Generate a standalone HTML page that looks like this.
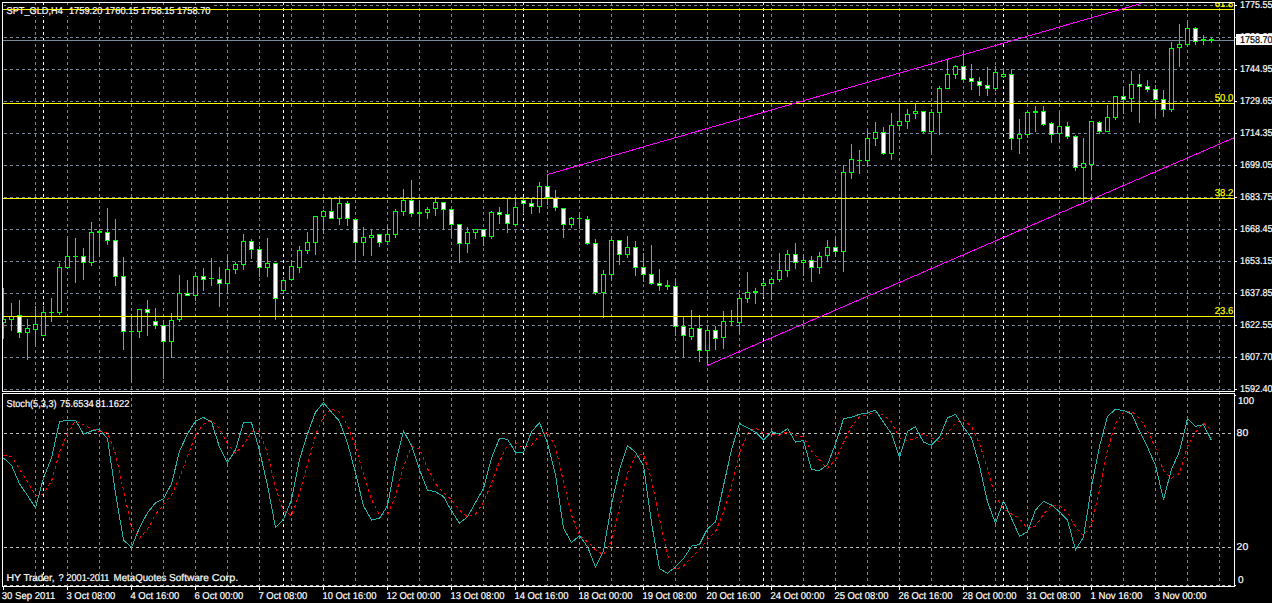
<!DOCTYPE html>
<html><head><meta charset="utf-8"><title>SPT_GLD,H4</title>
<style>html,body{margin:0;padding:0;background:#000;overflow:hidden;font-family:"Liberation Sans",sans-serif}svg text{font-family:"Liberation Sans",sans-serif;white-space:pre}</style>
</head><body>
<svg width="1272" height="603" viewBox="0 0 1272 603" shape-rendering="crispEdges" text-rendering="geometricPrecision" font-family="'Liberation Sans',sans-serif" style="display:block">
<defs><clipPath id="mc"><rect x="3" y="3" width="1231" height="388"/></clipPath><clipPath id="ic"><rect x="3" y="394" width="1231" height="192"/></clipPath></defs>
<rect width="1272" height="603" fill="#000"/>
<g>
<path d="M35 3v2h1v-2zM35 8v3h1v-3zM35 14v3h1v-3zM35 20v3h1v-3zM35 26v3h1v-3zM35 32v3h1v-3zM35 38v3h1v-3zM35 44v3h1v-3zM35 50v3h1v-3zM35 56v3h1v-3zM35 62v3h1v-3zM35 68v3h1v-3zM35 74v3h1v-3zM35 80v3h1v-3zM35 86v3h1v-3zM35 92v3h1v-3zM35 98v3h1v-3zM35 104v3h1v-3zM35 110v3h1v-3zM35 116v3h1v-3zM35 122v3h1v-3zM35 128v3h1v-3zM35 134v3h1v-3zM35 140v3h1v-3zM35 146v3h1v-3zM35 152v3h1v-3zM35 158v3h1v-3zM35 164v3h1v-3zM35 170v3h1v-3zM35 176v3h1v-3zM35 182v3h1v-3zM35 188v3h1v-3zM35 194v3h1v-3zM35 200v3h1v-3zM35 206v3h1v-3zM35 212v3h1v-3zM35 218v3h1v-3zM35 224v3h1v-3zM35 230v3h1v-3zM35 236v3h1v-3zM35 242v3h1v-3zM35 248v3h1v-3zM35 254v3h1v-3zM35 260v3h1v-3zM35 266v3h1v-3zM35 272v3h1v-3zM35 278v3h1v-3zM35 284v3h1v-3zM35 290v3h1v-3zM35 296v3h1v-3zM35 302v3h1v-3zM35 308v3h1v-3zM35 314v3h1v-3zM35 320v3h1v-3zM35 326v3h1v-3zM35 332v3h1v-3zM35 338v3h1v-3zM35 344v3h1v-3zM35 350v3h1v-3zM35 356v3h1v-3zM35 362v3h1v-3zM35 368v3h1v-3zM35 374v3h1v-3zM35 380v3h1v-3zM35 386v3h1v-3zM35 392v3h1v-3zM35 398v3h1v-3zM35 404v3h1v-3zM35 410v3h1v-3zM35 416v3h1v-3zM35 422v3h1v-3zM35 428v3h1v-3zM35 434v3h1v-3zM35 440v3h1v-3zM35 446v3h1v-3zM35 452v3h1v-3zM35 458v3h1v-3zM35 464v3h1v-3zM35 470v3h1v-3zM35 476v3h1v-3zM35 482v3h1v-3zM35 488v3h1v-3zM35 494v3h1v-3zM35 500v3h1v-3zM35 506v3h1v-3zM35 512v3h1v-3zM35 518v3h1v-3zM35 524v3h1v-3zM35 530v3h1v-3zM35 536v3h1v-3zM35 542v3h1v-3zM35 548v3h1v-3zM35 554v3h1v-3zM35 560v3h1v-3zM35 566v3h1v-3zM35 572v3h1v-3zM35 578v3h1v-3zM35 584v2h1v-2z" fill="#778899"/>
<path d="M67 3v2h1v-2zM67 8v3h1v-3zM67 14v3h1v-3zM67 20v3h1v-3zM67 26v3h1v-3zM67 32v3h1v-3zM67 38v3h1v-3zM67 44v3h1v-3zM67 50v3h1v-3zM67 56v3h1v-3zM67 62v3h1v-3zM67 68v3h1v-3zM67 74v3h1v-3zM67 80v3h1v-3zM67 86v3h1v-3zM67 92v3h1v-3zM67 98v3h1v-3zM67 104v3h1v-3zM67 110v3h1v-3zM67 116v3h1v-3zM67 122v3h1v-3zM67 128v3h1v-3zM67 134v3h1v-3zM67 140v3h1v-3zM67 146v3h1v-3zM67 152v3h1v-3zM67 158v3h1v-3zM67 164v3h1v-3zM67 170v3h1v-3zM67 176v3h1v-3zM67 182v3h1v-3zM67 188v3h1v-3zM67 194v3h1v-3zM67 200v3h1v-3zM67 206v3h1v-3zM67 212v3h1v-3zM67 218v3h1v-3zM67 224v3h1v-3zM67 230v3h1v-3zM67 236v3h1v-3zM67 242v3h1v-3zM67 248v3h1v-3zM67 254v3h1v-3zM67 260v3h1v-3zM67 266v3h1v-3zM67 272v3h1v-3zM67 278v3h1v-3zM67 284v3h1v-3zM67 290v3h1v-3zM67 296v3h1v-3zM67 302v3h1v-3zM67 308v3h1v-3zM67 314v3h1v-3zM67 320v3h1v-3zM67 326v3h1v-3zM67 332v3h1v-3zM67 338v3h1v-3zM67 344v3h1v-3zM67 350v3h1v-3zM67 356v3h1v-3zM67 362v3h1v-3zM67 368v3h1v-3zM67 374v3h1v-3zM67 380v3h1v-3zM67 386v3h1v-3zM67 392v3h1v-3zM67 398v3h1v-3zM67 404v3h1v-3zM67 410v3h1v-3zM67 416v3h1v-3zM67 422v3h1v-3zM67 428v3h1v-3zM67 434v3h1v-3zM67 440v3h1v-3zM67 446v3h1v-3zM67 452v3h1v-3zM67 458v3h1v-3zM67 464v3h1v-3zM67 470v3h1v-3zM67 476v3h1v-3zM67 482v3h1v-3zM67 488v3h1v-3zM67 494v3h1v-3zM67 500v3h1v-3zM67 506v3h1v-3zM67 512v3h1v-3zM67 518v3h1v-3zM67 524v3h1v-3zM67 530v3h1v-3zM67 536v3h1v-3zM67 542v3h1v-3zM67 548v3h1v-3zM67 554v3h1v-3zM67 560v3h1v-3zM67 566v3h1v-3zM67 572v3h1v-3zM67 578v3h1v-3zM67 584v2h1v-2z" fill="#778899"/>
<path d="M99 3v2h1v-2zM99 8v3h1v-3zM99 14v3h1v-3zM99 20v3h1v-3zM99 26v3h1v-3zM99 32v3h1v-3zM99 38v3h1v-3zM99 44v3h1v-3zM99 50v3h1v-3zM99 56v3h1v-3zM99 62v3h1v-3zM99 68v3h1v-3zM99 74v3h1v-3zM99 80v3h1v-3zM99 86v3h1v-3zM99 92v3h1v-3zM99 98v3h1v-3zM99 104v3h1v-3zM99 110v3h1v-3zM99 116v3h1v-3zM99 122v3h1v-3zM99 128v3h1v-3zM99 134v3h1v-3zM99 140v3h1v-3zM99 146v3h1v-3zM99 152v3h1v-3zM99 158v3h1v-3zM99 164v3h1v-3zM99 170v3h1v-3zM99 176v3h1v-3zM99 182v3h1v-3zM99 188v3h1v-3zM99 194v3h1v-3zM99 200v3h1v-3zM99 206v3h1v-3zM99 212v3h1v-3zM99 218v3h1v-3zM99 224v3h1v-3zM99 230v3h1v-3zM99 236v3h1v-3zM99 242v3h1v-3zM99 248v3h1v-3zM99 254v3h1v-3zM99 260v3h1v-3zM99 266v3h1v-3zM99 272v3h1v-3zM99 278v3h1v-3zM99 284v3h1v-3zM99 290v3h1v-3zM99 296v3h1v-3zM99 302v3h1v-3zM99 308v3h1v-3zM99 314v3h1v-3zM99 320v3h1v-3zM99 326v3h1v-3zM99 332v3h1v-3zM99 338v3h1v-3zM99 344v3h1v-3zM99 350v3h1v-3zM99 356v3h1v-3zM99 362v3h1v-3zM99 368v3h1v-3zM99 374v3h1v-3zM99 380v3h1v-3zM99 386v3h1v-3zM99 392v3h1v-3zM99 398v3h1v-3zM99 404v3h1v-3zM99 410v3h1v-3zM99 416v3h1v-3zM99 422v3h1v-3zM99 428v3h1v-3zM99 434v3h1v-3zM99 440v3h1v-3zM99 446v3h1v-3zM99 452v3h1v-3zM99 458v3h1v-3zM99 464v3h1v-3zM99 470v3h1v-3zM99 476v3h1v-3zM99 482v3h1v-3zM99 488v3h1v-3zM99 494v3h1v-3zM99 500v3h1v-3zM99 506v3h1v-3zM99 512v3h1v-3zM99 518v3h1v-3zM99 524v3h1v-3zM99 530v3h1v-3zM99 536v3h1v-3zM99 542v3h1v-3zM99 548v3h1v-3zM99 554v3h1v-3zM99 560v3h1v-3zM99 566v3h1v-3zM99 572v3h1v-3zM99 578v3h1v-3zM99 584v2h1v-2z" fill="#778899"/>
<path d="M131 3v2h1v-2zM131 8v3h1v-3zM131 14v3h1v-3zM131 20v3h1v-3zM131 26v3h1v-3zM131 32v3h1v-3zM131 38v3h1v-3zM131 44v3h1v-3zM131 50v3h1v-3zM131 56v3h1v-3zM131 62v3h1v-3zM131 68v3h1v-3zM131 74v3h1v-3zM131 80v3h1v-3zM131 86v3h1v-3zM131 92v3h1v-3zM131 98v3h1v-3zM131 104v3h1v-3zM131 110v3h1v-3zM131 116v3h1v-3zM131 122v3h1v-3zM131 128v3h1v-3zM131 134v3h1v-3zM131 140v3h1v-3zM131 146v3h1v-3zM131 152v3h1v-3zM131 158v3h1v-3zM131 164v3h1v-3zM131 170v3h1v-3zM131 176v3h1v-3zM131 182v3h1v-3zM131 188v3h1v-3zM131 194v3h1v-3zM131 200v3h1v-3zM131 206v3h1v-3zM131 212v3h1v-3zM131 218v3h1v-3zM131 224v3h1v-3zM131 230v3h1v-3zM131 236v3h1v-3zM131 242v3h1v-3zM131 248v3h1v-3zM131 254v3h1v-3zM131 260v3h1v-3zM131 266v3h1v-3zM131 272v3h1v-3zM131 278v3h1v-3zM131 284v3h1v-3zM131 290v3h1v-3zM131 296v3h1v-3zM131 302v3h1v-3zM131 308v3h1v-3zM131 314v3h1v-3zM131 320v3h1v-3zM131 326v3h1v-3zM131 332v3h1v-3zM131 338v3h1v-3zM131 344v3h1v-3zM131 350v3h1v-3zM131 356v3h1v-3zM131 362v3h1v-3zM131 368v3h1v-3zM131 374v3h1v-3zM131 380v3h1v-3zM131 386v3h1v-3zM131 392v3h1v-3zM131 398v3h1v-3zM131 404v3h1v-3zM131 410v3h1v-3zM131 416v3h1v-3zM131 422v3h1v-3zM131 428v3h1v-3zM131 434v3h1v-3zM131 440v3h1v-3zM131 446v3h1v-3zM131 452v3h1v-3zM131 458v3h1v-3zM131 464v3h1v-3zM131 470v3h1v-3zM131 476v3h1v-3zM131 482v3h1v-3zM131 488v3h1v-3zM131 494v3h1v-3zM131 500v3h1v-3zM131 506v3h1v-3zM131 512v3h1v-3zM131 518v3h1v-3zM131 524v3h1v-3zM131 530v3h1v-3zM131 536v3h1v-3zM131 542v3h1v-3zM131 548v3h1v-3zM131 554v3h1v-3zM131 560v3h1v-3zM131 566v3h1v-3zM131 572v3h1v-3zM131 578v3h1v-3zM131 584v2h1v-2z" fill="#778899"/>
<path d="M163 3v2h1v-2zM163 8v3h1v-3zM163 14v3h1v-3zM163 20v3h1v-3zM163 26v3h1v-3zM163 32v3h1v-3zM163 38v3h1v-3zM163 44v3h1v-3zM163 50v3h1v-3zM163 56v3h1v-3zM163 62v3h1v-3zM163 68v3h1v-3zM163 74v3h1v-3zM163 80v3h1v-3zM163 86v3h1v-3zM163 92v3h1v-3zM163 98v3h1v-3zM163 104v3h1v-3zM163 110v3h1v-3zM163 116v3h1v-3zM163 122v3h1v-3zM163 128v3h1v-3zM163 134v3h1v-3zM163 140v3h1v-3zM163 146v3h1v-3zM163 152v3h1v-3zM163 158v3h1v-3zM163 164v3h1v-3zM163 170v3h1v-3zM163 176v3h1v-3zM163 182v3h1v-3zM163 188v3h1v-3zM163 194v3h1v-3zM163 200v3h1v-3zM163 206v3h1v-3zM163 212v3h1v-3zM163 218v3h1v-3zM163 224v3h1v-3zM163 230v3h1v-3zM163 236v3h1v-3zM163 242v3h1v-3zM163 248v3h1v-3zM163 254v3h1v-3zM163 260v3h1v-3zM163 266v3h1v-3zM163 272v3h1v-3zM163 278v3h1v-3zM163 284v3h1v-3zM163 290v3h1v-3zM163 296v3h1v-3zM163 302v3h1v-3zM163 308v3h1v-3zM163 314v3h1v-3zM163 320v3h1v-3zM163 326v3h1v-3zM163 332v3h1v-3zM163 338v3h1v-3zM163 344v3h1v-3zM163 350v3h1v-3zM163 356v3h1v-3zM163 362v3h1v-3zM163 368v3h1v-3zM163 374v3h1v-3zM163 380v3h1v-3zM163 386v3h1v-3zM163 392v3h1v-3zM163 398v3h1v-3zM163 404v3h1v-3zM163 410v3h1v-3zM163 416v3h1v-3zM163 422v3h1v-3zM163 428v3h1v-3zM163 434v3h1v-3zM163 440v3h1v-3zM163 446v3h1v-3zM163 452v3h1v-3zM163 458v3h1v-3zM163 464v3h1v-3zM163 470v3h1v-3zM163 476v3h1v-3zM163 482v3h1v-3zM163 488v3h1v-3zM163 494v3h1v-3zM163 500v3h1v-3zM163 506v3h1v-3zM163 512v3h1v-3zM163 518v3h1v-3zM163 524v3h1v-3zM163 530v3h1v-3zM163 536v3h1v-3zM163 542v3h1v-3zM163 548v3h1v-3zM163 554v3h1v-3zM163 560v3h1v-3zM163 566v3h1v-3zM163 572v3h1v-3zM163 578v3h1v-3zM163 584v2h1v-2z" fill="#778899"/>
<path d="M195 3v2h1v-2zM195 8v3h1v-3zM195 14v3h1v-3zM195 20v3h1v-3zM195 26v3h1v-3zM195 32v3h1v-3zM195 38v3h1v-3zM195 44v3h1v-3zM195 50v3h1v-3zM195 56v3h1v-3zM195 62v3h1v-3zM195 68v3h1v-3zM195 74v3h1v-3zM195 80v3h1v-3zM195 86v3h1v-3zM195 92v3h1v-3zM195 98v3h1v-3zM195 104v3h1v-3zM195 110v3h1v-3zM195 116v3h1v-3zM195 122v3h1v-3zM195 128v3h1v-3zM195 134v3h1v-3zM195 140v3h1v-3zM195 146v3h1v-3zM195 152v3h1v-3zM195 158v3h1v-3zM195 164v3h1v-3zM195 170v3h1v-3zM195 176v3h1v-3zM195 182v3h1v-3zM195 188v3h1v-3zM195 194v3h1v-3zM195 200v3h1v-3zM195 206v3h1v-3zM195 212v3h1v-3zM195 218v3h1v-3zM195 224v3h1v-3zM195 230v3h1v-3zM195 236v3h1v-3zM195 242v3h1v-3zM195 248v3h1v-3zM195 254v3h1v-3zM195 260v3h1v-3zM195 266v3h1v-3zM195 272v3h1v-3zM195 278v3h1v-3zM195 284v3h1v-3zM195 290v3h1v-3zM195 296v3h1v-3zM195 302v3h1v-3zM195 308v3h1v-3zM195 314v3h1v-3zM195 320v3h1v-3zM195 326v3h1v-3zM195 332v3h1v-3zM195 338v3h1v-3zM195 344v3h1v-3zM195 350v3h1v-3zM195 356v3h1v-3zM195 362v3h1v-3zM195 368v3h1v-3zM195 374v3h1v-3zM195 380v3h1v-3zM195 386v3h1v-3zM195 392v3h1v-3zM195 398v3h1v-3zM195 404v3h1v-3zM195 410v3h1v-3zM195 416v3h1v-3zM195 422v3h1v-3zM195 428v3h1v-3zM195 434v3h1v-3zM195 440v3h1v-3zM195 446v3h1v-3zM195 452v3h1v-3zM195 458v3h1v-3zM195 464v3h1v-3zM195 470v3h1v-3zM195 476v3h1v-3zM195 482v3h1v-3zM195 488v3h1v-3zM195 494v3h1v-3zM195 500v3h1v-3zM195 506v3h1v-3zM195 512v3h1v-3zM195 518v3h1v-3zM195 524v3h1v-3zM195 530v3h1v-3zM195 536v3h1v-3zM195 542v3h1v-3zM195 548v3h1v-3zM195 554v3h1v-3zM195 560v3h1v-3zM195 566v3h1v-3zM195 572v3h1v-3zM195 578v3h1v-3zM195 584v2h1v-2z" fill="#778899"/>
<path d="M227 3v2h1v-2zM227 8v3h1v-3zM227 14v3h1v-3zM227 20v3h1v-3zM227 26v3h1v-3zM227 32v3h1v-3zM227 38v3h1v-3zM227 44v3h1v-3zM227 50v3h1v-3zM227 56v3h1v-3zM227 62v3h1v-3zM227 68v3h1v-3zM227 74v3h1v-3zM227 80v3h1v-3zM227 86v3h1v-3zM227 92v3h1v-3zM227 98v3h1v-3zM227 104v3h1v-3zM227 110v3h1v-3zM227 116v3h1v-3zM227 122v3h1v-3zM227 128v3h1v-3zM227 134v3h1v-3zM227 140v3h1v-3zM227 146v3h1v-3zM227 152v3h1v-3zM227 158v3h1v-3zM227 164v3h1v-3zM227 170v3h1v-3zM227 176v3h1v-3zM227 182v3h1v-3zM227 188v3h1v-3zM227 194v3h1v-3zM227 200v3h1v-3zM227 206v3h1v-3zM227 212v3h1v-3zM227 218v3h1v-3zM227 224v3h1v-3zM227 230v3h1v-3zM227 236v3h1v-3zM227 242v3h1v-3zM227 248v3h1v-3zM227 254v3h1v-3zM227 260v3h1v-3zM227 266v3h1v-3zM227 272v3h1v-3zM227 278v3h1v-3zM227 284v3h1v-3zM227 290v3h1v-3zM227 296v3h1v-3zM227 302v3h1v-3zM227 308v3h1v-3zM227 314v3h1v-3zM227 320v3h1v-3zM227 326v3h1v-3zM227 332v3h1v-3zM227 338v3h1v-3zM227 344v3h1v-3zM227 350v3h1v-3zM227 356v3h1v-3zM227 362v3h1v-3zM227 368v3h1v-3zM227 374v3h1v-3zM227 380v3h1v-3zM227 386v3h1v-3zM227 392v3h1v-3zM227 398v3h1v-3zM227 404v3h1v-3zM227 410v3h1v-3zM227 416v3h1v-3zM227 422v3h1v-3zM227 428v3h1v-3zM227 434v3h1v-3zM227 440v3h1v-3zM227 446v3h1v-3zM227 452v3h1v-3zM227 458v3h1v-3zM227 464v3h1v-3zM227 470v3h1v-3zM227 476v3h1v-3zM227 482v3h1v-3zM227 488v3h1v-3zM227 494v3h1v-3zM227 500v3h1v-3zM227 506v3h1v-3zM227 512v3h1v-3zM227 518v3h1v-3zM227 524v3h1v-3zM227 530v3h1v-3zM227 536v3h1v-3zM227 542v3h1v-3zM227 548v3h1v-3zM227 554v3h1v-3zM227 560v3h1v-3zM227 566v3h1v-3zM227 572v3h1v-3zM227 578v3h1v-3zM227 584v2h1v-2z" fill="#778899"/>
<path d="M259 3v2h1v-2zM259 8v3h1v-3zM259 14v3h1v-3zM259 20v3h1v-3zM259 26v3h1v-3zM259 32v3h1v-3zM259 38v3h1v-3zM259 44v3h1v-3zM259 50v3h1v-3zM259 56v3h1v-3zM259 62v3h1v-3zM259 68v3h1v-3zM259 74v3h1v-3zM259 80v3h1v-3zM259 86v3h1v-3zM259 92v3h1v-3zM259 98v3h1v-3zM259 104v3h1v-3zM259 110v3h1v-3zM259 116v3h1v-3zM259 122v3h1v-3zM259 128v3h1v-3zM259 134v3h1v-3zM259 140v3h1v-3zM259 146v3h1v-3zM259 152v3h1v-3zM259 158v3h1v-3zM259 164v3h1v-3zM259 170v3h1v-3zM259 176v3h1v-3zM259 182v3h1v-3zM259 188v3h1v-3zM259 194v3h1v-3zM259 200v3h1v-3zM259 206v3h1v-3zM259 212v3h1v-3zM259 218v3h1v-3zM259 224v3h1v-3zM259 230v3h1v-3zM259 236v3h1v-3zM259 242v3h1v-3zM259 248v3h1v-3zM259 254v3h1v-3zM259 260v3h1v-3zM259 266v3h1v-3zM259 272v3h1v-3zM259 278v3h1v-3zM259 284v3h1v-3zM259 290v3h1v-3zM259 296v3h1v-3zM259 302v3h1v-3zM259 308v3h1v-3zM259 314v3h1v-3zM259 320v3h1v-3zM259 326v3h1v-3zM259 332v3h1v-3zM259 338v3h1v-3zM259 344v3h1v-3zM259 350v3h1v-3zM259 356v3h1v-3zM259 362v3h1v-3zM259 368v3h1v-3zM259 374v3h1v-3zM259 380v3h1v-3zM259 386v3h1v-3zM259 392v3h1v-3zM259 398v3h1v-3zM259 404v3h1v-3zM259 410v3h1v-3zM259 416v3h1v-3zM259 422v3h1v-3zM259 428v3h1v-3zM259 434v3h1v-3zM259 440v3h1v-3zM259 446v3h1v-3zM259 452v3h1v-3zM259 458v3h1v-3zM259 464v3h1v-3zM259 470v3h1v-3zM259 476v3h1v-3zM259 482v3h1v-3zM259 488v3h1v-3zM259 494v3h1v-3zM259 500v3h1v-3zM259 506v3h1v-3zM259 512v3h1v-3zM259 518v3h1v-3zM259 524v3h1v-3zM259 530v3h1v-3zM259 536v3h1v-3zM259 542v3h1v-3zM259 548v3h1v-3zM259 554v3h1v-3zM259 560v3h1v-3zM259 566v3h1v-3zM259 572v3h1v-3zM259 578v3h1v-3zM259 584v2h1v-2z" fill="#778899"/>
<path d="M291 3v2h1v-2zM291 8v3h1v-3zM291 14v3h1v-3zM291 20v3h1v-3zM291 26v3h1v-3zM291 32v3h1v-3zM291 38v3h1v-3zM291 44v3h1v-3zM291 50v3h1v-3zM291 56v3h1v-3zM291 62v3h1v-3zM291 68v3h1v-3zM291 74v3h1v-3zM291 80v3h1v-3zM291 86v3h1v-3zM291 92v3h1v-3zM291 98v3h1v-3zM291 104v3h1v-3zM291 110v3h1v-3zM291 116v3h1v-3zM291 122v3h1v-3zM291 128v3h1v-3zM291 134v3h1v-3zM291 140v3h1v-3zM291 146v3h1v-3zM291 152v3h1v-3zM291 158v3h1v-3zM291 164v3h1v-3zM291 170v3h1v-3zM291 176v3h1v-3zM291 182v3h1v-3zM291 188v3h1v-3zM291 194v3h1v-3zM291 200v3h1v-3zM291 206v3h1v-3zM291 212v3h1v-3zM291 218v3h1v-3zM291 224v3h1v-3zM291 230v3h1v-3zM291 236v3h1v-3zM291 242v3h1v-3zM291 248v3h1v-3zM291 254v3h1v-3zM291 260v3h1v-3zM291 266v3h1v-3zM291 272v3h1v-3zM291 278v3h1v-3zM291 284v3h1v-3zM291 290v3h1v-3zM291 296v3h1v-3zM291 302v3h1v-3zM291 308v3h1v-3zM291 314v3h1v-3zM291 320v3h1v-3zM291 326v3h1v-3zM291 332v3h1v-3zM291 338v3h1v-3zM291 344v3h1v-3zM291 350v3h1v-3zM291 356v3h1v-3zM291 362v3h1v-3zM291 368v3h1v-3zM291 374v3h1v-3zM291 380v3h1v-3zM291 386v3h1v-3zM291 392v3h1v-3zM291 398v3h1v-3zM291 404v3h1v-3zM291 410v3h1v-3zM291 416v3h1v-3zM291 422v3h1v-3zM291 428v3h1v-3zM291 434v3h1v-3zM291 440v3h1v-3zM291 446v3h1v-3zM291 452v3h1v-3zM291 458v3h1v-3zM291 464v3h1v-3zM291 470v3h1v-3zM291 476v3h1v-3zM291 482v3h1v-3zM291 488v3h1v-3zM291 494v3h1v-3zM291 500v3h1v-3zM291 506v3h1v-3zM291 512v3h1v-3zM291 518v3h1v-3zM291 524v3h1v-3zM291 530v3h1v-3zM291 536v3h1v-3zM291 542v3h1v-3zM291 548v3h1v-3zM291 554v3h1v-3zM291 560v3h1v-3zM291 566v3h1v-3zM291 572v3h1v-3zM291 578v3h1v-3zM291 584v2h1v-2z" fill="#778899"/>
<path d="M323 3v2h1v-2zM323 8v3h1v-3zM323 14v3h1v-3zM323 20v3h1v-3zM323 26v3h1v-3zM323 32v3h1v-3zM323 38v3h1v-3zM323 44v3h1v-3zM323 50v3h1v-3zM323 56v3h1v-3zM323 62v3h1v-3zM323 68v3h1v-3zM323 74v3h1v-3zM323 80v3h1v-3zM323 86v3h1v-3zM323 92v3h1v-3zM323 98v3h1v-3zM323 104v3h1v-3zM323 110v3h1v-3zM323 116v3h1v-3zM323 122v3h1v-3zM323 128v3h1v-3zM323 134v3h1v-3zM323 140v3h1v-3zM323 146v3h1v-3zM323 152v3h1v-3zM323 158v3h1v-3zM323 164v3h1v-3zM323 170v3h1v-3zM323 176v3h1v-3zM323 182v3h1v-3zM323 188v3h1v-3zM323 194v3h1v-3zM323 200v3h1v-3zM323 206v3h1v-3zM323 212v3h1v-3zM323 218v3h1v-3zM323 224v3h1v-3zM323 230v3h1v-3zM323 236v3h1v-3zM323 242v3h1v-3zM323 248v3h1v-3zM323 254v3h1v-3zM323 260v3h1v-3zM323 266v3h1v-3zM323 272v3h1v-3zM323 278v3h1v-3zM323 284v3h1v-3zM323 290v3h1v-3zM323 296v3h1v-3zM323 302v3h1v-3zM323 308v3h1v-3zM323 314v3h1v-3zM323 320v3h1v-3zM323 326v3h1v-3zM323 332v3h1v-3zM323 338v3h1v-3zM323 344v3h1v-3zM323 350v3h1v-3zM323 356v3h1v-3zM323 362v3h1v-3zM323 368v3h1v-3zM323 374v3h1v-3zM323 380v3h1v-3zM323 386v3h1v-3zM323 392v3h1v-3zM323 398v3h1v-3zM323 404v3h1v-3zM323 410v3h1v-3zM323 416v3h1v-3zM323 422v3h1v-3zM323 428v3h1v-3zM323 434v3h1v-3zM323 440v3h1v-3zM323 446v3h1v-3zM323 452v3h1v-3zM323 458v3h1v-3zM323 464v3h1v-3zM323 470v3h1v-3zM323 476v3h1v-3zM323 482v3h1v-3zM323 488v3h1v-3zM323 494v3h1v-3zM323 500v3h1v-3zM323 506v3h1v-3zM323 512v3h1v-3zM323 518v3h1v-3zM323 524v3h1v-3zM323 530v3h1v-3zM323 536v3h1v-3zM323 542v3h1v-3zM323 548v3h1v-3zM323 554v3h1v-3zM323 560v3h1v-3zM323 566v3h1v-3zM323 572v3h1v-3zM323 578v3h1v-3zM323 584v2h1v-2z" fill="#778899"/>
<path d="M355 3v2h1v-2zM355 8v3h1v-3zM355 14v3h1v-3zM355 20v3h1v-3zM355 26v3h1v-3zM355 32v3h1v-3zM355 38v3h1v-3zM355 44v3h1v-3zM355 50v3h1v-3zM355 56v3h1v-3zM355 62v3h1v-3zM355 68v3h1v-3zM355 74v3h1v-3zM355 80v3h1v-3zM355 86v3h1v-3zM355 92v3h1v-3zM355 98v3h1v-3zM355 104v3h1v-3zM355 110v3h1v-3zM355 116v3h1v-3zM355 122v3h1v-3zM355 128v3h1v-3zM355 134v3h1v-3zM355 140v3h1v-3zM355 146v3h1v-3zM355 152v3h1v-3zM355 158v3h1v-3zM355 164v3h1v-3zM355 170v3h1v-3zM355 176v3h1v-3zM355 182v3h1v-3zM355 188v3h1v-3zM355 194v3h1v-3zM355 200v3h1v-3zM355 206v3h1v-3zM355 212v3h1v-3zM355 218v3h1v-3zM355 224v3h1v-3zM355 230v3h1v-3zM355 236v3h1v-3zM355 242v3h1v-3zM355 248v3h1v-3zM355 254v3h1v-3zM355 260v3h1v-3zM355 266v3h1v-3zM355 272v3h1v-3zM355 278v3h1v-3zM355 284v3h1v-3zM355 290v3h1v-3zM355 296v3h1v-3zM355 302v3h1v-3zM355 308v3h1v-3zM355 314v3h1v-3zM355 320v3h1v-3zM355 326v3h1v-3zM355 332v3h1v-3zM355 338v3h1v-3zM355 344v3h1v-3zM355 350v3h1v-3zM355 356v3h1v-3zM355 362v3h1v-3zM355 368v3h1v-3zM355 374v3h1v-3zM355 380v3h1v-3zM355 386v3h1v-3zM355 392v3h1v-3zM355 398v3h1v-3zM355 404v3h1v-3zM355 410v3h1v-3zM355 416v3h1v-3zM355 422v3h1v-3zM355 428v3h1v-3zM355 434v3h1v-3zM355 440v3h1v-3zM355 446v3h1v-3zM355 452v3h1v-3zM355 458v3h1v-3zM355 464v3h1v-3zM355 470v3h1v-3zM355 476v3h1v-3zM355 482v3h1v-3zM355 488v3h1v-3zM355 494v3h1v-3zM355 500v3h1v-3zM355 506v3h1v-3zM355 512v3h1v-3zM355 518v3h1v-3zM355 524v3h1v-3zM355 530v3h1v-3zM355 536v3h1v-3zM355 542v3h1v-3zM355 548v3h1v-3zM355 554v3h1v-3zM355 560v3h1v-3zM355 566v3h1v-3zM355 572v3h1v-3zM355 578v3h1v-3zM355 584v2h1v-2z" fill="#778899"/>
<path d="M387 3v2h1v-2zM387 8v3h1v-3zM387 14v3h1v-3zM387 20v3h1v-3zM387 26v3h1v-3zM387 32v3h1v-3zM387 38v3h1v-3zM387 44v3h1v-3zM387 50v3h1v-3zM387 56v3h1v-3zM387 62v3h1v-3zM387 68v3h1v-3zM387 74v3h1v-3zM387 80v3h1v-3zM387 86v3h1v-3zM387 92v3h1v-3zM387 98v3h1v-3zM387 104v3h1v-3zM387 110v3h1v-3zM387 116v3h1v-3zM387 122v3h1v-3zM387 128v3h1v-3zM387 134v3h1v-3zM387 140v3h1v-3zM387 146v3h1v-3zM387 152v3h1v-3zM387 158v3h1v-3zM387 164v3h1v-3zM387 170v3h1v-3zM387 176v3h1v-3zM387 182v3h1v-3zM387 188v3h1v-3zM387 194v3h1v-3zM387 200v3h1v-3zM387 206v3h1v-3zM387 212v3h1v-3zM387 218v3h1v-3zM387 224v3h1v-3zM387 230v3h1v-3zM387 236v3h1v-3zM387 242v3h1v-3zM387 248v3h1v-3zM387 254v3h1v-3zM387 260v3h1v-3zM387 266v3h1v-3zM387 272v3h1v-3zM387 278v3h1v-3zM387 284v3h1v-3zM387 290v3h1v-3zM387 296v3h1v-3zM387 302v3h1v-3zM387 308v3h1v-3zM387 314v3h1v-3zM387 320v3h1v-3zM387 326v3h1v-3zM387 332v3h1v-3zM387 338v3h1v-3zM387 344v3h1v-3zM387 350v3h1v-3zM387 356v3h1v-3zM387 362v3h1v-3zM387 368v3h1v-3zM387 374v3h1v-3zM387 380v3h1v-3zM387 386v3h1v-3zM387 392v3h1v-3zM387 398v3h1v-3zM387 404v3h1v-3zM387 410v3h1v-3zM387 416v3h1v-3zM387 422v3h1v-3zM387 428v3h1v-3zM387 434v3h1v-3zM387 440v3h1v-3zM387 446v3h1v-3zM387 452v3h1v-3zM387 458v3h1v-3zM387 464v3h1v-3zM387 470v3h1v-3zM387 476v3h1v-3zM387 482v3h1v-3zM387 488v3h1v-3zM387 494v3h1v-3zM387 500v3h1v-3zM387 506v3h1v-3zM387 512v3h1v-3zM387 518v3h1v-3zM387 524v3h1v-3zM387 530v3h1v-3zM387 536v3h1v-3zM387 542v3h1v-3zM387 548v3h1v-3zM387 554v3h1v-3zM387 560v3h1v-3zM387 566v3h1v-3zM387 572v3h1v-3zM387 578v3h1v-3zM387 584v2h1v-2z" fill="#778899"/>
<path d="M419 3v2h1v-2zM419 8v3h1v-3zM419 14v3h1v-3zM419 20v3h1v-3zM419 26v3h1v-3zM419 32v3h1v-3zM419 38v3h1v-3zM419 44v3h1v-3zM419 50v3h1v-3zM419 56v3h1v-3zM419 62v3h1v-3zM419 68v3h1v-3zM419 74v3h1v-3zM419 80v3h1v-3zM419 86v3h1v-3zM419 92v3h1v-3zM419 98v3h1v-3zM419 104v3h1v-3zM419 110v3h1v-3zM419 116v3h1v-3zM419 122v3h1v-3zM419 128v3h1v-3zM419 134v3h1v-3zM419 140v3h1v-3zM419 146v3h1v-3zM419 152v3h1v-3zM419 158v3h1v-3zM419 164v3h1v-3zM419 170v3h1v-3zM419 176v3h1v-3zM419 182v3h1v-3zM419 188v3h1v-3zM419 194v3h1v-3zM419 200v3h1v-3zM419 206v3h1v-3zM419 212v3h1v-3zM419 218v3h1v-3zM419 224v3h1v-3zM419 230v3h1v-3zM419 236v3h1v-3zM419 242v3h1v-3zM419 248v3h1v-3zM419 254v3h1v-3zM419 260v3h1v-3zM419 266v3h1v-3zM419 272v3h1v-3zM419 278v3h1v-3zM419 284v3h1v-3zM419 290v3h1v-3zM419 296v3h1v-3zM419 302v3h1v-3zM419 308v3h1v-3zM419 314v3h1v-3zM419 320v3h1v-3zM419 326v3h1v-3zM419 332v3h1v-3zM419 338v3h1v-3zM419 344v3h1v-3zM419 350v3h1v-3zM419 356v3h1v-3zM419 362v3h1v-3zM419 368v3h1v-3zM419 374v3h1v-3zM419 380v3h1v-3zM419 386v3h1v-3zM419 392v3h1v-3zM419 398v3h1v-3zM419 404v3h1v-3zM419 410v3h1v-3zM419 416v3h1v-3zM419 422v3h1v-3zM419 428v3h1v-3zM419 434v3h1v-3zM419 440v3h1v-3zM419 446v3h1v-3zM419 452v3h1v-3zM419 458v3h1v-3zM419 464v3h1v-3zM419 470v3h1v-3zM419 476v3h1v-3zM419 482v3h1v-3zM419 488v3h1v-3zM419 494v3h1v-3zM419 500v3h1v-3zM419 506v3h1v-3zM419 512v3h1v-3zM419 518v3h1v-3zM419 524v3h1v-3zM419 530v3h1v-3zM419 536v3h1v-3zM419 542v3h1v-3zM419 548v3h1v-3zM419 554v3h1v-3zM419 560v3h1v-3zM419 566v3h1v-3zM419 572v3h1v-3zM419 578v3h1v-3zM419 584v2h1v-2z" fill="#778899"/>
<path d="M451 3v2h1v-2zM451 8v3h1v-3zM451 14v3h1v-3zM451 20v3h1v-3zM451 26v3h1v-3zM451 32v3h1v-3zM451 38v3h1v-3zM451 44v3h1v-3zM451 50v3h1v-3zM451 56v3h1v-3zM451 62v3h1v-3zM451 68v3h1v-3zM451 74v3h1v-3zM451 80v3h1v-3zM451 86v3h1v-3zM451 92v3h1v-3zM451 98v3h1v-3zM451 104v3h1v-3zM451 110v3h1v-3zM451 116v3h1v-3zM451 122v3h1v-3zM451 128v3h1v-3zM451 134v3h1v-3zM451 140v3h1v-3zM451 146v3h1v-3zM451 152v3h1v-3zM451 158v3h1v-3zM451 164v3h1v-3zM451 170v3h1v-3zM451 176v3h1v-3zM451 182v3h1v-3zM451 188v3h1v-3zM451 194v3h1v-3zM451 200v3h1v-3zM451 206v3h1v-3zM451 212v3h1v-3zM451 218v3h1v-3zM451 224v3h1v-3zM451 230v3h1v-3zM451 236v3h1v-3zM451 242v3h1v-3zM451 248v3h1v-3zM451 254v3h1v-3zM451 260v3h1v-3zM451 266v3h1v-3zM451 272v3h1v-3zM451 278v3h1v-3zM451 284v3h1v-3zM451 290v3h1v-3zM451 296v3h1v-3zM451 302v3h1v-3zM451 308v3h1v-3zM451 314v3h1v-3zM451 320v3h1v-3zM451 326v3h1v-3zM451 332v3h1v-3zM451 338v3h1v-3zM451 344v3h1v-3zM451 350v3h1v-3zM451 356v3h1v-3zM451 362v3h1v-3zM451 368v3h1v-3zM451 374v3h1v-3zM451 380v3h1v-3zM451 386v3h1v-3zM451 392v3h1v-3zM451 398v3h1v-3zM451 404v3h1v-3zM451 410v3h1v-3zM451 416v3h1v-3zM451 422v3h1v-3zM451 428v3h1v-3zM451 434v3h1v-3zM451 440v3h1v-3zM451 446v3h1v-3zM451 452v3h1v-3zM451 458v3h1v-3zM451 464v3h1v-3zM451 470v3h1v-3zM451 476v3h1v-3zM451 482v3h1v-3zM451 488v3h1v-3zM451 494v3h1v-3zM451 500v3h1v-3zM451 506v3h1v-3zM451 512v3h1v-3zM451 518v3h1v-3zM451 524v3h1v-3zM451 530v3h1v-3zM451 536v3h1v-3zM451 542v3h1v-3zM451 548v3h1v-3zM451 554v3h1v-3zM451 560v3h1v-3zM451 566v3h1v-3zM451 572v3h1v-3zM451 578v3h1v-3zM451 584v2h1v-2z" fill="#778899"/>
<path d="M483 3v2h1v-2zM483 8v3h1v-3zM483 14v3h1v-3zM483 20v3h1v-3zM483 26v3h1v-3zM483 32v3h1v-3zM483 38v3h1v-3zM483 44v3h1v-3zM483 50v3h1v-3zM483 56v3h1v-3zM483 62v3h1v-3zM483 68v3h1v-3zM483 74v3h1v-3zM483 80v3h1v-3zM483 86v3h1v-3zM483 92v3h1v-3zM483 98v3h1v-3zM483 104v3h1v-3zM483 110v3h1v-3zM483 116v3h1v-3zM483 122v3h1v-3zM483 128v3h1v-3zM483 134v3h1v-3zM483 140v3h1v-3zM483 146v3h1v-3zM483 152v3h1v-3zM483 158v3h1v-3zM483 164v3h1v-3zM483 170v3h1v-3zM483 176v3h1v-3zM483 182v3h1v-3zM483 188v3h1v-3zM483 194v3h1v-3zM483 200v3h1v-3zM483 206v3h1v-3zM483 212v3h1v-3zM483 218v3h1v-3zM483 224v3h1v-3zM483 230v3h1v-3zM483 236v3h1v-3zM483 242v3h1v-3zM483 248v3h1v-3zM483 254v3h1v-3zM483 260v3h1v-3zM483 266v3h1v-3zM483 272v3h1v-3zM483 278v3h1v-3zM483 284v3h1v-3zM483 290v3h1v-3zM483 296v3h1v-3zM483 302v3h1v-3zM483 308v3h1v-3zM483 314v3h1v-3zM483 320v3h1v-3zM483 326v3h1v-3zM483 332v3h1v-3zM483 338v3h1v-3zM483 344v3h1v-3zM483 350v3h1v-3zM483 356v3h1v-3zM483 362v3h1v-3zM483 368v3h1v-3zM483 374v3h1v-3zM483 380v3h1v-3zM483 386v3h1v-3zM483 392v3h1v-3zM483 398v3h1v-3zM483 404v3h1v-3zM483 410v3h1v-3zM483 416v3h1v-3zM483 422v3h1v-3zM483 428v3h1v-3zM483 434v3h1v-3zM483 440v3h1v-3zM483 446v3h1v-3zM483 452v3h1v-3zM483 458v3h1v-3zM483 464v3h1v-3zM483 470v3h1v-3zM483 476v3h1v-3zM483 482v3h1v-3zM483 488v3h1v-3zM483 494v3h1v-3zM483 500v3h1v-3zM483 506v3h1v-3zM483 512v3h1v-3zM483 518v3h1v-3zM483 524v3h1v-3zM483 530v3h1v-3zM483 536v3h1v-3zM483 542v3h1v-3zM483 548v3h1v-3zM483 554v3h1v-3zM483 560v3h1v-3zM483 566v3h1v-3zM483 572v3h1v-3zM483 578v3h1v-3zM483 584v2h1v-2z" fill="#778899"/>
<path d="M515 3v2h1v-2zM515 8v3h1v-3zM515 14v3h1v-3zM515 20v3h1v-3zM515 26v3h1v-3zM515 32v3h1v-3zM515 38v3h1v-3zM515 44v3h1v-3zM515 50v3h1v-3zM515 56v3h1v-3zM515 62v3h1v-3zM515 68v3h1v-3zM515 74v3h1v-3zM515 80v3h1v-3zM515 86v3h1v-3zM515 92v3h1v-3zM515 98v3h1v-3zM515 104v3h1v-3zM515 110v3h1v-3zM515 116v3h1v-3zM515 122v3h1v-3zM515 128v3h1v-3zM515 134v3h1v-3zM515 140v3h1v-3zM515 146v3h1v-3zM515 152v3h1v-3zM515 158v3h1v-3zM515 164v3h1v-3zM515 170v3h1v-3zM515 176v3h1v-3zM515 182v3h1v-3zM515 188v3h1v-3zM515 194v3h1v-3zM515 200v3h1v-3zM515 206v3h1v-3zM515 212v3h1v-3zM515 218v3h1v-3zM515 224v3h1v-3zM515 230v3h1v-3zM515 236v3h1v-3zM515 242v3h1v-3zM515 248v3h1v-3zM515 254v3h1v-3zM515 260v3h1v-3zM515 266v3h1v-3zM515 272v3h1v-3zM515 278v3h1v-3zM515 284v3h1v-3zM515 290v3h1v-3zM515 296v3h1v-3zM515 302v3h1v-3zM515 308v3h1v-3zM515 314v3h1v-3zM515 320v3h1v-3zM515 326v3h1v-3zM515 332v3h1v-3zM515 338v3h1v-3zM515 344v3h1v-3zM515 350v3h1v-3zM515 356v3h1v-3zM515 362v3h1v-3zM515 368v3h1v-3zM515 374v3h1v-3zM515 380v3h1v-3zM515 386v3h1v-3zM515 392v3h1v-3zM515 398v3h1v-3zM515 404v3h1v-3zM515 410v3h1v-3zM515 416v3h1v-3zM515 422v3h1v-3zM515 428v3h1v-3zM515 434v3h1v-3zM515 440v3h1v-3zM515 446v3h1v-3zM515 452v3h1v-3zM515 458v3h1v-3zM515 464v3h1v-3zM515 470v3h1v-3zM515 476v3h1v-3zM515 482v3h1v-3zM515 488v3h1v-3zM515 494v3h1v-3zM515 500v3h1v-3zM515 506v3h1v-3zM515 512v3h1v-3zM515 518v3h1v-3zM515 524v3h1v-3zM515 530v3h1v-3zM515 536v3h1v-3zM515 542v3h1v-3zM515 548v3h1v-3zM515 554v3h1v-3zM515 560v3h1v-3zM515 566v3h1v-3zM515 572v3h1v-3zM515 578v3h1v-3zM515 584v2h1v-2z" fill="#778899"/>
<path d="M547 3v2h1v-2zM547 8v3h1v-3zM547 14v3h1v-3zM547 20v3h1v-3zM547 26v3h1v-3zM547 32v3h1v-3zM547 38v3h1v-3zM547 44v3h1v-3zM547 50v3h1v-3zM547 56v3h1v-3zM547 62v3h1v-3zM547 68v3h1v-3zM547 74v3h1v-3zM547 80v3h1v-3zM547 86v3h1v-3zM547 92v3h1v-3zM547 98v3h1v-3zM547 104v3h1v-3zM547 110v3h1v-3zM547 116v3h1v-3zM547 122v3h1v-3zM547 128v3h1v-3zM547 134v3h1v-3zM547 140v3h1v-3zM547 146v3h1v-3zM547 152v3h1v-3zM547 158v3h1v-3zM547 164v3h1v-3zM547 170v3h1v-3zM547 176v3h1v-3zM547 182v3h1v-3zM547 188v3h1v-3zM547 194v3h1v-3zM547 200v3h1v-3zM547 206v3h1v-3zM547 212v3h1v-3zM547 218v3h1v-3zM547 224v3h1v-3zM547 230v3h1v-3zM547 236v3h1v-3zM547 242v3h1v-3zM547 248v3h1v-3zM547 254v3h1v-3zM547 260v3h1v-3zM547 266v3h1v-3zM547 272v3h1v-3zM547 278v3h1v-3zM547 284v3h1v-3zM547 290v3h1v-3zM547 296v3h1v-3zM547 302v3h1v-3zM547 308v3h1v-3zM547 314v3h1v-3zM547 320v3h1v-3zM547 326v3h1v-3zM547 332v3h1v-3zM547 338v3h1v-3zM547 344v3h1v-3zM547 350v3h1v-3zM547 356v3h1v-3zM547 362v3h1v-3zM547 368v3h1v-3zM547 374v3h1v-3zM547 380v3h1v-3zM547 386v3h1v-3zM547 392v3h1v-3zM547 398v3h1v-3zM547 404v3h1v-3zM547 410v3h1v-3zM547 416v3h1v-3zM547 422v3h1v-3zM547 428v3h1v-3zM547 434v3h1v-3zM547 440v3h1v-3zM547 446v3h1v-3zM547 452v3h1v-3zM547 458v3h1v-3zM547 464v3h1v-3zM547 470v3h1v-3zM547 476v3h1v-3zM547 482v3h1v-3zM547 488v3h1v-3zM547 494v3h1v-3zM547 500v3h1v-3zM547 506v3h1v-3zM547 512v3h1v-3zM547 518v3h1v-3zM547 524v3h1v-3zM547 530v3h1v-3zM547 536v3h1v-3zM547 542v3h1v-3zM547 548v3h1v-3zM547 554v3h1v-3zM547 560v3h1v-3zM547 566v3h1v-3zM547 572v3h1v-3zM547 578v3h1v-3zM547 584v2h1v-2z" fill="#778899"/>
<path d="M579 3v2h1v-2zM579 8v3h1v-3zM579 14v3h1v-3zM579 20v3h1v-3zM579 26v3h1v-3zM579 32v3h1v-3zM579 38v3h1v-3zM579 44v3h1v-3zM579 50v3h1v-3zM579 56v3h1v-3zM579 62v3h1v-3zM579 68v3h1v-3zM579 74v3h1v-3zM579 80v3h1v-3zM579 86v3h1v-3zM579 92v3h1v-3zM579 98v3h1v-3zM579 104v3h1v-3zM579 110v3h1v-3zM579 116v3h1v-3zM579 122v3h1v-3zM579 128v3h1v-3zM579 134v3h1v-3zM579 140v3h1v-3zM579 146v3h1v-3zM579 152v3h1v-3zM579 158v3h1v-3zM579 164v3h1v-3zM579 170v3h1v-3zM579 176v3h1v-3zM579 182v3h1v-3zM579 188v3h1v-3zM579 194v3h1v-3zM579 200v3h1v-3zM579 206v3h1v-3zM579 212v3h1v-3zM579 218v3h1v-3zM579 224v3h1v-3zM579 230v3h1v-3zM579 236v3h1v-3zM579 242v3h1v-3zM579 248v3h1v-3zM579 254v3h1v-3zM579 260v3h1v-3zM579 266v3h1v-3zM579 272v3h1v-3zM579 278v3h1v-3zM579 284v3h1v-3zM579 290v3h1v-3zM579 296v3h1v-3zM579 302v3h1v-3zM579 308v3h1v-3zM579 314v3h1v-3zM579 320v3h1v-3zM579 326v3h1v-3zM579 332v3h1v-3zM579 338v3h1v-3zM579 344v3h1v-3zM579 350v3h1v-3zM579 356v3h1v-3zM579 362v3h1v-3zM579 368v3h1v-3zM579 374v3h1v-3zM579 380v3h1v-3zM579 386v3h1v-3zM579 392v3h1v-3zM579 398v3h1v-3zM579 404v3h1v-3zM579 410v3h1v-3zM579 416v3h1v-3zM579 422v3h1v-3zM579 428v3h1v-3zM579 434v3h1v-3zM579 440v3h1v-3zM579 446v3h1v-3zM579 452v3h1v-3zM579 458v3h1v-3zM579 464v3h1v-3zM579 470v3h1v-3zM579 476v3h1v-3zM579 482v3h1v-3zM579 488v3h1v-3zM579 494v3h1v-3zM579 500v3h1v-3zM579 506v3h1v-3zM579 512v3h1v-3zM579 518v3h1v-3zM579 524v3h1v-3zM579 530v3h1v-3zM579 536v3h1v-3zM579 542v3h1v-3zM579 548v3h1v-3zM579 554v3h1v-3zM579 560v3h1v-3zM579 566v3h1v-3zM579 572v3h1v-3zM579 578v3h1v-3zM579 584v2h1v-2z" fill="#778899"/>
<path d="M611 3v2h1v-2zM611 8v3h1v-3zM611 14v3h1v-3zM611 20v3h1v-3zM611 26v3h1v-3zM611 32v3h1v-3zM611 38v3h1v-3zM611 44v3h1v-3zM611 50v3h1v-3zM611 56v3h1v-3zM611 62v3h1v-3zM611 68v3h1v-3zM611 74v3h1v-3zM611 80v3h1v-3zM611 86v3h1v-3zM611 92v3h1v-3zM611 98v3h1v-3zM611 104v3h1v-3zM611 110v3h1v-3zM611 116v3h1v-3zM611 122v3h1v-3zM611 128v3h1v-3zM611 134v3h1v-3zM611 140v3h1v-3zM611 146v3h1v-3zM611 152v3h1v-3zM611 158v3h1v-3zM611 164v3h1v-3zM611 170v3h1v-3zM611 176v3h1v-3zM611 182v3h1v-3zM611 188v3h1v-3zM611 194v3h1v-3zM611 200v3h1v-3zM611 206v3h1v-3zM611 212v3h1v-3zM611 218v3h1v-3zM611 224v3h1v-3zM611 230v3h1v-3zM611 236v3h1v-3zM611 242v3h1v-3zM611 248v3h1v-3zM611 254v3h1v-3zM611 260v3h1v-3zM611 266v3h1v-3zM611 272v3h1v-3zM611 278v3h1v-3zM611 284v3h1v-3zM611 290v3h1v-3zM611 296v3h1v-3zM611 302v3h1v-3zM611 308v3h1v-3zM611 314v3h1v-3zM611 320v3h1v-3zM611 326v3h1v-3zM611 332v3h1v-3zM611 338v3h1v-3zM611 344v3h1v-3zM611 350v3h1v-3zM611 356v3h1v-3zM611 362v3h1v-3zM611 368v3h1v-3zM611 374v3h1v-3zM611 380v3h1v-3zM611 386v3h1v-3zM611 392v3h1v-3zM611 398v3h1v-3zM611 404v3h1v-3zM611 410v3h1v-3zM611 416v3h1v-3zM611 422v3h1v-3zM611 428v3h1v-3zM611 434v3h1v-3zM611 440v3h1v-3zM611 446v3h1v-3zM611 452v3h1v-3zM611 458v3h1v-3zM611 464v3h1v-3zM611 470v3h1v-3zM611 476v3h1v-3zM611 482v3h1v-3zM611 488v3h1v-3zM611 494v3h1v-3zM611 500v3h1v-3zM611 506v3h1v-3zM611 512v3h1v-3zM611 518v3h1v-3zM611 524v3h1v-3zM611 530v3h1v-3zM611 536v3h1v-3zM611 542v3h1v-3zM611 548v3h1v-3zM611 554v3h1v-3zM611 560v3h1v-3zM611 566v3h1v-3zM611 572v3h1v-3zM611 578v3h1v-3zM611 584v2h1v-2z" fill="#778899"/>
<path d="M643 3v2h1v-2zM643 8v3h1v-3zM643 14v3h1v-3zM643 20v3h1v-3zM643 26v3h1v-3zM643 32v3h1v-3zM643 38v3h1v-3zM643 44v3h1v-3zM643 50v3h1v-3zM643 56v3h1v-3zM643 62v3h1v-3zM643 68v3h1v-3zM643 74v3h1v-3zM643 80v3h1v-3zM643 86v3h1v-3zM643 92v3h1v-3zM643 98v3h1v-3zM643 104v3h1v-3zM643 110v3h1v-3zM643 116v3h1v-3zM643 122v3h1v-3zM643 128v3h1v-3zM643 134v3h1v-3zM643 140v3h1v-3zM643 146v3h1v-3zM643 152v3h1v-3zM643 158v3h1v-3zM643 164v3h1v-3zM643 170v3h1v-3zM643 176v3h1v-3zM643 182v3h1v-3zM643 188v3h1v-3zM643 194v3h1v-3zM643 200v3h1v-3zM643 206v3h1v-3zM643 212v3h1v-3zM643 218v3h1v-3zM643 224v3h1v-3zM643 230v3h1v-3zM643 236v3h1v-3zM643 242v3h1v-3zM643 248v3h1v-3zM643 254v3h1v-3zM643 260v3h1v-3zM643 266v3h1v-3zM643 272v3h1v-3zM643 278v3h1v-3zM643 284v3h1v-3zM643 290v3h1v-3zM643 296v3h1v-3zM643 302v3h1v-3zM643 308v3h1v-3zM643 314v3h1v-3zM643 320v3h1v-3zM643 326v3h1v-3zM643 332v3h1v-3zM643 338v3h1v-3zM643 344v3h1v-3zM643 350v3h1v-3zM643 356v3h1v-3zM643 362v3h1v-3zM643 368v3h1v-3zM643 374v3h1v-3zM643 380v3h1v-3zM643 386v3h1v-3zM643 392v3h1v-3zM643 398v3h1v-3zM643 404v3h1v-3zM643 410v3h1v-3zM643 416v3h1v-3zM643 422v3h1v-3zM643 428v3h1v-3zM643 434v3h1v-3zM643 440v3h1v-3zM643 446v3h1v-3zM643 452v3h1v-3zM643 458v3h1v-3zM643 464v3h1v-3zM643 470v3h1v-3zM643 476v3h1v-3zM643 482v3h1v-3zM643 488v3h1v-3zM643 494v3h1v-3zM643 500v3h1v-3zM643 506v3h1v-3zM643 512v3h1v-3zM643 518v3h1v-3zM643 524v3h1v-3zM643 530v3h1v-3zM643 536v3h1v-3zM643 542v3h1v-3zM643 548v3h1v-3zM643 554v3h1v-3zM643 560v3h1v-3zM643 566v3h1v-3zM643 572v3h1v-3zM643 578v3h1v-3zM643 584v2h1v-2z" fill="#778899"/>
<path d="M675 3v2h1v-2zM675 8v3h1v-3zM675 14v3h1v-3zM675 20v3h1v-3zM675 26v3h1v-3zM675 32v3h1v-3zM675 38v3h1v-3zM675 44v3h1v-3zM675 50v3h1v-3zM675 56v3h1v-3zM675 62v3h1v-3zM675 68v3h1v-3zM675 74v3h1v-3zM675 80v3h1v-3zM675 86v3h1v-3zM675 92v3h1v-3zM675 98v3h1v-3zM675 104v3h1v-3zM675 110v3h1v-3zM675 116v3h1v-3zM675 122v3h1v-3zM675 128v3h1v-3zM675 134v3h1v-3zM675 140v3h1v-3zM675 146v3h1v-3zM675 152v3h1v-3zM675 158v3h1v-3zM675 164v3h1v-3zM675 170v3h1v-3zM675 176v3h1v-3zM675 182v3h1v-3zM675 188v3h1v-3zM675 194v3h1v-3zM675 200v3h1v-3zM675 206v3h1v-3zM675 212v3h1v-3zM675 218v3h1v-3zM675 224v3h1v-3zM675 230v3h1v-3zM675 236v3h1v-3zM675 242v3h1v-3zM675 248v3h1v-3zM675 254v3h1v-3zM675 260v3h1v-3zM675 266v3h1v-3zM675 272v3h1v-3zM675 278v3h1v-3zM675 284v3h1v-3zM675 290v3h1v-3zM675 296v3h1v-3zM675 302v3h1v-3zM675 308v3h1v-3zM675 314v3h1v-3zM675 320v3h1v-3zM675 326v3h1v-3zM675 332v3h1v-3zM675 338v3h1v-3zM675 344v3h1v-3zM675 350v3h1v-3zM675 356v3h1v-3zM675 362v3h1v-3zM675 368v3h1v-3zM675 374v3h1v-3zM675 380v3h1v-3zM675 386v3h1v-3zM675 392v3h1v-3zM675 398v3h1v-3zM675 404v3h1v-3zM675 410v3h1v-3zM675 416v3h1v-3zM675 422v3h1v-3zM675 428v3h1v-3zM675 434v3h1v-3zM675 440v3h1v-3zM675 446v3h1v-3zM675 452v3h1v-3zM675 458v3h1v-3zM675 464v3h1v-3zM675 470v3h1v-3zM675 476v3h1v-3zM675 482v3h1v-3zM675 488v3h1v-3zM675 494v3h1v-3zM675 500v3h1v-3zM675 506v3h1v-3zM675 512v3h1v-3zM675 518v3h1v-3zM675 524v3h1v-3zM675 530v3h1v-3zM675 536v3h1v-3zM675 542v3h1v-3zM675 548v3h1v-3zM675 554v3h1v-3zM675 560v3h1v-3zM675 566v3h1v-3zM675 572v3h1v-3zM675 578v3h1v-3zM675 584v2h1v-2z" fill="#778899"/>
<path d="M707 3v2h1v-2zM707 8v3h1v-3zM707 14v3h1v-3zM707 20v3h1v-3zM707 26v3h1v-3zM707 32v3h1v-3zM707 38v3h1v-3zM707 44v3h1v-3zM707 50v3h1v-3zM707 56v3h1v-3zM707 62v3h1v-3zM707 68v3h1v-3zM707 74v3h1v-3zM707 80v3h1v-3zM707 86v3h1v-3zM707 92v3h1v-3zM707 98v3h1v-3zM707 104v3h1v-3zM707 110v3h1v-3zM707 116v3h1v-3zM707 122v3h1v-3zM707 128v3h1v-3zM707 134v3h1v-3zM707 140v3h1v-3zM707 146v3h1v-3zM707 152v3h1v-3zM707 158v3h1v-3zM707 164v3h1v-3zM707 170v3h1v-3zM707 176v3h1v-3zM707 182v3h1v-3zM707 188v3h1v-3zM707 194v3h1v-3zM707 200v3h1v-3zM707 206v3h1v-3zM707 212v3h1v-3zM707 218v3h1v-3zM707 224v3h1v-3zM707 230v3h1v-3zM707 236v3h1v-3zM707 242v3h1v-3zM707 248v3h1v-3zM707 254v3h1v-3zM707 260v3h1v-3zM707 266v3h1v-3zM707 272v3h1v-3zM707 278v3h1v-3zM707 284v3h1v-3zM707 290v3h1v-3zM707 296v3h1v-3zM707 302v3h1v-3zM707 308v3h1v-3zM707 314v3h1v-3zM707 320v3h1v-3zM707 326v3h1v-3zM707 332v3h1v-3zM707 338v3h1v-3zM707 344v3h1v-3zM707 350v3h1v-3zM707 356v3h1v-3zM707 362v3h1v-3zM707 368v3h1v-3zM707 374v3h1v-3zM707 380v3h1v-3zM707 386v3h1v-3zM707 392v3h1v-3zM707 398v3h1v-3zM707 404v3h1v-3zM707 410v3h1v-3zM707 416v3h1v-3zM707 422v3h1v-3zM707 428v3h1v-3zM707 434v3h1v-3zM707 440v3h1v-3zM707 446v3h1v-3zM707 452v3h1v-3zM707 458v3h1v-3zM707 464v3h1v-3zM707 470v3h1v-3zM707 476v3h1v-3zM707 482v3h1v-3zM707 488v3h1v-3zM707 494v3h1v-3zM707 500v3h1v-3zM707 506v3h1v-3zM707 512v3h1v-3zM707 518v3h1v-3zM707 524v3h1v-3zM707 530v3h1v-3zM707 536v3h1v-3zM707 542v3h1v-3zM707 548v3h1v-3zM707 554v3h1v-3zM707 560v3h1v-3zM707 566v3h1v-3zM707 572v3h1v-3zM707 578v3h1v-3zM707 584v2h1v-2z" fill="#778899"/>
<path d="M739 3v2h1v-2zM739 8v3h1v-3zM739 14v3h1v-3zM739 20v3h1v-3zM739 26v3h1v-3zM739 32v3h1v-3zM739 38v3h1v-3zM739 44v3h1v-3zM739 50v3h1v-3zM739 56v3h1v-3zM739 62v3h1v-3zM739 68v3h1v-3zM739 74v3h1v-3zM739 80v3h1v-3zM739 86v3h1v-3zM739 92v3h1v-3zM739 98v3h1v-3zM739 104v3h1v-3zM739 110v3h1v-3zM739 116v3h1v-3zM739 122v3h1v-3zM739 128v3h1v-3zM739 134v3h1v-3zM739 140v3h1v-3zM739 146v3h1v-3zM739 152v3h1v-3zM739 158v3h1v-3zM739 164v3h1v-3zM739 170v3h1v-3zM739 176v3h1v-3zM739 182v3h1v-3zM739 188v3h1v-3zM739 194v3h1v-3zM739 200v3h1v-3zM739 206v3h1v-3zM739 212v3h1v-3zM739 218v3h1v-3zM739 224v3h1v-3zM739 230v3h1v-3zM739 236v3h1v-3zM739 242v3h1v-3zM739 248v3h1v-3zM739 254v3h1v-3zM739 260v3h1v-3zM739 266v3h1v-3zM739 272v3h1v-3zM739 278v3h1v-3zM739 284v3h1v-3zM739 290v3h1v-3zM739 296v3h1v-3zM739 302v3h1v-3zM739 308v3h1v-3zM739 314v3h1v-3zM739 320v3h1v-3zM739 326v3h1v-3zM739 332v3h1v-3zM739 338v3h1v-3zM739 344v3h1v-3zM739 350v3h1v-3zM739 356v3h1v-3zM739 362v3h1v-3zM739 368v3h1v-3zM739 374v3h1v-3zM739 380v3h1v-3zM739 386v3h1v-3zM739 392v3h1v-3zM739 398v3h1v-3zM739 404v3h1v-3zM739 410v3h1v-3zM739 416v3h1v-3zM739 422v3h1v-3zM739 428v3h1v-3zM739 434v3h1v-3zM739 440v3h1v-3zM739 446v3h1v-3zM739 452v3h1v-3zM739 458v3h1v-3zM739 464v3h1v-3zM739 470v3h1v-3zM739 476v3h1v-3zM739 482v3h1v-3zM739 488v3h1v-3zM739 494v3h1v-3zM739 500v3h1v-3zM739 506v3h1v-3zM739 512v3h1v-3zM739 518v3h1v-3zM739 524v3h1v-3zM739 530v3h1v-3zM739 536v3h1v-3zM739 542v3h1v-3zM739 548v3h1v-3zM739 554v3h1v-3zM739 560v3h1v-3zM739 566v3h1v-3zM739 572v3h1v-3zM739 578v3h1v-3zM739 584v2h1v-2z" fill="#778899"/>
<path d="M771 3v2h1v-2zM771 8v3h1v-3zM771 14v3h1v-3zM771 20v3h1v-3zM771 26v3h1v-3zM771 32v3h1v-3zM771 38v3h1v-3zM771 44v3h1v-3zM771 50v3h1v-3zM771 56v3h1v-3zM771 62v3h1v-3zM771 68v3h1v-3zM771 74v3h1v-3zM771 80v3h1v-3zM771 86v3h1v-3zM771 92v3h1v-3zM771 98v3h1v-3zM771 104v3h1v-3zM771 110v3h1v-3zM771 116v3h1v-3zM771 122v3h1v-3zM771 128v3h1v-3zM771 134v3h1v-3zM771 140v3h1v-3zM771 146v3h1v-3zM771 152v3h1v-3zM771 158v3h1v-3zM771 164v3h1v-3zM771 170v3h1v-3zM771 176v3h1v-3zM771 182v3h1v-3zM771 188v3h1v-3zM771 194v3h1v-3zM771 200v3h1v-3zM771 206v3h1v-3zM771 212v3h1v-3zM771 218v3h1v-3zM771 224v3h1v-3zM771 230v3h1v-3zM771 236v3h1v-3zM771 242v3h1v-3zM771 248v3h1v-3zM771 254v3h1v-3zM771 260v3h1v-3zM771 266v3h1v-3zM771 272v3h1v-3zM771 278v3h1v-3zM771 284v3h1v-3zM771 290v3h1v-3zM771 296v3h1v-3zM771 302v3h1v-3zM771 308v3h1v-3zM771 314v3h1v-3zM771 320v3h1v-3zM771 326v3h1v-3zM771 332v3h1v-3zM771 338v3h1v-3zM771 344v3h1v-3zM771 350v3h1v-3zM771 356v3h1v-3zM771 362v3h1v-3zM771 368v3h1v-3zM771 374v3h1v-3zM771 380v3h1v-3zM771 386v3h1v-3zM771 392v3h1v-3zM771 398v3h1v-3zM771 404v3h1v-3zM771 410v3h1v-3zM771 416v3h1v-3zM771 422v3h1v-3zM771 428v3h1v-3zM771 434v3h1v-3zM771 440v3h1v-3zM771 446v3h1v-3zM771 452v3h1v-3zM771 458v3h1v-3zM771 464v3h1v-3zM771 470v3h1v-3zM771 476v3h1v-3zM771 482v3h1v-3zM771 488v3h1v-3zM771 494v3h1v-3zM771 500v3h1v-3zM771 506v3h1v-3zM771 512v3h1v-3zM771 518v3h1v-3zM771 524v3h1v-3zM771 530v3h1v-3zM771 536v3h1v-3zM771 542v3h1v-3zM771 548v3h1v-3zM771 554v3h1v-3zM771 560v3h1v-3zM771 566v3h1v-3zM771 572v3h1v-3zM771 578v3h1v-3zM771 584v2h1v-2z" fill="#778899"/>
<path d="M803 3v2h1v-2zM803 8v3h1v-3zM803 14v3h1v-3zM803 20v3h1v-3zM803 26v3h1v-3zM803 32v3h1v-3zM803 38v3h1v-3zM803 44v3h1v-3zM803 50v3h1v-3zM803 56v3h1v-3zM803 62v3h1v-3zM803 68v3h1v-3zM803 74v3h1v-3zM803 80v3h1v-3zM803 86v3h1v-3zM803 92v3h1v-3zM803 98v3h1v-3zM803 104v3h1v-3zM803 110v3h1v-3zM803 116v3h1v-3zM803 122v3h1v-3zM803 128v3h1v-3zM803 134v3h1v-3zM803 140v3h1v-3zM803 146v3h1v-3zM803 152v3h1v-3zM803 158v3h1v-3zM803 164v3h1v-3zM803 170v3h1v-3zM803 176v3h1v-3zM803 182v3h1v-3zM803 188v3h1v-3zM803 194v3h1v-3zM803 200v3h1v-3zM803 206v3h1v-3zM803 212v3h1v-3zM803 218v3h1v-3zM803 224v3h1v-3zM803 230v3h1v-3zM803 236v3h1v-3zM803 242v3h1v-3zM803 248v3h1v-3zM803 254v3h1v-3zM803 260v3h1v-3zM803 266v3h1v-3zM803 272v3h1v-3zM803 278v3h1v-3zM803 284v3h1v-3zM803 290v3h1v-3zM803 296v3h1v-3zM803 302v3h1v-3zM803 308v3h1v-3zM803 314v3h1v-3zM803 320v3h1v-3zM803 326v3h1v-3zM803 332v3h1v-3zM803 338v3h1v-3zM803 344v3h1v-3zM803 350v3h1v-3zM803 356v3h1v-3zM803 362v3h1v-3zM803 368v3h1v-3zM803 374v3h1v-3zM803 380v3h1v-3zM803 386v3h1v-3zM803 392v3h1v-3zM803 398v3h1v-3zM803 404v3h1v-3zM803 410v3h1v-3zM803 416v3h1v-3zM803 422v3h1v-3zM803 428v3h1v-3zM803 434v3h1v-3zM803 440v3h1v-3zM803 446v3h1v-3zM803 452v3h1v-3zM803 458v3h1v-3zM803 464v3h1v-3zM803 470v3h1v-3zM803 476v3h1v-3zM803 482v3h1v-3zM803 488v3h1v-3zM803 494v3h1v-3zM803 500v3h1v-3zM803 506v3h1v-3zM803 512v3h1v-3zM803 518v3h1v-3zM803 524v3h1v-3zM803 530v3h1v-3zM803 536v3h1v-3zM803 542v3h1v-3zM803 548v3h1v-3zM803 554v3h1v-3zM803 560v3h1v-3zM803 566v3h1v-3zM803 572v3h1v-3zM803 578v3h1v-3zM803 584v2h1v-2z" fill="#778899"/>
<path d="M835 3v2h1v-2zM835 8v3h1v-3zM835 14v3h1v-3zM835 20v3h1v-3zM835 26v3h1v-3zM835 32v3h1v-3zM835 38v3h1v-3zM835 44v3h1v-3zM835 50v3h1v-3zM835 56v3h1v-3zM835 62v3h1v-3zM835 68v3h1v-3zM835 74v3h1v-3zM835 80v3h1v-3zM835 86v3h1v-3zM835 92v3h1v-3zM835 98v3h1v-3zM835 104v3h1v-3zM835 110v3h1v-3zM835 116v3h1v-3zM835 122v3h1v-3zM835 128v3h1v-3zM835 134v3h1v-3zM835 140v3h1v-3zM835 146v3h1v-3zM835 152v3h1v-3zM835 158v3h1v-3zM835 164v3h1v-3zM835 170v3h1v-3zM835 176v3h1v-3zM835 182v3h1v-3zM835 188v3h1v-3zM835 194v3h1v-3zM835 200v3h1v-3zM835 206v3h1v-3zM835 212v3h1v-3zM835 218v3h1v-3zM835 224v3h1v-3zM835 230v3h1v-3zM835 236v3h1v-3zM835 242v3h1v-3zM835 248v3h1v-3zM835 254v3h1v-3zM835 260v3h1v-3zM835 266v3h1v-3zM835 272v3h1v-3zM835 278v3h1v-3zM835 284v3h1v-3zM835 290v3h1v-3zM835 296v3h1v-3zM835 302v3h1v-3zM835 308v3h1v-3zM835 314v3h1v-3zM835 320v3h1v-3zM835 326v3h1v-3zM835 332v3h1v-3zM835 338v3h1v-3zM835 344v3h1v-3zM835 350v3h1v-3zM835 356v3h1v-3zM835 362v3h1v-3zM835 368v3h1v-3zM835 374v3h1v-3zM835 380v3h1v-3zM835 386v3h1v-3zM835 392v3h1v-3zM835 398v3h1v-3zM835 404v3h1v-3zM835 410v3h1v-3zM835 416v3h1v-3zM835 422v3h1v-3zM835 428v3h1v-3zM835 434v3h1v-3zM835 440v3h1v-3zM835 446v3h1v-3zM835 452v3h1v-3zM835 458v3h1v-3zM835 464v3h1v-3zM835 470v3h1v-3zM835 476v3h1v-3zM835 482v3h1v-3zM835 488v3h1v-3zM835 494v3h1v-3zM835 500v3h1v-3zM835 506v3h1v-3zM835 512v3h1v-3zM835 518v3h1v-3zM835 524v3h1v-3zM835 530v3h1v-3zM835 536v3h1v-3zM835 542v3h1v-3zM835 548v3h1v-3zM835 554v3h1v-3zM835 560v3h1v-3zM835 566v3h1v-3zM835 572v3h1v-3zM835 578v3h1v-3zM835 584v2h1v-2z" fill="#778899"/>
<path d="M867 3v2h1v-2zM867 8v3h1v-3zM867 14v3h1v-3zM867 20v3h1v-3zM867 26v3h1v-3zM867 32v3h1v-3zM867 38v3h1v-3zM867 44v3h1v-3zM867 50v3h1v-3zM867 56v3h1v-3zM867 62v3h1v-3zM867 68v3h1v-3zM867 74v3h1v-3zM867 80v3h1v-3zM867 86v3h1v-3zM867 92v3h1v-3zM867 98v3h1v-3zM867 104v3h1v-3zM867 110v3h1v-3zM867 116v3h1v-3zM867 122v3h1v-3zM867 128v3h1v-3zM867 134v3h1v-3zM867 140v3h1v-3zM867 146v3h1v-3zM867 152v3h1v-3zM867 158v3h1v-3zM867 164v3h1v-3zM867 170v3h1v-3zM867 176v3h1v-3zM867 182v3h1v-3zM867 188v3h1v-3zM867 194v3h1v-3zM867 200v3h1v-3zM867 206v3h1v-3zM867 212v3h1v-3zM867 218v3h1v-3zM867 224v3h1v-3zM867 230v3h1v-3zM867 236v3h1v-3zM867 242v3h1v-3zM867 248v3h1v-3zM867 254v3h1v-3zM867 260v3h1v-3zM867 266v3h1v-3zM867 272v3h1v-3zM867 278v3h1v-3zM867 284v3h1v-3zM867 290v3h1v-3zM867 296v3h1v-3zM867 302v3h1v-3zM867 308v3h1v-3zM867 314v3h1v-3zM867 320v3h1v-3zM867 326v3h1v-3zM867 332v3h1v-3zM867 338v3h1v-3zM867 344v3h1v-3zM867 350v3h1v-3zM867 356v3h1v-3zM867 362v3h1v-3zM867 368v3h1v-3zM867 374v3h1v-3zM867 380v3h1v-3zM867 386v3h1v-3zM867 392v3h1v-3zM867 398v3h1v-3zM867 404v3h1v-3zM867 410v3h1v-3zM867 416v3h1v-3zM867 422v3h1v-3zM867 428v3h1v-3zM867 434v3h1v-3zM867 440v3h1v-3zM867 446v3h1v-3zM867 452v3h1v-3zM867 458v3h1v-3zM867 464v3h1v-3zM867 470v3h1v-3zM867 476v3h1v-3zM867 482v3h1v-3zM867 488v3h1v-3zM867 494v3h1v-3zM867 500v3h1v-3zM867 506v3h1v-3zM867 512v3h1v-3zM867 518v3h1v-3zM867 524v3h1v-3zM867 530v3h1v-3zM867 536v3h1v-3zM867 542v3h1v-3zM867 548v3h1v-3zM867 554v3h1v-3zM867 560v3h1v-3zM867 566v3h1v-3zM867 572v3h1v-3zM867 578v3h1v-3zM867 584v2h1v-2z" fill="#778899"/>
<path d="M899 3v2h1v-2zM899 8v3h1v-3zM899 14v3h1v-3zM899 20v3h1v-3zM899 26v3h1v-3zM899 32v3h1v-3zM899 38v3h1v-3zM899 44v3h1v-3zM899 50v3h1v-3zM899 56v3h1v-3zM899 62v3h1v-3zM899 68v3h1v-3zM899 74v3h1v-3zM899 80v3h1v-3zM899 86v3h1v-3zM899 92v3h1v-3zM899 98v3h1v-3zM899 104v3h1v-3zM899 110v3h1v-3zM899 116v3h1v-3zM899 122v3h1v-3zM899 128v3h1v-3zM899 134v3h1v-3zM899 140v3h1v-3zM899 146v3h1v-3zM899 152v3h1v-3zM899 158v3h1v-3zM899 164v3h1v-3zM899 170v3h1v-3zM899 176v3h1v-3zM899 182v3h1v-3zM899 188v3h1v-3zM899 194v3h1v-3zM899 200v3h1v-3zM899 206v3h1v-3zM899 212v3h1v-3zM899 218v3h1v-3zM899 224v3h1v-3zM899 230v3h1v-3zM899 236v3h1v-3zM899 242v3h1v-3zM899 248v3h1v-3zM899 254v3h1v-3zM899 260v3h1v-3zM899 266v3h1v-3zM899 272v3h1v-3zM899 278v3h1v-3zM899 284v3h1v-3zM899 290v3h1v-3zM899 296v3h1v-3zM899 302v3h1v-3zM899 308v3h1v-3zM899 314v3h1v-3zM899 320v3h1v-3zM899 326v3h1v-3zM899 332v3h1v-3zM899 338v3h1v-3zM899 344v3h1v-3zM899 350v3h1v-3zM899 356v3h1v-3zM899 362v3h1v-3zM899 368v3h1v-3zM899 374v3h1v-3zM899 380v3h1v-3zM899 386v3h1v-3zM899 392v3h1v-3zM899 398v3h1v-3zM899 404v3h1v-3zM899 410v3h1v-3zM899 416v3h1v-3zM899 422v3h1v-3zM899 428v3h1v-3zM899 434v3h1v-3zM899 440v3h1v-3zM899 446v3h1v-3zM899 452v3h1v-3zM899 458v3h1v-3zM899 464v3h1v-3zM899 470v3h1v-3zM899 476v3h1v-3zM899 482v3h1v-3zM899 488v3h1v-3zM899 494v3h1v-3zM899 500v3h1v-3zM899 506v3h1v-3zM899 512v3h1v-3zM899 518v3h1v-3zM899 524v3h1v-3zM899 530v3h1v-3zM899 536v3h1v-3zM899 542v3h1v-3zM899 548v3h1v-3zM899 554v3h1v-3zM899 560v3h1v-3zM899 566v3h1v-3zM899 572v3h1v-3zM899 578v3h1v-3zM899 584v2h1v-2z" fill="#778899"/>
<path d="M931 3v2h1v-2zM931 8v3h1v-3zM931 14v3h1v-3zM931 20v3h1v-3zM931 26v3h1v-3zM931 32v3h1v-3zM931 38v3h1v-3zM931 44v3h1v-3zM931 50v3h1v-3zM931 56v3h1v-3zM931 62v3h1v-3zM931 68v3h1v-3zM931 74v3h1v-3zM931 80v3h1v-3zM931 86v3h1v-3zM931 92v3h1v-3zM931 98v3h1v-3zM931 104v3h1v-3zM931 110v3h1v-3zM931 116v3h1v-3zM931 122v3h1v-3zM931 128v3h1v-3zM931 134v3h1v-3zM931 140v3h1v-3zM931 146v3h1v-3zM931 152v3h1v-3zM931 158v3h1v-3zM931 164v3h1v-3zM931 170v3h1v-3zM931 176v3h1v-3zM931 182v3h1v-3zM931 188v3h1v-3zM931 194v3h1v-3zM931 200v3h1v-3zM931 206v3h1v-3zM931 212v3h1v-3zM931 218v3h1v-3zM931 224v3h1v-3zM931 230v3h1v-3zM931 236v3h1v-3zM931 242v3h1v-3zM931 248v3h1v-3zM931 254v3h1v-3zM931 260v3h1v-3zM931 266v3h1v-3zM931 272v3h1v-3zM931 278v3h1v-3zM931 284v3h1v-3zM931 290v3h1v-3zM931 296v3h1v-3zM931 302v3h1v-3zM931 308v3h1v-3zM931 314v3h1v-3zM931 320v3h1v-3zM931 326v3h1v-3zM931 332v3h1v-3zM931 338v3h1v-3zM931 344v3h1v-3zM931 350v3h1v-3zM931 356v3h1v-3zM931 362v3h1v-3zM931 368v3h1v-3zM931 374v3h1v-3zM931 380v3h1v-3zM931 386v3h1v-3zM931 392v3h1v-3zM931 398v3h1v-3zM931 404v3h1v-3zM931 410v3h1v-3zM931 416v3h1v-3zM931 422v3h1v-3zM931 428v3h1v-3zM931 434v3h1v-3zM931 440v3h1v-3zM931 446v3h1v-3zM931 452v3h1v-3zM931 458v3h1v-3zM931 464v3h1v-3zM931 470v3h1v-3zM931 476v3h1v-3zM931 482v3h1v-3zM931 488v3h1v-3zM931 494v3h1v-3zM931 500v3h1v-3zM931 506v3h1v-3zM931 512v3h1v-3zM931 518v3h1v-3zM931 524v3h1v-3zM931 530v3h1v-3zM931 536v3h1v-3zM931 542v3h1v-3zM931 548v3h1v-3zM931 554v3h1v-3zM931 560v3h1v-3zM931 566v3h1v-3zM931 572v3h1v-3zM931 578v3h1v-3zM931 584v2h1v-2z" fill="#778899"/>
<path d="M963 3v2h1v-2zM963 8v3h1v-3zM963 14v3h1v-3zM963 20v3h1v-3zM963 26v3h1v-3zM963 32v3h1v-3zM963 38v3h1v-3zM963 44v3h1v-3zM963 50v3h1v-3zM963 56v3h1v-3zM963 62v3h1v-3zM963 68v3h1v-3zM963 74v3h1v-3zM963 80v3h1v-3zM963 86v3h1v-3zM963 92v3h1v-3zM963 98v3h1v-3zM963 104v3h1v-3zM963 110v3h1v-3zM963 116v3h1v-3zM963 122v3h1v-3zM963 128v3h1v-3zM963 134v3h1v-3zM963 140v3h1v-3zM963 146v3h1v-3zM963 152v3h1v-3zM963 158v3h1v-3zM963 164v3h1v-3zM963 170v3h1v-3zM963 176v3h1v-3zM963 182v3h1v-3zM963 188v3h1v-3zM963 194v3h1v-3zM963 200v3h1v-3zM963 206v3h1v-3zM963 212v3h1v-3zM963 218v3h1v-3zM963 224v3h1v-3zM963 230v3h1v-3zM963 236v3h1v-3zM963 242v3h1v-3zM963 248v3h1v-3zM963 254v3h1v-3zM963 260v3h1v-3zM963 266v3h1v-3zM963 272v3h1v-3zM963 278v3h1v-3zM963 284v3h1v-3zM963 290v3h1v-3zM963 296v3h1v-3zM963 302v3h1v-3zM963 308v3h1v-3zM963 314v3h1v-3zM963 320v3h1v-3zM963 326v3h1v-3zM963 332v3h1v-3zM963 338v3h1v-3zM963 344v3h1v-3zM963 350v3h1v-3zM963 356v3h1v-3zM963 362v3h1v-3zM963 368v3h1v-3zM963 374v3h1v-3zM963 380v3h1v-3zM963 386v3h1v-3zM963 392v3h1v-3zM963 398v3h1v-3zM963 404v3h1v-3zM963 410v3h1v-3zM963 416v3h1v-3zM963 422v3h1v-3zM963 428v3h1v-3zM963 434v3h1v-3zM963 440v3h1v-3zM963 446v3h1v-3zM963 452v3h1v-3zM963 458v3h1v-3zM963 464v3h1v-3zM963 470v3h1v-3zM963 476v3h1v-3zM963 482v3h1v-3zM963 488v3h1v-3zM963 494v3h1v-3zM963 500v3h1v-3zM963 506v3h1v-3zM963 512v3h1v-3zM963 518v3h1v-3zM963 524v3h1v-3zM963 530v3h1v-3zM963 536v3h1v-3zM963 542v3h1v-3zM963 548v3h1v-3zM963 554v3h1v-3zM963 560v3h1v-3zM963 566v3h1v-3zM963 572v3h1v-3zM963 578v3h1v-3zM963 584v2h1v-2z" fill="#778899"/>
<path d="M995 3v2h1v-2zM995 8v3h1v-3zM995 14v3h1v-3zM995 20v3h1v-3zM995 26v3h1v-3zM995 32v3h1v-3zM995 38v3h1v-3zM995 44v3h1v-3zM995 50v3h1v-3zM995 56v3h1v-3zM995 62v3h1v-3zM995 68v3h1v-3zM995 74v3h1v-3zM995 80v3h1v-3zM995 86v3h1v-3zM995 92v3h1v-3zM995 98v3h1v-3zM995 104v3h1v-3zM995 110v3h1v-3zM995 116v3h1v-3zM995 122v3h1v-3zM995 128v3h1v-3zM995 134v3h1v-3zM995 140v3h1v-3zM995 146v3h1v-3zM995 152v3h1v-3zM995 158v3h1v-3zM995 164v3h1v-3zM995 170v3h1v-3zM995 176v3h1v-3zM995 182v3h1v-3zM995 188v3h1v-3zM995 194v3h1v-3zM995 200v3h1v-3zM995 206v3h1v-3zM995 212v3h1v-3zM995 218v3h1v-3zM995 224v3h1v-3zM995 230v3h1v-3zM995 236v3h1v-3zM995 242v3h1v-3zM995 248v3h1v-3zM995 254v3h1v-3zM995 260v3h1v-3zM995 266v3h1v-3zM995 272v3h1v-3zM995 278v3h1v-3zM995 284v3h1v-3zM995 290v3h1v-3zM995 296v3h1v-3zM995 302v3h1v-3zM995 308v3h1v-3zM995 314v3h1v-3zM995 320v3h1v-3zM995 326v3h1v-3zM995 332v3h1v-3zM995 338v3h1v-3zM995 344v3h1v-3zM995 350v3h1v-3zM995 356v3h1v-3zM995 362v3h1v-3zM995 368v3h1v-3zM995 374v3h1v-3zM995 380v3h1v-3zM995 386v3h1v-3zM995 392v3h1v-3zM995 398v3h1v-3zM995 404v3h1v-3zM995 410v3h1v-3zM995 416v3h1v-3zM995 422v3h1v-3zM995 428v3h1v-3zM995 434v3h1v-3zM995 440v3h1v-3zM995 446v3h1v-3zM995 452v3h1v-3zM995 458v3h1v-3zM995 464v3h1v-3zM995 470v3h1v-3zM995 476v3h1v-3zM995 482v3h1v-3zM995 488v3h1v-3zM995 494v3h1v-3zM995 500v3h1v-3zM995 506v3h1v-3zM995 512v3h1v-3zM995 518v3h1v-3zM995 524v3h1v-3zM995 530v3h1v-3zM995 536v3h1v-3zM995 542v3h1v-3zM995 548v3h1v-3zM995 554v3h1v-3zM995 560v3h1v-3zM995 566v3h1v-3zM995 572v3h1v-3zM995 578v3h1v-3zM995 584v2h1v-2z" fill="#778899"/>
<path d="M1027 3v2h1v-2zM1027 8v3h1v-3zM1027 14v3h1v-3zM1027 20v3h1v-3zM1027 26v3h1v-3zM1027 32v3h1v-3zM1027 38v3h1v-3zM1027 44v3h1v-3zM1027 50v3h1v-3zM1027 56v3h1v-3zM1027 62v3h1v-3zM1027 68v3h1v-3zM1027 74v3h1v-3zM1027 80v3h1v-3zM1027 86v3h1v-3zM1027 92v3h1v-3zM1027 98v3h1v-3zM1027 104v3h1v-3zM1027 110v3h1v-3zM1027 116v3h1v-3zM1027 122v3h1v-3zM1027 128v3h1v-3zM1027 134v3h1v-3zM1027 140v3h1v-3zM1027 146v3h1v-3zM1027 152v3h1v-3zM1027 158v3h1v-3zM1027 164v3h1v-3zM1027 170v3h1v-3zM1027 176v3h1v-3zM1027 182v3h1v-3zM1027 188v3h1v-3zM1027 194v3h1v-3zM1027 200v3h1v-3zM1027 206v3h1v-3zM1027 212v3h1v-3zM1027 218v3h1v-3zM1027 224v3h1v-3zM1027 230v3h1v-3zM1027 236v3h1v-3zM1027 242v3h1v-3zM1027 248v3h1v-3zM1027 254v3h1v-3zM1027 260v3h1v-3zM1027 266v3h1v-3zM1027 272v3h1v-3zM1027 278v3h1v-3zM1027 284v3h1v-3zM1027 290v3h1v-3zM1027 296v3h1v-3zM1027 302v3h1v-3zM1027 308v3h1v-3zM1027 314v3h1v-3zM1027 320v3h1v-3zM1027 326v3h1v-3zM1027 332v3h1v-3zM1027 338v3h1v-3zM1027 344v3h1v-3zM1027 350v3h1v-3zM1027 356v3h1v-3zM1027 362v3h1v-3zM1027 368v3h1v-3zM1027 374v3h1v-3zM1027 380v3h1v-3zM1027 386v3h1v-3zM1027 392v3h1v-3zM1027 398v3h1v-3zM1027 404v3h1v-3zM1027 410v3h1v-3zM1027 416v3h1v-3zM1027 422v3h1v-3zM1027 428v3h1v-3zM1027 434v3h1v-3zM1027 440v3h1v-3zM1027 446v3h1v-3zM1027 452v3h1v-3zM1027 458v3h1v-3zM1027 464v3h1v-3zM1027 470v3h1v-3zM1027 476v3h1v-3zM1027 482v3h1v-3zM1027 488v3h1v-3zM1027 494v3h1v-3zM1027 500v3h1v-3zM1027 506v3h1v-3zM1027 512v3h1v-3zM1027 518v3h1v-3zM1027 524v3h1v-3zM1027 530v3h1v-3zM1027 536v3h1v-3zM1027 542v3h1v-3zM1027 548v3h1v-3zM1027 554v3h1v-3zM1027 560v3h1v-3zM1027 566v3h1v-3zM1027 572v3h1v-3zM1027 578v3h1v-3zM1027 584v2h1v-2z" fill="#778899"/>
<path d="M1059 3v2h1v-2zM1059 8v3h1v-3zM1059 14v3h1v-3zM1059 20v3h1v-3zM1059 26v3h1v-3zM1059 32v3h1v-3zM1059 38v3h1v-3zM1059 44v3h1v-3zM1059 50v3h1v-3zM1059 56v3h1v-3zM1059 62v3h1v-3zM1059 68v3h1v-3zM1059 74v3h1v-3zM1059 80v3h1v-3zM1059 86v3h1v-3zM1059 92v3h1v-3zM1059 98v3h1v-3zM1059 104v3h1v-3zM1059 110v3h1v-3zM1059 116v3h1v-3zM1059 122v3h1v-3zM1059 128v3h1v-3zM1059 134v3h1v-3zM1059 140v3h1v-3zM1059 146v3h1v-3zM1059 152v3h1v-3zM1059 158v3h1v-3zM1059 164v3h1v-3zM1059 170v3h1v-3zM1059 176v3h1v-3zM1059 182v3h1v-3zM1059 188v3h1v-3zM1059 194v3h1v-3zM1059 200v3h1v-3zM1059 206v3h1v-3zM1059 212v3h1v-3zM1059 218v3h1v-3zM1059 224v3h1v-3zM1059 230v3h1v-3zM1059 236v3h1v-3zM1059 242v3h1v-3zM1059 248v3h1v-3zM1059 254v3h1v-3zM1059 260v3h1v-3zM1059 266v3h1v-3zM1059 272v3h1v-3zM1059 278v3h1v-3zM1059 284v3h1v-3zM1059 290v3h1v-3zM1059 296v3h1v-3zM1059 302v3h1v-3zM1059 308v3h1v-3zM1059 314v3h1v-3zM1059 320v3h1v-3zM1059 326v3h1v-3zM1059 332v3h1v-3zM1059 338v3h1v-3zM1059 344v3h1v-3zM1059 350v3h1v-3zM1059 356v3h1v-3zM1059 362v3h1v-3zM1059 368v3h1v-3zM1059 374v3h1v-3zM1059 380v3h1v-3zM1059 386v3h1v-3zM1059 392v3h1v-3zM1059 398v3h1v-3zM1059 404v3h1v-3zM1059 410v3h1v-3zM1059 416v3h1v-3zM1059 422v3h1v-3zM1059 428v3h1v-3zM1059 434v3h1v-3zM1059 440v3h1v-3zM1059 446v3h1v-3zM1059 452v3h1v-3zM1059 458v3h1v-3zM1059 464v3h1v-3zM1059 470v3h1v-3zM1059 476v3h1v-3zM1059 482v3h1v-3zM1059 488v3h1v-3zM1059 494v3h1v-3zM1059 500v3h1v-3zM1059 506v3h1v-3zM1059 512v3h1v-3zM1059 518v3h1v-3zM1059 524v3h1v-3zM1059 530v3h1v-3zM1059 536v3h1v-3zM1059 542v3h1v-3zM1059 548v3h1v-3zM1059 554v3h1v-3zM1059 560v3h1v-3zM1059 566v3h1v-3zM1059 572v3h1v-3zM1059 578v3h1v-3zM1059 584v2h1v-2z" fill="#778899"/>
<path d="M1091 3v2h1v-2zM1091 8v3h1v-3zM1091 14v3h1v-3zM1091 20v3h1v-3zM1091 26v3h1v-3zM1091 32v3h1v-3zM1091 38v3h1v-3zM1091 44v3h1v-3zM1091 50v3h1v-3zM1091 56v3h1v-3zM1091 62v3h1v-3zM1091 68v3h1v-3zM1091 74v3h1v-3zM1091 80v3h1v-3zM1091 86v3h1v-3zM1091 92v3h1v-3zM1091 98v3h1v-3zM1091 104v3h1v-3zM1091 110v3h1v-3zM1091 116v3h1v-3zM1091 122v3h1v-3zM1091 128v3h1v-3zM1091 134v3h1v-3zM1091 140v3h1v-3zM1091 146v3h1v-3zM1091 152v3h1v-3zM1091 158v3h1v-3zM1091 164v3h1v-3zM1091 170v3h1v-3zM1091 176v3h1v-3zM1091 182v3h1v-3zM1091 188v3h1v-3zM1091 194v3h1v-3zM1091 200v3h1v-3zM1091 206v3h1v-3zM1091 212v3h1v-3zM1091 218v3h1v-3zM1091 224v3h1v-3zM1091 230v3h1v-3zM1091 236v3h1v-3zM1091 242v3h1v-3zM1091 248v3h1v-3zM1091 254v3h1v-3zM1091 260v3h1v-3zM1091 266v3h1v-3zM1091 272v3h1v-3zM1091 278v3h1v-3zM1091 284v3h1v-3zM1091 290v3h1v-3zM1091 296v3h1v-3zM1091 302v3h1v-3zM1091 308v3h1v-3zM1091 314v3h1v-3zM1091 320v3h1v-3zM1091 326v3h1v-3zM1091 332v3h1v-3zM1091 338v3h1v-3zM1091 344v3h1v-3zM1091 350v3h1v-3zM1091 356v3h1v-3zM1091 362v3h1v-3zM1091 368v3h1v-3zM1091 374v3h1v-3zM1091 380v3h1v-3zM1091 386v3h1v-3zM1091 392v3h1v-3zM1091 398v3h1v-3zM1091 404v3h1v-3zM1091 410v3h1v-3zM1091 416v3h1v-3zM1091 422v3h1v-3zM1091 428v3h1v-3zM1091 434v3h1v-3zM1091 440v3h1v-3zM1091 446v3h1v-3zM1091 452v3h1v-3zM1091 458v3h1v-3zM1091 464v3h1v-3zM1091 470v3h1v-3zM1091 476v3h1v-3zM1091 482v3h1v-3zM1091 488v3h1v-3zM1091 494v3h1v-3zM1091 500v3h1v-3zM1091 506v3h1v-3zM1091 512v3h1v-3zM1091 518v3h1v-3zM1091 524v3h1v-3zM1091 530v3h1v-3zM1091 536v3h1v-3zM1091 542v3h1v-3zM1091 548v3h1v-3zM1091 554v3h1v-3zM1091 560v3h1v-3zM1091 566v3h1v-3zM1091 572v3h1v-3zM1091 578v3h1v-3zM1091 584v2h1v-2z" fill="#778899"/>
<path d="M1123 3v2h1v-2zM1123 8v3h1v-3zM1123 14v3h1v-3zM1123 20v3h1v-3zM1123 26v3h1v-3zM1123 32v3h1v-3zM1123 38v3h1v-3zM1123 44v3h1v-3zM1123 50v3h1v-3zM1123 56v3h1v-3zM1123 62v3h1v-3zM1123 68v3h1v-3zM1123 74v3h1v-3zM1123 80v3h1v-3zM1123 86v3h1v-3zM1123 92v3h1v-3zM1123 98v3h1v-3zM1123 104v3h1v-3zM1123 110v3h1v-3zM1123 116v3h1v-3zM1123 122v3h1v-3zM1123 128v3h1v-3zM1123 134v3h1v-3zM1123 140v3h1v-3zM1123 146v3h1v-3zM1123 152v3h1v-3zM1123 158v3h1v-3zM1123 164v3h1v-3zM1123 170v3h1v-3zM1123 176v3h1v-3zM1123 182v3h1v-3zM1123 188v3h1v-3zM1123 194v3h1v-3zM1123 200v3h1v-3zM1123 206v3h1v-3zM1123 212v3h1v-3zM1123 218v3h1v-3zM1123 224v3h1v-3zM1123 230v3h1v-3zM1123 236v3h1v-3zM1123 242v3h1v-3zM1123 248v3h1v-3zM1123 254v3h1v-3zM1123 260v3h1v-3zM1123 266v3h1v-3zM1123 272v3h1v-3zM1123 278v3h1v-3zM1123 284v3h1v-3zM1123 290v3h1v-3zM1123 296v3h1v-3zM1123 302v3h1v-3zM1123 308v3h1v-3zM1123 314v3h1v-3zM1123 320v3h1v-3zM1123 326v3h1v-3zM1123 332v3h1v-3zM1123 338v3h1v-3zM1123 344v3h1v-3zM1123 350v3h1v-3zM1123 356v3h1v-3zM1123 362v3h1v-3zM1123 368v3h1v-3zM1123 374v3h1v-3zM1123 380v3h1v-3zM1123 386v3h1v-3zM1123 392v3h1v-3zM1123 398v3h1v-3zM1123 404v3h1v-3zM1123 410v3h1v-3zM1123 416v3h1v-3zM1123 422v3h1v-3zM1123 428v3h1v-3zM1123 434v3h1v-3zM1123 440v3h1v-3zM1123 446v3h1v-3zM1123 452v3h1v-3zM1123 458v3h1v-3zM1123 464v3h1v-3zM1123 470v3h1v-3zM1123 476v3h1v-3zM1123 482v3h1v-3zM1123 488v3h1v-3zM1123 494v3h1v-3zM1123 500v3h1v-3zM1123 506v3h1v-3zM1123 512v3h1v-3zM1123 518v3h1v-3zM1123 524v3h1v-3zM1123 530v3h1v-3zM1123 536v3h1v-3zM1123 542v3h1v-3zM1123 548v3h1v-3zM1123 554v3h1v-3zM1123 560v3h1v-3zM1123 566v3h1v-3zM1123 572v3h1v-3zM1123 578v3h1v-3zM1123 584v2h1v-2z" fill="#778899"/>
<path d="M1155 3v2h1v-2zM1155 8v3h1v-3zM1155 14v3h1v-3zM1155 20v3h1v-3zM1155 26v3h1v-3zM1155 32v3h1v-3zM1155 38v3h1v-3zM1155 44v3h1v-3zM1155 50v3h1v-3zM1155 56v3h1v-3zM1155 62v3h1v-3zM1155 68v3h1v-3zM1155 74v3h1v-3zM1155 80v3h1v-3zM1155 86v3h1v-3zM1155 92v3h1v-3zM1155 98v3h1v-3zM1155 104v3h1v-3zM1155 110v3h1v-3zM1155 116v3h1v-3zM1155 122v3h1v-3zM1155 128v3h1v-3zM1155 134v3h1v-3zM1155 140v3h1v-3zM1155 146v3h1v-3zM1155 152v3h1v-3zM1155 158v3h1v-3zM1155 164v3h1v-3zM1155 170v3h1v-3zM1155 176v3h1v-3zM1155 182v3h1v-3zM1155 188v3h1v-3zM1155 194v3h1v-3zM1155 200v3h1v-3zM1155 206v3h1v-3zM1155 212v3h1v-3zM1155 218v3h1v-3zM1155 224v3h1v-3zM1155 230v3h1v-3zM1155 236v3h1v-3zM1155 242v3h1v-3zM1155 248v3h1v-3zM1155 254v3h1v-3zM1155 260v3h1v-3zM1155 266v3h1v-3zM1155 272v3h1v-3zM1155 278v3h1v-3zM1155 284v3h1v-3zM1155 290v3h1v-3zM1155 296v3h1v-3zM1155 302v3h1v-3zM1155 308v3h1v-3zM1155 314v3h1v-3zM1155 320v3h1v-3zM1155 326v3h1v-3zM1155 332v3h1v-3zM1155 338v3h1v-3zM1155 344v3h1v-3zM1155 350v3h1v-3zM1155 356v3h1v-3zM1155 362v3h1v-3zM1155 368v3h1v-3zM1155 374v3h1v-3zM1155 380v3h1v-3zM1155 386v3h1v-3zM1155 392v3h1v-3zM1155 398v3h1v-3zM1155 404v3h1v-3zM1155 410v3h1v-3zM1155 416v3h1v-3zM1155 422v3h1v-3zM1155 428v3h1v-3zM1155 434v3h1v-3zM1155 440v3h1v-3zM1155 446v3h1v-3zM1155 452v3h1v-3zM1155 458v3h1v-3zM1155 464v3h1v-3zM1155 470v3h1v-3zM1155 476v3h1v-3zM1155 482v3h1v-3zM1155 488v3h1v-3zM1155 494v3h1v-3zM1155 500v3h1v-3zM1155 506v3h1v-3zM1155 512v3h1v-3zM1155 518v3h1v-3zM1155 524v3h1v-3zM1155 530v3h1v-3zM1155 536v3h1v-3zM1155 542v3h1v-3zM1155 548v3h1v-3zM1155 554v3h1v-3zM1155 560v3h1v-3zM1155 566v3h1v-3zM1155 572v3h1v-3zM1155 578v3h1v-3zM1155 584v2h1v-2z" fill="#778899"/>
<path d="M1187 3v2h1v-2zM1187 8v3h1v-3zM1187 14v3h1v-3zM1187 20v3h1v-3zM1187 26v3h1v-3zM1187 32v3h1v-3zM1187 38v3h1v-3zM1187 44v3h1v-3zM1187 50v3h1v-3zM1187 56v3h1v-3zM1187 62v3h1v-3zM1187 68v3h1v-3zM1187 74v3h1v-3zM1187 80v3h1v-3zM1187 86v3h1v-3zM1187 92v3h1v-3zM1187 98v3h1v-3zM1187 104v3h1v-3zM1187 110v3h1v-3zM1187 116v3h1v-3zM1187 122v3h1v-3zM1187 128v3h1v-3zM1187 134v3h1v-3zM1187 140v3h1v-3zM1187 146v3h1v-3zM1187 152v3h1v-3zM1187 158v3h1v-3zM1187 164v3h1v-3zM1187 170v3h1v-3zM1187 176v3h1v-3zM1187 182v3h1v-3zM1187 188v3h1v-3zM1187 194v3h1v-3zM1187 200v3h1v-3zM1187 206v3h1v-3zM1187 212v3h1v-3zM1187 218v3h1v-3zM1187 224v3h1v-3zM1187 230v3h1v-3zM1187 236v3h1v-3zM1187 242v3h1v-3zM1187 248v3h1v-3zM1187 254v3h1v-3zM1187 260v3h1v-3zM1187 266v3h1v-3zM1187 272v3h1v-3zM1187 278v3h1v-3zM1187 284v3h1v-3zM1187 290v3h1v-3zM1187 296v3h1v-3zM1187 302v3h1v-3zM1187 308v3h1v-3zM1187 314v3h1v-3zM1187 320v3h1v-3zM1187 326v3h1v-3zM1187 332v3h1v-3zM1187 338v3h1v-3zM1187 344v3h1v-3zM1187 350v3h1v-3zM1187 356v3h1v-3zM1187 362v3h1v-3zM1187 368v3h1v-3zM1187 374v3h1v-3zM1187 380v3h1v-3zM1187 386v3h1v-3zM1187 392v3h1v-3zM1187 398v3h1v-3zM1187 404v3h1v-3zM1187 410v3h1v-3zM1187 416v3h1v-3zM1187 422v3h1v-3zM1187 428v3h1v-3zM1187 434v3h1v-3zM1187 440v3h1v-3zM1187 446v3h1v-3zM1187 452v3h1v-3zM1187 458v3h1v-3zM1187 464v3h1v-3zM1187 470v3h1v-3zM1187 476v3h1v-3zM1187 482v3h1v-3zM1187 488v3h1v-3zM1187 494v3h1v-3zM1187 500v3h1v-3zM1187 506v3h1v-3zM1187 512v3h1v-3zM1187 518v3h1v-3zM1187 524v3h1v-3zM1187 530v3h1v-3zM1187 536v3h1v-3zM1187 542v3h1v-3zM1187 548v3h1v-3zM1187 554v3h1v-3zM1187 560v3h1v-3zM1187 566v3h1v-3zM1187 572v3h1v-3zM1187 578v3h1v-3zM1187 584v2h1v-2z" fill="#778899"/>
<path d="M1219 3v2h1v-2zM1219 8v3h1v-3zM1219 14v3h1v-3zM1219 20v3h1v-3zM1219 26v3h1v-3zM1219 32v3h1v-3zM1219 38v3h1v-3zM1219 44v3h1v-3zM1219 50v3h1v-3zM1219 56v3h1v-3zM1219 62v3h1v-3zM1219 68v3h1v-3zM1219 74v3h1v-3zM1219 80v3h1v-3zM1219 86v3h1v-3zM1219 92v3h1v-3zM1219 98v3h1v-3zM1219 104v3h1v-3zM1219 110v3h1v-3zM1219 116v3h1v-3zM1219 122v3h1v-3zM1219 128v3h1v-3zM1219 134v3h1v-3zM1219 140v3h1v-3zM1219 146v3h1v-3zM1219 152v3h1v-3zM1219 158v3h1v-3zM1219 164v3h1v-3zM1219 170v3h1v-3zM1219 176v3h1v-3zM1219 182v3h1v-3zM1219 188v3h1v-3zM1219 194v3h1v-3zM1219 200v3h1v-3zM1219 206v3h1v-3zM1219 212v3h1v-3zM1219 218v3h1v-3zM1219 224v3h1v-3zM1219 230v3h1v-3zM1219 236v3h1v-3zM1219 242v3h1v-3zM1219 248v3h1v-3zM1219 254v3h1v-3zM1219 260v3h1v-3zM1219 266v3h1v-3zM1219 272v3h1v-3zM1219 278v3h1v-3zM1219 284v3h1v-3zM1219 290v3h1v-3zM1219 296v3h1v-3zM1219 302v3h1v-3zM1219 308v3h1v-3zM1219 314v3h1v-3zM1219 320v3h1v-3zM1219 326v3h1v-3zM1219 332v3h1v-3zM1219 338v3h1v-3zM1219 344v3h1v-3zM1219 350v3h1v-3zM1219 356v3h1v-3zM1219 362v3h1v-3zM1219 368v3h1v-3zM1219 374v3h1v-3zM1219 380v3h1v-3zM1219 386v3h1v-3zM1219 392v3h1v-3zM1219 398v3h1v-3zM1219 404v3h1v-3zM1219 410v3h1v-3zM1219 416v3h1v-3zM1219 422v3h1v-3zM1219 428v3h1v-3zM1219 434v3h1v-3zM1219 440v3h1v-3zM1219 446v3h1v-3zM1219 452v3h1v-3zM1219 458v3h1v-3zM1219 464v3h1v-3zM1219 470v3h1v-3zM1219 476v3h1v-3zM1219 482v3h1v-3zM1219 488v3h1v-3zM1219 494v3h1v-3zM1219 500v3h1v-3zM1219 506v3h1v-3zM1219 512v3h1v-3zM1219 518v3h1v-3zM1219 524v3h1v-3zM1219 530v3h1v-3zM1219 536v3h1v-3zM1219 542v3h1v-3zM1219 548v3h1v-3zM1219 554v3h1v-3zM1219 560v3h1v-3zM1219 566v3h1v-3zM1219 572v3h1v-3zM1219 578v3h1v-3zM1219 584v2h1v-2z" fill="#778899"/>
<path d="M43 3v2h1v-2zM43 8v3h1v-3zM43 14v3h1v-3zM43 20v3h1v-3zM43 26v3h1v-3zM43 32v3h1v-3zM43 38v3h1v-3zM43 44v3h1v-3zM43 50v3h1v-3zM43 56v3h1v-3zM43 62v3h1v-3zM43 68v3h1v-3zM43 74v3h1v-3zM43 80v3h1v-3zM43 86v3h1v-3zM43 92v3h1v-3zM43 98v3h1v-3zM43 104v3h1v-3zM43 110v3h1v-3zM43 116v3h1v-3zM43 122v3h1v-3zM43 128v3h1v-3zM43 134v3h1v-3zM43 140v3h1v-3zM43 146v3h1v-3zM43 152v3h1v-3zM43 158v3h1v-3zM43 164v3h1v-3zM43 170v3h1v-3zM43 176v3h1v-3zM43 182v3h1v-3zM43 188v3h1v-3zM43 194v3h1v-3zM43 200v3h1v-3zM43 206v3h1v-3zM43 212v3h1v-3zM43 218v3h1v-3zM43 224v3h1v-3zM43 230v3h1v-3zM43 236v3h1v-3zM43 242v3h1v-3zM43 248v3h1v-3zM43 254v3h1v-3zM43 260v3h1v-3zM43 266v3h1v-3zM43 272v3h1v-3zM43 278v3h1v-3zM43 284v3h1v-3zM43 290v3h1v-3zM43 296v3h1v-3zM43 302v3h1v-3zM43 308v3h1v-3zM43 314v3h1v-3zM43 320v3h1v-3zM43 326v3h1v-3zM43 332v3h1v-3zM43 338v3h1v-3zM43 344v3h1v-3zM43 350v3h1v-3zM43 356v3h1v-3zM43 362v3h1v-3zM43 368v3h1v-3zM43 374v3h1v-3zM43 380v3h1v-3zM43 386v3h1v-3zM43 392v3h1v-3zM43 398v3h1v-3zM43 404v3h1v-3zM43 410v3h1v-3zM43 416v3h1v-3zM43 422v3h1v-3zM43 428v3h1v-3zM43 434v3h1v-3zM43 440v3h1v-3zM43 446v3h1v-3zM43 452v3h1v-3zM43 458v3h1v-3zM43 464v3h1v-3zM43 470v3h1v-3zM43 476v3h1v-3zM43 482v3h1v-3zM43 488v3h1v-3zM43 494v3h1v-3zM43 500v3h1v-3zM43 506v3h1v-3zM43 512v3h1v-3zM43 518v3h1v-3zM43 524v3h1v-3zM43 530v3h1v-3zM43 536v3h1v-3zM43 542v3h1v-3zM43 548v3h1v-3zM43 554v3h1v-3zM43 560v3h1v-3zM43 566v3h1v-3zM43 572v3h1v-3zM43 578v3h1v-3zM43 584v2h1v-2z" fill="#fff"/>
<path d="M283 3v2h1v-2zM283 8v3h1v-3zM283 14v3h1v-3zM283 20v3h1v-3zM283 26v3h1v-3zM283 32v3h1v-3zM283 38v3h1v-3zM283 44v3h1v-3zM283 50v3h1v-3zM283 56v3h1v-3zM283 62v3h1v-3zM283 68v3h1v-3zM283 74v3h1v-3zM283 80v3h1v-3zM283 86v3h1v-3zM283 92v3h1v-3zM283 98v3h1v-3zM283 104v3h1v-3zM283 110v3h1v-3zM283 116v3h1v-3zM283 122v3h1v-3zM283 128v3h1v-3zM283 134v3h1v-3zM283 140v3h1v-3zM283 146v3h1v-3zM283 152v3h1v-3zM283 158v3h1v-3zM283 164v3h1v-3zM283 170v3h1v-3zM283 176v3h1v-3zM283 182v3h1v-3zM283 188v3h1v-3zM283 194v3h1v-3zM283 200v3h1v-3zM283 206v3h1v-3zM283 212v3h1v-3zM283 218v3h1v-3zM283 224v3h1v-3zM283 230v3h1v-3zM283 236v3h1v-3zM283 242v3h1v-3zM283 248v3h1v-3zM283 254v3h1v-3zM283 260v3h1v-3zM283 266v3h1v-3zM283 272v3h1v-3zM283 278v3h1v-3zM283 284v3h1v-3zM283 290v3h1v-3zM283 296v3h1v-3zM283 302v3h1v-3zM283 308v3h1v-3zM283 314v3h1v-3zM283 320v3h1v-3zM283 326v3h1v-3zM283 332v3h1v-3zM283 338v3h1v-3zM283 344v3h1v-3zM283 350v3h1v-3zM283 356v3h1v-3zM283 362v3h1v-3zM283 368v3h1v-3zM283 374v3h1v-3zM283 380v3h1v-3zM283 386v3h1v-3zM283 392v3h1v-3zM283 398v3h1v-3zM283 404v3h1v-3zM283 410v3h1v-3zM283 416v3h1v-3zM283 422v3h1v-3zM283 428v3h1v-3zM283 434v3h1v-3zM283 440v3h1v-3zM283 446v3h1v-3zM283 452v3h1v-3zM283 458v3h1v-3zM283 464v3h1v-3zM283 470v3h1v-3zM283 476v3h1v-3zM283 482v3h1v-3zM283 488v3h1v-3zM283 494v3h1v-3zM283 500v3h1v-3zM283 506v3h1v-3zM283 512v3h1v-3zM283 518v3h1v-3zM283 524v3h1v-3zM283 530v3h1v-3zM283 536v3h1v-3zM283 542v3h1v-3zM283 548v3h1v-3zM283 554v3h1v-3zM283 560v3h1v-3zM283 566v3h1v-3zM283 572v3h1v-3zM283 578v3h1v-3zM283 584v2h1v-2z" fill="#fff"/>
<path d="M523 3v2h1v-2zM523 8v3h1v-3zM523 14v3h1v-3zM523 20v3h1v-3zM523 26v3h1v-3zM523 32v3h1v-3zM523 38v3h1v-3zM523 44v3h1v-3zM523 50v3h1v-3zM523 56v3h1v-3zM523 62v3h1v-3zM523 68v3h1v-3zM523 74v3h1v-3zM523 80v3h1v-3zM523 86v3h1v-3zM523 92v3h1v-3zM523 98v3h1v-3zM523 104v3h1v-3zM523 110v3h1v-3zM523 116v3h1v-3zM523 122v3h1v-3zM523 128v3h1v-3zM523 134v3h1v-3zM523 140v3h1v-3zM523 146v3h1v-3zM523 152v3h1v-3zM523 158v3h1v-3zM523 164v3h1v-3zM523 170v3h1v-3zM523 176v3h1v-3zM523 182v3h1v-3zM523 188v3h1v-3zM523 194v3h1v-3zM523 200v3h1v-3zM523 206v3h1v-3zM523 212v3h1v-3zM523 218v3h1v-3zM523 224v3h1v-3zM523 230v3h1v-3zM523 236v3h1v-3zM523 242v3h1v-3zM523 248v3h1v-3zM523 254v3h1v-3zM523 260v3h1v-3zM523 266v3h1v-3zM523 272v3h1v-3zM523 278v3h1v-3zM523 284v3h1v-3zM523 290v3h1v-3zM523 296v3h1v-3zM523 302v3h1v-3zM523 308v3h1v-3zM523 314v3h1v-3zM523 320v3h1v-3zM523 326v3h1v-3zM523 332v3h1v-3zM523 338v3h1v-3zM523 344v3h1v-3zM523 350v3h1v-3zM523 356v3h1v-3zM523 362v3h1v-3zM523 368v3h1v-3zM523 374v3h1v-3zM523 380v3h1v-3zM523 386v3h1v-3zM523 392v3h1v-3zM523 398v3h1v-3zM523 404v3h1v-3zM523 410v3h1v-3zM523 416v3h1v-3zM523 422v3h1v-3zM523 428v3h1v-3zM523 434v3h1v-3zM523 440v3h1v-3zM523 446v3h1v-3zM523 452v3h1v-3zM523 458v3h1v-3zM523 464v3h1v-3zM523 470v3h1v-3zM523 476v3h1v-3zM523 482v3h1v-3zM523 488v3h1v-3zM523 494v3h1v-3zM523 500v3h1v-3zM523 506v3h1v-3zM523 512v3h1v-3zM523 518v3h1v-3zM523 524v3h1v-3zM523 530v3h1v-3zM523 536v3h1v-3zM523 542v3h1v-3zM523 548v3h1v-3zM523 554v3h1v-3zM523 560v3h1v-3zM523 566v3h1v-3zM523 572v3h1v-3zM523 578v3h1v-3zM523 584v2h1v-2z" fill="#fff"/>
<path d="M763 3v2h1v-2zM763 8v3h1v-3zM763 14v3h1v-3zM763 20v3h1v-3zM763 26v3h1v-3zM763 32v3h1v-3zM763 38v3h1v-3zM763 44v3h1v-3zM763 50v3h1v-3zM763 56v3h1v-3zM763 62v3h1v-3zM763 68v3h1v-3zM763 74v3h1v-3zM763 80v3h1v-3zM763 86v3h1v-3zM763 92v3h1v-3zM763 98v3h1v-3zM763 104v3h1v-3zM763 110v3h1v-3zM763 116v3h1v-3zM763 122v3h1v-3zM763 128v3h1v-3zM763 134v3h1v-3zM763 140v3h1v-3zM763 146v3h1v-3zM763 152v3h1v-3zM763 158v3h1v-3zM763 164v3h1v-3zM763 170v3h1v-3zM763 176v3h1v-3zM763 182v3h1v-3zM763 188v3h1v-3zM763 194v3h1v-3zM763 200v3h1v-3zM763 206v3h1v-3zM763 212v3h1v-3zM763 218v3h1v-3zM763 224v3h1v-3zM763 230v3h1v-3zM763 236v3h1v-3zM763 242v3h1v-3zM763 248v3h1v-3zM763 254v3h1v-3zM763 260v3h1v-3zM763 266v3h1v-3zM763 272v3h1v-3zM763 278v3h1v-3zM763 284v3h1v-3zM763 290v3h1v-3zM763 296v3h1v-3zM763 302v3h1v-3zM763 308v3h1v-3zM763 314v3h1v-3zM763 320v3h1v-3zM763 326v3h1v-3zM763 332v3h1v-3zM763 338v3h1v-3zM763 344v3h1v-3zM763 350v3h1v-3zM763 356v3h1v-3zM763 362v3h1v-3zM763 368v3h1v-3zM763 374v3h1v-3zM763 380v3h1v-3zM763 386v3h1v-3zM763 392v3h1v-3zM763 398v3h1v-3zM763 404v3h1v-3zM763 410v3h1v-3zM763 416v3h1v-3zM763 422v3h1v-3zM763 428v3h1v-3zM763 434v3h1v-3zM763 440v3h1v-3zM763 446v3h1v-3zM763 452v3h1v-3zM763 458v3h1v-3zM763 464v3h1v-3zM763 470v3h1v-3zM763 476v3h1v-3zM763 482v3h1v-3zM763 488v3h1v-3zM763 494v3h1v-3zM763 500v3h1v-3zM763 506v3h1v-3zM763 512v3h1v-3zM763 518v3h1v-3zM763 524v3h1v-3zM763 530v3h1v-3zM763 536v3h1v-3zM763 542v3h1v-3zM763 548v3h1v-3zM763 554v3h1v-3zM763 560v3h1v-3zM763 566v3h1v-3zM763 572v3h1v-3zM763 578v3h1v-3zM763 584v2h1v-2z" fill="#fff"/>
<path d="M1003 3v2h1v-2zM1003 8v3h1v-3zM1003 14v3h1v-3zM1003 20v3h1v-3zM1003 26v3h1v-3zM1003 32v3h1v-3zM1003 38v3h1v-3zM1003 44v3h1v-3zM1003 50v3h1v-3zM1003 56v3h1v-3zM1003 62v3h1v-3zM1003 68v3h1v-3zM1003 74v3h1v-3zM1003 80v3h1v-3zM1003 86v3h1v-3zM1003 92v3h1v-3zM1003 98v3h1v-3zM1003 104v3h1v-3zM1003 110v3h1v-3zM1003 116v3h1v-3zM1003 122v3h1v-3zM1003 128v3h1v-3zM1003 134v3h1v-3zM1003 140v3h1v-3zM1003 146v3h1v-3zM1003 152v3h1v-3zM1003 158v3h1v-3zM1003 164v3h1v-3zM1003 170v3h1v-3zM1003 176v3h1v-3zM1003 182v3h1v-3zM1003 188v3h1v-3zM1003 194v3h1v-3zM1003 200v3h1v-3zM1003 206v3h1v-3zM1003 212v3h1v-3zM1003 218v3h1v-3zM1003 224v3h1v-3zM1003 230v3h1v-3zM1003 236v3h1v-3zM1003 242v3h1v-3zM1003 248v3h1v-3zM1003 254v3h1v-3zM1003 260v3h1v-3zM1003 266v3h1v-3zM1003 272v3h1v-3zM1003 278v3h1v-3zM1003 284v3h1v-3zM1003 290v3h1v-3zM1003 296v3h1v-3zM1003 302v3h1v-3zM1003 308v3h1v-3zM1003 314v3h1v-3zM1003 320v3h1v-3zM1003 326v3h1v-3zM1003 332v3h1v-3zM1003 338v3h1v-3zM1003 344v3h1v-3zM1003 350v3h1v-3zM1003 356v3h1v-3zM1003 362v3h1v-3zM1003 368v3h1v-3zM1003 374v3h1v-3zM1003 380v3h1v-3zM1003 386v3h1v-3zM1003 392v3h1v-3zM1003 398v3h1v-3zM1003 404v3h1v-3zM1003 410v3h1v-3zM1003 416v3h1v-3zM1003 422v3h1v-3zM1003 428v3h1v-3zM1003 434v3h1v-3zM1003 440v3h1v-3zM1003 446v3h1v-3zM1003 452v3h1v-3zM1003 458v3h1v-3zM1003 464v3h1v-3zM1003 470v3h1v-3zM1003 476v3h1v-3zM1003 482v3h1v-3zM1003 488v3h1v-3zM1003 494v3h1v-3zM1003 500v3h1v-3zM1003 506v3h1v-3zM1003 512v3h1v-3zM1003 518v3h1v-3zM1003 524v3h1v-3zM1003 530v3h1v-3zM1003 536v3h1v-3zM1003 542v3h1v-3zM1003 548v3h1v-3zM1003 554v3h1v-3zM1003 560v3h1v-3zM1003 566v3h1v-3zM1003 572v3h1v-3zM1003 578v3h1v-3zM1003 584v2h1v-2z" fill="#fff"/>
<path d="M4 5h3v1h-3zM10 5h3v1h-3zM16 5h3v1h-3zM22 5h3v1h-3zM28 5h3v1h-3zM34 5h3v1h-3zM40 5h3v1h-3zM46 5h3v1h-3zM52 5h3v1h-3zM58 5h3v1h-3zM64 5h3v1h-3zM70 5h3v1h-3zM76 5h3v1h-3zM82 5h3v1h-3zM88 5h3v1h-3zM94 5h3v1h-3zM100 5h3v1h-3zM106 5h3v1h-3zM112 5h3v1h-3zM118 5h3v1h-3zM124 5h3v1h-3zM130 5h3v1h-3zM136 5h3v1h-3zM142 5h3v1h-3zM148 5h3v1h-3zM154 5h3v1h-3zM160 5h3v1h-3zM166 5h3v1h-3zM172 5h3v1h-3zM178 5h3v1h-3zM184 5h3v1h-3zM190 5h3v1h-3zM196 5h3v1h-3zM202 5h3v1h-3zM208 5h3v1h-3zM214 5h3v1h-3zM220 5h3v1h-3zM226 5h3v1h-3zM232 5h3v1h-3zM238 5h3v1h-3zM244 5h3v1h-3zM250 5h3v1h-3zM256 5h3v1h-3zM262 5h3v1h-3zM268 5h3v1h-3zM274 5h3v1h-3zM280 5h3v1h-3zM286 5h3v1h-3zM292 5h3v1h-3zM298 5h3v1h-3zM304 5h3v1h-3zM310 5h3v1h-3zM316 5h3v1h-3zM322 5h3v1h-3zM328 5h3v1h-3zM334 5h3v1h-3zM340 5h3v1h-3zM346 5h3v1h-3zM352 5h3v1h-3zM358 5h3v1h-3zM364 5h3v1h-3zM370 5h3v1h-3zM376 5h3v1h-3zM382 5h3v1h-3zM388 5h3v1h-3zM394 5h3v1h-3zM400 5h3v1h-3zM406 5h3v1h-3zM412 5h3v1h-3zM418 5h3v1h-3zM424 5h3v1h-3zM430 5h3v1h-3zM436 5h3v1h-3zM442 5h3v1h-3zM448 5h3v1h-3zM454 5h3v1h-3zM460 5h3v1h-3zM466 5h3v1h-3zM472 5h3v1h-3zM478 5h3v1h-3zM484 5h3v1h-3zM490 5h3v1h-3zM496 5h3v1h-3zM502 5h3v1h-3zM508 5h3v1h-3zM514 5h3v1h-3zM520 5h3v1h-3zM526 5h3v1h-3zM532 5h3v1h-3zM538 5h3v1h-3zM544 5h3v1h-3zM550 5h3v1h-3zM556 5h3v1h-3zM562 5h3v1h-3zM568 5h3v1h-3zM574 5h3v1h-3zM580 5h3v1h-3zM586 5h3v1h-3zM592 5h3v1h-3zM598 5h3v1h-3zM604 5h3v1h-3zM610 5h3v1h-3zM616 5h3v1h-3zM622 5h3v1h-3zM628 5h3v1h-3zM634 5h3v1h-3zM640 5h3v1h-3zM646 5h3v1h-3zM652 5h3v1h-3zM658 5h3v1h-3zM664 5h3v1h-3zM670 5h3v1h-3zM676 5h3v1h-3zM682 5h3v1h-3zM688 5h3v1h-3zM694 5h3v1h-3zM700 5h3v1h-3zM706 5h3v1h-3zM712 5h3v1h-3zM718 5h3v1h-3zM724 5h3v1h-3zM730 5h3v1h-3zM736 5h3v1h-3zM742 5h3v1h-3zM748 5h3v1h-3zM754 5h3v1h-3zM760 5h3v1h-3zM766 5h3v1h-3zM772 5h3v1h-3zM778 5h3v1h-3zM784 5h3v1h-3zM790 5h3v1h-3zM796 5h3v1h-3zM802 5h3v1h-3zM808 5h3v1h-3zM814 5h3v1h-3zM820 5h3v1h-3zM826 5h3v1h-3zM832 5h3v1h-3zM838 5h3v1h-3zM844 5h3v1h-3zM850 5h3v1h-3zM856 5h3v1h-3zM862 5h3v1h-3zM868 5h3v1h-3zM874 5h3v1h-3zM880 5h3v1h-3zM886 5h3v1h-3zM892 5h3v1h-3zM898 5h3v1h-3zM904 5h3v1h-3zM910 5h3v1h-3zM916 5h3v1h-3zM922 5h3v1h-3zM928 5h3v1h-3zM934 5h3v1h-3zM940 5h3v1h-3zM946 5h3v1h-3zM952 5h3v1h-3zM958 5h3v1h-3zM964 5h3v1h-3zM970 5h3v1h-3zM976 5h3v1h-3zM982 5h3v1h-3zM988 5h3v1h-3zM994 5h3v1h-3zM1000 5h3v1h-3zM1006 5h3v1h-3zM1012 5h3v1h-3zM1018 5h3v1h-3zM1024 5h3v1h-3zM1030 5h3v1h-3zM1036 5h3v1h-3zM1042 5h3v1h-3zM1048 5h3v1h-3zM1054 5h3v1h-3zM1060 5h3v1h-3zM1066 5h3v1h-3zM1072 5h3v1h-3zM1078 5h3v1h-3zM1084 5h3v1h-3zM1090 5h3v1h-3zM1096 5h3v1h-3zM1102 5h3v1h-3zM1108 5h3v1h-3zM1114 5h3v1h-3zM1120 5h3v1h-3zM1126 5h3v1h-3zM1132 5h3v1h-3zM1138 5h3v1h-3zM1144 5h3v1h-3zM1150 5h3v1h-3zM1156 5h3v1h-3zM1162 5h3v1h-3zM1168 5h3v1h-3zM1174 5h3v1h-3zM1180 5h3v1h-3zM1186 5h3v1h-3zM1192 5h3v1h-3zM1198 5h3v1h-3zM1204 5h3v1h-3zM1210 5h3v1h-3zM1216 5h3v1h-3zM1222 5h3v1h-3zM1228 5h3v1h-3z" fill="#778899"/>
<path d="M4 37h3v1h-3zM10 37h3v1h-3zM16 37h3v1h-3zM22 37h3v1h-3zM28 37h3v1h-3zM34 37h3v1h-3zM40 37h3v1h-3zM46 37h3v1h-3zM52 37h3v1h-3zM58 37h3v1h-3zM64 37h3v1h-3zM70 37h3v1h-3zM76 37h3v1h-3zM82 37h3v1h-3zM88 37h3v1h-3zM94 37h3v1h-3zM100 37h3v1h-3zM106 37h3v1h-3zM112 37h3v1h-3zM118 37h3v1h-3zM124 37h3v1h-3zM130 37h3v1h-3zM136 37h3v1h-3zM142 37h3v1h-3zM148 37h3v1h-3zM154 37h3v1h-3zM160 37h3v1h-3zM166 37h3v1h-3zM172 37h3v1h-3zM178 37h3v1h-3zM184 37h3v1h-3zM190 37h3v1h-3zM196 37h3v1h-3zM202 37h3v1h-3zM208 37h3v1h-3zM214 37h3v1h-3zM220 37h3v1h-3zM226 37h3v1h-3zM232 37h3v1h-3zM238 37h3v1h-3zM244 37h3v1h-3zM250 37h3v1h-3zM256 37h3v1h-3zM262 37h3v1h-3zM268 37h3v1h-3zM274 37h3v1h-3zM280 37h3v1h-3zM286 37h3v1h-3zM292 37h3v1h-3zM298 37h3v1h-3zM304 37h3v1h-3zM310 37h3v1h-3zM316 37h3v1h-3zM322 37h3v1h-3zM328 37h3v1h-3zM334 37h3v1h-3zM340 37h3v1h-3zM346 37h3v1h-3zM352 37h3v1h-3zM358 37h3v1h-3zM364 37h3v1h-3zM370 37h3v1h-3zM376 37h3v1h-3zM382 37h3v1h-3zM388 37h3v1h-3zM394 37h3v1h-3zM400 37h3v1h-3zM406 37h3v1h-3zM412 37h3v1h-3zM418 37h3v1h-3zM424 37h3v1h-3zM430 37h3v1h-3zM436 37h3v1h-3zM442 37h3v1h-3zM448 37h3v1h-3zM454 37h3v1h-3zM460 37h3v1h-3zM466 37h3v1h-3zM472 37h3v1h-3zM478 37h3v1h-3zM484 37h3v1h-3zM490 37h3v1h-3zM496 37h3v1h-3zM502 37h3v1h-3zM508 37h3v1h-3zM514 37h3v1h-3zM520 37h3v1h-3zM526 37h3v1h-3zM532 37h3v1h-3zM538 37h3v1h-3zM544 37h3v1h-3zM550 37h3v1h-3zM556 37h3v1h-3zM562 37h3v1h-3zM568 37h3v1h-3zM574 37h3v1h-3zM580 37h3v1h-3zM586 37h3v1h-3zM592 37h3v1h-3zM598 37h3v1h-3zM604 37h3v1h-3zM610 37h3v1h-3zM616 37h3v1h-3zM622 37h3v1h-3zM628 37h3v1h-3zM634 37h3v1h-3zM640 37h3v1h-3zM646 37h3v1h-3zM652 37h3v1h-3zM658 37h3v1h-3zM664 37h3v1h-3zM670 37h3v1h-3zM676 37h3v1h-3zM682 37h3v1h-3zM688 37h3v1h-3zM694 37h3v1h-3zM700 37h3v1h-3zM706 37h3v1h-3zM712 37h3v1h-3zM718 37h3v1h-3zM724 37h3v1h-3zM730 37h3v1h-3zM736 37h3v1h-3zM742 37h3v1h-3zM748 37h3v1h-3zM754 37h3v1h-3zM760 37h3v1h-3zM766 37h3v1h-3zM772 37h3v1h-3zM778 37h3v1h-3zM784 37h3v1h-3zM790 37h3v1h-3zM796 37h3v1h-3zM802 37h3v1h-3zM808 37h3v1h-3zM814 37h3v1h-3zM820 37h3v1h-3zM826 37h3v1h-3zM832 37h3v1h-3zM838 37h3v1h-3zM844 37h3v1h-3zM850 37h3v1h-3zM856 37h3v1h-3zM862 37h3v1h-3zM868 37h3v1h-3zM874 37h3v1h-3zM880 37h3v1h-3zM886 37h3v1h-3zM892 37h3v1h-3zM898 37h3v1h-3zM904 37h3v1h-3zM910 37h3v1h-3zM916 37h3v1h-3zM922 37h3v1h-3zM928 37h3v1h-3zM934 37h3v1h-3zM940 37h3v1h-3zM946 37h3v1h-3zM952 37h3v1h-3zM958 37h3v1h-3zM964 37h3v1h-3zM970 37h3v1h-3zM976 37h3v1h-3zM982 37h3v1h-3zM988 37h3v1h-3zM994 37h3v1h-3zM1000 37h3v1h-3zM1006 37h3v1h-3zM1012 37h3v1h-3zM1018 37h3v1h-3zM1024 37h3v1h-3zM1030 37h3v1h-3zM1036 37h3v1h-3zM1042 37h3v1h-3zM1048 37h3v1h-3zM1054 37h3v1h-3zM1060 37h3v1h-3zM1066 37h3v1h-3zM1072 37h3v1h-3zM1078 37h3v1h-3zM1084 37h3v1h-3zM1090 37h3v1h-3zM1096 37h3v1h-3zM1102 37h3v1h-3zM1108 37h3v1h-3zM1114 37h3v1h-3zM1120 37h3v1h-3zM1126 37h3v1h-3zM1132 37h3v1h-3zM1138 37h3v1h-3zM1144 37h3v1h-3zM1150 37h3v1h-3zM1156 37h3v1h-3zM1162 37h3v1h-3zM1168 37h3v1h-3zM1174 37h3v1h-3zM1180 37h3v1h-3zM1186 37h3v1h-3zM1192 37h3v1h-3zM1198 37h3v1h-3zM1204 37h3v1h-3zM1210 37h3v1h-3zM1216 37h3v1h-3zM1222 37h3v1h-3zM1228 37h3v1h-3z" fill="#778899"/>
<path d="M4 69h3v1h-3zM10 69h3v1h-3zM16 69h3v1h-3zM22 69h3v1h-3zM28 69h3v1h-3zM34 69h3v1h-3zM40 69h3v1h-3zM46 69h3v1h-3zM52 69h3v1h-3zM58 69h3v1h-3zM64 69h3v1h-3zM70 69h3v1h-3zM76 69h3v1h-3zM82 69h3v1h-3zM88 69h3v1h-3zM94 69h3v1h-3zM100 69h3v1h-3zM106 69h3v1h-3zM112 69h3v1h-3zM118 69h3v1h-3zM124 69h3v1h-3zM130 69h3v1h-3zM136 69h3v1h-3zM142 69h3v1h-3zM148 69h3v1h-3zM154 69h3v1h-3zM160 69h3v1h-3zM166 69h3v1h-3zM172 69h3v1h-3zM178 69h3v1h-3zM184 69h3v1h-3zM190 69h3v1h-3zM196 69h3v1h-3zM202 69h3v1h-3zM208 69h3v1h-3zM214 69h3v1h-3zM220 69h3v1h-3zM226 69h3v1h-3zM232 69h3v1h-3zM238 69h3v1h-3zM244 69h3v1h-3zM250 69h3v1h-3zM256 69h3v1h-3zM262 69h3v1h-3zM268 69h3v1h-3zM274 69h3v1h-3zM280 69h3v1h-3zM286 69h3v1h-3zM292 69h3v1h-3zM298 69h3v1h-3zM304 69h3v1h-3zM310 69h3v1h-3zM316 69h3v1h-3zM322 69h3v1h-3zM328 69h3v1h-3zM334 69h3v1h-3zM340 69h3v1h-3zM346 69h3v1h-3zM352 69h3v1h-3zM358 69h3v1h-3zM364 69h3v1h-3zM370 69h3v1h-3zM376 69h3v1h-3zM382 69h3v1h-3zM388 69h3v1h-3zM394 69h3v1h-3zM400 69h3v1h-3zM406 69h3v1h-3zM412 69h3v1h-3zM418 69h3v1h-3zM424 69h3v1h-3zM430 69h3v1h-3zM436 69h3v1h-3zM442 69h3v1h-3zM448 69h3v1h-3zM454 69h3v1h-3zM460 69h3v1h-3zM466 69h3v1h-3zM472 69h3v1h-3zM478 69h3v1h-3zM484 69h3v1h-3zM490 69h3v1h-3zM496 69h3v1h-3zM502 69h3v1h-3zM508 69h3v1h-3zM514 69h3v1h-3zM520 69h3v1h-3zM526 69h3v1h-3zM532 69h3v1h-3zM538 69h3v1h-3zM544 69h3v1h-3zM550 69h3v1h-3zM556 69h3v1h-3zM562 69h3v1h-3zM568 69h3v1h-3zM574 69h3v1h-3zM580 69h3v1h-3zM586 69h3v1h-3zM592 69h3v1h-3zM598 69h3v1h-3zM604 69h3v1h-3zM610 69h3v1h-3zM616 69h3v1h-3zM622 69h3v1h-3zM628 69h3v1h-3zM634 69h3v1h-3zM640 69h3v1h-3zM646 69h3v1h-3zM652 69h3v1h-3zM658 69h3v1h-3zM664 69h3v1h-3zM670 69h3v1h-3zM676 69h3v1h-3zM682 69h3v1h-3zM688 69h3v1h-3zM694 69h3v1h-3zM700 69h3v1h-3zM706 69h3v1h-3zM712 69h3v1h-3zM718 69h3v1h-3zM724 69h3v1h-3zM730 69h3v1h-3zM736 69h3v1h-3zM742 69h3v1h-3zM748 69h3v1h-3zM754 69h3v1h-3zM760 69h3v1h-3zM766 69h3v1h-3zM772 69h3v1h-3zM778 69h3v1h-3zM784 69h3v1h-3zM790 69h3v1h-3zM796 69h3v1h-3zM802 69h3v1h-3zM808 69h3v1h-3zM814 69h3v1h-3zM820 69h3v1h-3zM826 69h3v1h-3zM832 69h3v1h-3zM838 69h3v1h-3zM844 69h3v1h-3zM850 69h3v1h-3zM856 69h3v1h-3zM862 69h3v1h-3zM868 69h3v1h-3zM874 69h3v1h-3zM880 69h3v1h-3zM886 69h3v1h-3zM892 69h3v1h-3zM898 69h3v1h-3zM904 69h3v1h-3zM910 69h3v1h-3zM916 69h3v1h-3zM922 69h3v1h-3zM928 69h3v1h-3zM934 69h3v1h-3zM940 69h3v1h-3zM946 69h3v1h-3zM952 69h3v1h-3zM958 69h3v1h-3zM964 69h3v1h-3zM970 69h3v1h-3zM976 69h3v1h-3zM982 69h3v1h-3zM988 69h3v1h-3zM994 69h3v1h-3zM1000 69h3v1h-3zM1006 69h3v1h-3zM1012 69h3v1h-3zM1018 69h3v1h-3zM1024 69h3v1h-3zM1030 69h3v1h-3zM1036 69h3v1h-3zM1042 69h3v1h-3zM1048 69h3v1h-3zM1054 69h3v1h-3zM1060 69h3v1h-3zM1066 69h3v1h-3zM1072 69h3v1h-3zM1078 69h3v1h-3zM1084 69h3v1h-3zM1090 69h3v1h-3zM1096 69h3v1h-3zM1102 69h3v1h-3zM1108 69h3v1h-3zM1114 69h3v1h-3zM1120 69h3v1h-3zM1126 69h3v1h-3zM1132 69h3v1h-3zM1138 69h3v1h-3zM1144 69h3v1h-3zM1150 69h3v1h-3zM1156 69h3v1h-3zM1162 69h3v1h-3zM1168 69h3v1h-3zM1174 69h3v1h-3zM1180 69h3v1h-3zM1186 69h3v1h-3zM1192 69h3v1h-3zM1198 69h3v1h-3zM1204 69h3v1h-3zM1210 69h3v1h-3zM1216 69h3v1h-3zM1222 69h3v1h-3zM1228 69h3v1h-3z" fill="#778899"/>
<path d="M4 101h3v1h-3zM10 101h3v1h-3zM16 101h3v1h-3zM22 101h3v1h-3zM28 101h3v1h-3zM34 101h3v1h-3zM40 101h3v1h-3zM46 101h3v1h-3zM52 101h3v1h-3zM58 101h3v1h-3zM64 101h3v1h-3zM70 101h3v1h-3zM76 101h3v1h-3zM82 101h3v1h-3zM88 101h3v1h-3zM94 101h3v1h-3zM100 101h3v1h-3zM106 101h3v1h-3zM112 101h3v1h-3zM118 101h3v1h-3zM124 101h3v1h-3zM130 101h3v1h-3zM136 101h3v1h-3zM142 101h3v1h-3zM148 101h3v1h-3zM154 101h3v1h-3zM160 101h3v1h-3zM166 101h3v1h-3zM172 101h3v1h-3zM178 101h3v1h-3zM184 101h3v1h-3zM190 101h3v1h-3zM196 101h3v1h-3zM202 101h3v1h-3zM208 101h3v1h-3zM214 101h3v1h-3zM220 101h3v1h-3zM226 101h3v1h-3zM232 101h3v1h-3zM238 101h3v1h-3zM244 101h3v1h-3zM250 101h3v1h-3zM256 101h3v1h-3zM262 101h3v1h-3zM268 101h3v1h-3zM274 101h3v1h-3zM280 101h3v1h-3zM286 101h3v1h-3zM292 101h3v1h-3zM298 101h3v1h-3zM304 101h3v1h-3zM310 101h3v1h-3zM316 101h3v1h-3zM322 101h3v1h-3zM328 101h3v1h-3zM334 101h3v1h-3zM340 101h3v1h-3zM346 101h3v1h-3zM352 101h3v1h-3zM358 101h3v1h-3zM364 101h3v1h-3zM370 101h3v1h-3zM376 101h3v1h-3zM382 101h3v1h-3zM388 101h3v1h-3zM394 101h3v1h-3zM400 101h3v1h-3zM406 101h3v1h-3zM412 101h3v1h-3zM418 101h3v1h-3zM424 101h3v1h-3zM430 101h3v1h-3zM436 101h3v1h-3zM442 101h3v1h-3zM448 101h3v1h-3zM454 101h3v1h-3zM460 101h3v1h-3zM466 101h3v1h-3zM472 101h3v1h-3zM478 101h3v1h-3zM484 101h3v1h-3zM490 101h3v1h-3zM496 101h3v1h-3zM502 101h3v1h-3zM508 101h3v1h-3zM514 101h3v1h-3zM520 101h3v1h-3zM526 101h3v1h-3zM532 101h3v1h-3zM538 101h3v1h-3zM544 101h3v1h-3zM550 101h3v1h-3zM556 101h3v1h-3zM562 101h3v1h-3zM568 101h3v1h-3zM574 101h3v1h-3zM580 101h3v1h-3zM586 101h3v1h-3zM592 101h3v1h-3zM598 101h3v1h-3zM604 101h3v1h-3zM610 101h3v1h-3zM616 101h3v1h-3zM622 101h3v1h-3zM628 101h3v1h-3zM634 101h3v1h-3zM640 101h3v1h-3zM646 101h3v1h-3zM652 101h3v1h-3zM658 101h3v1h-3zM664 101h3v1h-3zM670 101h3v1h-3zM676 101h3v1h-3zM682 101h3v1h-3zM688 101h3v1h-3zM694 101h3v1h-3zM700 101h3v1h-3zM706 101h3v1h-3zM712 101h3v1h-3zM718 101h3v1h-3zM724 101h3v1h-3zM730 101h3v1h-3zM736 101h3v1h-3zM742 101h3v1h-3zM748 101h3v1h-3zM754 101h3v1h-3zM760 101h3v1h-3zM766 101h3v1h-3zM772 101h3v1h-3zM778 101h3v1h-3zM784 101h3v1h-3zM790 101h3v1h-3zM796 101h3v1h-3zM802 101h3v1h-3zM808 101h3v1h-3zM814 101h3v1h-3zM820 101h3v1h-3zM826 101h3v1h-3zM832 101h3v1h-3zM838 101h3v1h-3zM844 101h3v1h-3zM850 101h3v1h-3zM856 101h3v1h-3zM862 101h3v1h-3zM868 101h3v1h-3zM874 101h3v1h-3zM880 101h3v1h-3zM886 101h3v1h-3zM892 101h3v1h-3zM898 101h3v1h-3zM904 101h3v1h-3zM910 101h3v1h-3zM916 101h3v1h-3zM922 101h3v1h-3zM928 101h3v1h-3zM934 101h3v1h-3zM940 101h3v1h-3zM946 101h3v1h-3zM952 101h3v1h-3zM958 101h3v1h-3zM964 101h3v1h-3zM970 101h3v1h-3zM976 101h3v1h-3zM982 101h3v1h-3zM988 101h3v1h-3zM994 101h3v1h-3zM1000 101h3v1h-3zM1006 101h3v1h-3zM1012 101h3v1h-3zM1018 101h3v1h-3zM1024 101h3v1h-3zM1030 101h3v1h-3zM1036 101h3v1h-3zM1042 101h3v1h-3zM1048 101h3v1h-3zM1054 101h3v1h-3zM1060 101h3v1h-3zM1066 101h3v1h-3zM1072 101h3v1h-3zM1078 101h3v1h-3zM1084 101h3v1h-3zM1090 101h3v1h-3zM1096 101h3v1h-3zM1102 101h3v1h-3zM1108 101h3v1h-3zM1114 101h3v1h-3zM1120 101h3v1h-3zM1126 101h3v1h-3zM1132 101h3v1h-3zM1138 101h3v1h-3zM1144 101h3v1h-3zM1150 101h3v1h-3zM1156 101h3v1h-3zM1162 101h3v1h-3zM1168 101h3v1h-3zM1174 101h3v1h-3zM1180 101h3v1h-3zM1186 101h3v1h-3zM1192 101h3v1h-3zM1198 101h3v1h-3zM1204 101h3v1h-3zM1210 101h3v1h-3zM1216 101h3v1h-3zM1222 101h3v1h-3zM1228 101h3v1h-3z" fill="#778899"/>
<path d="M4 133h3v1h-3zM10 133h3v1h-3zM16 133h3v1h-3zM22 133h3v1h-3zM28 133h3v1h-3zM34 133h3v1h-3zM40 133h3v1h-3zM46 133h3v1h-3zM52 133h3v1h-3zM58 133h3v1h-3zM64 133h3v1h-3zM70 133h3v1h-3zM76 133h3v1h-3zM82 133h3v1h-3zM88 133h3v1h-3zM94 133h3v1h-3zM100 133h3v1h-3zM106 133h3v1h-3zM112 133h3v1h-3zM118 133h3v1h-3zM124 133h3v1h-3zM130 133h3v1h-3zM136 133h3v1h-3zM142 133h3v1h-3zM148 133h3v1h-3zM154 133h3v1h-3zM160 133h3v1h-3zM166 133h3v1h-3zM172 133h3v1h-3zM178 133h3v1h-3zM184 133h3v1h-3zM190 133h3v1h-3zM196 133h3v1h-3zM202 133h3v1h-3zM208 133h3v1h-3zM214 133h3v1h-3zM220 133h3v1h-3zM226 133h3v1h-3zM232 133h3v1h-3zM238 133h3v1h-3zM244 133h3v1h-3zM250 133h3v1h-3zM256 133h3v1h-3zM262 133h3v1h-3zM268 133h3v1h-3zM274 133h3v1h-3zM280 133h3v1h-3zM286 133h3v1h-3zM292 133h3v1h-3zM298 133h3v1h-3zM304 133h3v1h-3zM310 133h3v1h-3zM316 133h3v1h-3zM322 133h3v1h-3zM328 133h3v1h-3zM334 133h3v1h-3zM340 133h3v1h-3zM346 133h3v1h-3zM352 133h3v1h-3zM358 133h3v1h-3zM364 133h3v1h-3zM370 133h3v1h-3zM376 133h3v1h-3zM382 133h3v1h-3zM388 133h3v1h-3zM394 133h3v1h-3zM400 133h3v1h-3zM406 133h3v1h-3zM412 133h3v1h-3zM418 133h3v1h-3zM424 133h3v1h-3zM430 133h3v1h-3zM436 133h3v1h-3zM442 133h3v1h-3zM448 133h3v1h-3zM454 133h3v1h-3zM460 133h3v1h-3zM466 133h3v1h-3zM472 133h3v1h-3zM478 133h3v1h-3zM484 133h3v1h-3zM490 133h3v1h-3zM496 133h3v1h-3zM502 133h3v1h-3zM508 133h3v1h-3zM514 133h3v1h-3zM520 133h3v1h-3zM526 133h3v1h-3zM532 133h3v1h-3zM538 133h3v1h-3zM544 133h3v1h-3zM550 133h3v1h-3zM556 133h3v1h-3zM562 133h3v1h-3zM568 133h3v1h-3zM574 133h3v1h-3zM580 133h3v1h-3zM586 133h3v1h-3zM592 133h3v1h-3zM598 133h3v1h-3zM604 133h3v1h-3zM610 133h3v1h-3zM616 133h3v1h-3zM622 133h3v1h-3zM628 133h3v1h-3zM634 133h3v1h-3zM640 133h3v1h-3zM646 133h3v1h-3zM652 133h3v1h-3zM658 133h3v1h-3zM664 133h3v1h-3zM670 133h3v1h-3zM676 133h3v1h-3zM682 133h3v1h-3zM688 133h3v1h-3zM694 133h3v1h-3zM700 133h3v1h-3zM706 133h3v1h-3zM712 133h3v1h-3zM718 133h3v1h-3zM724 133h3v1h-3zM730 133h3v1h-3zM736 133h3v1h-3zM742 133h3v1h-3zM748 133h3v1h-3zM754 133h3v1h-3zM760 133h3v1h-3zM766 133h3v1h-3zM772 133h3v1h-3zM778 133h3v1h-3zM784 133h3v1h-3zM790 133h3v1h-3zM796 133h3v1h-3zM802 133h3v1h-3zM808 133h3v1h-3zM814 133h3v1h-3zM820 133h3v1h-3zM826 133h3v1h-3zM832 133h3v1h-3zM838 133h3v1h-3zM844 133h3v1h-3zM850 133h3v1h-3zM856 133h3v1h-3zM862 133h3v1h-3zM868 133h3v1h-3zM874 133h3v1h-3zM880 133h3v1h-3zM886 133h3v1h-3zM892 133h3v1h-3zM898 133h3v1h-3zM904 133h3v1h-3zM910 133h3v1h-3zM916 133h3v1h-3zM922 133h3v1h-3zM928 133h3v1h-3zM934 133h3v1h-3zM940 133h3v1h-3zM946 133h3v1h-3zM952 133h3v1h-3zM958 133h3v1h-3zM964 133h3v1h-3zM970 133h3v1h-3zM976 133h3v1h-3zM982 133h3v1h-3zM988 133h3v1h-3zM994 133h3v1h-3zM1000 133h3v1h-3zM1006 133h3v1h-3zM1012 133h3v1h-3zM1018 133h3v1h-3zM1024 133h3v1h-3zM1030 133h3v1h-3zM1036 133h3v1h-3zM1042 133h3v1h-3zM1048 133h3v1h-3zM1054 133h3v1h-3zM1060 133h3v1h-3zM1066 133h3v1h-3zM1072 133h3v1h-3zM1078 133h3v1h-3zM1084 133h3v1h-3zM1090 133h3v1h-3zM1096 133h3v1h-3zM1102 133h3v1h-3zM1108 133h3v1h-3zM1114 133h3v1h-3zM1120 133h3v1h-3zM1126 133h3v1h-3zM1132 133h3v1h-3zM1138 133h3v1h-3zM1144 133h3v1h-3zM1150 133h3v1h-3zM1156 133h3v1h-3zM1162 133h3v1h-3zM1168 133h3v1h-3zM1174 133h3v1h-3zM1180 133h3v1h-3zM1186 133h3v1h-3zM1192 133h3v1h-3zM1198 133h3v1h-3zM1204 133h3v1h-3zM1210 133h3v1h-3zM1216 133h3v1h-3zM1222 133h3v1h-3zM1228 133h3v1h-3z" fill="#778899"/>
<path d="M4 165h3v1h-3zM10 165h3v1h-3zM16 165h3v1h-3zM22 165h3v1h-3zM28 165h3v1h-3zM34 165h3v1h-3zM40 165h3v1h-3zM46 165h3v1h-3zM52 165h3v1h-3zM58 165h3v1h-3zM64 165h3v1h-3zM70 165h3v1h-3zM76 165h3v1h-3zM82 165h3v1h-3zM88 165h3v1h-3zM94 165h3v1h-3zM100 165h3v1h-3zM106 165h3v1h-3zM112 165h3v1h-3zM118 165h3v1h-3zM124 165h3v1h-3zM130 165h3v1h-3zM136 165h3v1h-3zM142 165h3v1h-3zM148 165h3v1h-3zM154 165h3v1h-3zM160 165h3v1h-3zM166 165h3v1h-3zM172 165h3v1h-3zM178 165h3v1h-3zM184 165h3v1h-3zM190 165h3v1h-3zM196 165h3v1h-3zM202 165h3v1h-3zM208 165h3v1h-3zM214 165h3v1h-3zM220 165h3v1h-3zM226 165h3v1h-3zM232 165h3v1h-3zM238 165h3v1h-3zM244 165h3v1h-3zM250 165h3v1h-3zM256 165h3v1h-3zM262 165h3v1h-3zM268 165h3v1h-3zM274 165h3v1h-3zM280 165h3v1h-3zM286 165h3v1h-3zM292 165h3v1h-3zM298 165h3v1h-3zM304 165h3v1h-3zM310 165h3v1h-3zM316 165h3v1h-3zM322 165h3v1h-3zM328 165h3v1h-3zM334 165h3v1h-3zM340 165h3v1h-3zM346 165h3v1h-3zM352 165h3v1h-3zM358 165h3v1h-3zM364 165h3v1h-3zM370 165h3v1h-3zM376 165h3v1h-3zM382 165h3v1h-3zM388 165h3v1h-3zM394 165h3v1h-3zM400 165h3v1h-3zM406 165h3v1h-3zM412 165h3v1h-3zM418 165h3v1h-3zM424 165h3v1h-3zM430 165h3v1h-3zM436 165h3v1h-3zM442 165h3v1h-3zM448 165h3v1h-3zM454 165h3v1h-3zM460 165h3v1h-3zM466 165h3v1h-3zM472 165h3v1h-3zM478 165h3v1h-3zM484 165h3v1h-3zM490 165h3v1h-3zM496 165h3v1h-3zM502 165h3v1h-3zM508 165h3v1h-3zM514 165h3v1h-3zM520 165h3v1h-3zM526 165h3v1h-3zM532 165h3v1h-3zM538 165h3v1h-3zM544 165h3v1h-3zM550 165h3v1h-3zM556 165h3v1h-3zM562 165h3v1h-3zM568 165h3v1h-3zM574 165h3v1h-3zM580 165h3v1h-3zM586 165h3v1h-3zM592 165h3v1h-3zM598 165h3v1h-3zM604 165h3v1h-3zM610 165h3v1h-3zM616 165h3v1h-3zM622 165h3v1h-3zM628 165h3v1h-3zM634 165h3v1h-3zM640 165h3v1h-3zM646 165h3v1h-3zM652 165h3v1h-3zM658 165h3v1h-3zM664 165h3v1h-3zM670 165h3v1h-3zM676 165h3v1h-3zM682 165h3v1h-3zM688 165h3v1h-3zM694 165h3v1h-3zM700 165h3v1h-3zM706 165h3v1h-3zM712 165h3v1h-3zM718 165h3v1h-3zM724 165h3v1h-3zM730 165h3v1h-3zM736 165h3v1h-3zM742 165h3v1h-3zM748 165h3v1h-3zM754 165h3v1h-3zM760 165h3v1h-3zM766 165h3v1h-3zM772 165h3v1h-3zM778 165h3v1h-3zM784 165h3v1h-3zM790 165h3v1h-3zM796 165h3v1h-3zM802 165h3v1h-3zM808 165h3v1h-3zM814 165h3v1h-3zM820 165h3v1h-3zM826 165h3v1h-3zM832 165h3v1h-3zM838 165h3v1h-3zM844 165h3v1h-3zM850 165h3v1h-3zM856 165h3v1h-3zM862 165h3v1h-3zM868 165h3v1h-3zM874 165h3v1h-3zM880 165h3v1h-3zM886 165h3v1h-3zM892 165h3v1h-3zM898 165h3v1h-3zM904 165h3v1h-3zM910 165h3v1h-3zM916 165h3v1h-3zM922 165h3v1h-3zM928 165h3v1h-3zM934 165h3v1h-3zM940 165h3v1h-3zM946 165h3v1h-3zM952 165h3v1h-3zM958 165h3v1h-3zM964 165h3v1h-3zM970 165h3v1h-3zM976 165h3v1h-3zM982 165h3v1h-3zM988 165h3v1h-3zM994 165h3v1h-3zM1000 165h3v1h-3zM1006 165h3v1h-3zM1012 165h3v1h-3zM1018 165h3v1h-3zM1024 165h3v1h-3zM1030 165h3v1h-3zM1036 165h3v1h-3zM1042 165h3v1h-3zM1048 165h3v1h-3zM1054 165h3v1h-3zM1060 165h3v1h-3zM1066 165h3v1h-3zM1072 165h3v1h-3zM1078 165h3v1h-3zM1084 165h3v1h-3zM1090 165h3v1h-3zM1096 165h3v1h-3zM1102 165h3v1h-3zM1108 165h3v1h-3zM1114 165h3v1h-3zM1120 165h3v1h-3zM1126 165h3v1h-3zM1132 165h3v1h-3zM1138 165h3v1h-3zM1144 165h3v1h-3zM1150 165h3v1h-3zM1156 165h3v1h-3zM1162 165h3v1h-3zM1168 165h3v1h-3zM1174 165h3v1h-3zM1180 165h3v1h-3zM1186 165h3v1h-3zM1192 165h3v1h-3zM1198 165h3v1h-3zM1204 165h3v1h-3zM1210 165h3v1h-3zM1216 165h3v1h-3zM1222 165h3v1h-3zM1228 165h3v1h-3z" fill="#778899"/>
<path d="M4 197h3v1h-3zM10 197h3v1h-3zM16 197h3v1h-3zM22 197h3v1h-3zM28 197h3v1h-3zM34 197h3v1h-3zM40 197h3v1h-3zM46 197h3v1h-3zM52 197h3v1h-3zM58 197h3v1h-3zM64 197h3v1h-3zM70 197h3v1h-3zM76 197h3v1h-3zM82 197h3v1h-3zM88 197h3v1h-3zM94 197h3v1h-3zM100 197h3v1h-3zM106 197h3v1h-3zM112 197h3v1h-3zM118 197h3v1h-3zM124 197h3v1h-3zM130 197h3v1h-3zM136 197h3v1h-3zM142 197h3v1h-3zM148 197h3v1h-3zM154 197h3v1h-3zM160 197h3v1h-3zM166 197h3v1h-3zM172 197h3v1h-3zM178 197h3v1h-3zM184 197h3v1h-3zM190 197h3v1h-3zM196 197h3v1h-3zM202 197h3v1h-3zM208 197h3v1h-3zM214 197h3v1h-3zM220 197h3v1h-3zM226 197h3v1h-3zM232 197h3v1h-3zM238 197h3v1h-3zM244 197h3v1h-3zM250 197h3v1h-3zM256 197h3v1h-3zM262 197h3v1h-3zM268 197h3v1h-3zM274 197h3v1h-3zM280 197h3v1h-3zM286 197h3v1h-3zM292 197h3v1h-3zM298 197h3v1h-3zM304 197h3v1h-3zM310 197h3v1h-3zM316 197h3v1h-3zM322 197h3v1h-3zM328 197h3v1h-3zM334 197h3v1h-3zM340 197h3v1h-3zM346 197h3v1h-3zM352 197h3v1h-3zM358 197h3v1h-3zM364 197h3v1h-3zM370 197h3v1h-3zM376 197h3v1h-3zM382 197h3v1h-3zM388 197h3v1h-3zM394 197h3v1h-3zM400 197h3v1h-3zM406 197h3v1h-3zM412 197h3v1h-3zM418 197h3v1h-3zM424 197h3v1h-3zM430 197h3v1h-3zM436 197h3v1h-3zM442 197h3v1h-3zM448 197h3v1h-3zM454 197h3v1h-3zM460 197h3v1h-3zM466 197h3v1h-3zM472 197h3v1h-3zM478 197h3v1h-3zM484 197h3v1h-3zM490 197h3v1h-3zM496 197h3v1h-3zM502 197h3v1h-3zM508 197h3v1h-3zM514 197h3v1h-3zM520 197h3v1h-3zM526 197h3v1h-3zM532 197h3v1h-3zM538 197h3v1h-3zM544 197h3v1h-3zM550 197h3v1h-3zM556 197h3v1h-3zM562 197h3v1h-3zM568 197h3v1h-3zM574 197h3v1h-3zM580 197h3v1h-3zM586 197h3v1h-3zM592 197h3v1h-3zM598 197h3v1h-3zM604 197h3v1h-3zM610 197h3v1h-3zM616 197h3v1h-3zM622 197h3v1h-3zM628 197h3v1h-3zM634 197h3v1h-3zM640 197h3v1h-3zM646 197h3v1h-3zM652 197h3v1h-3zM658 197h3v1h-3zM664 197h3v1h-3zM670 197h3v1h-3zM676 197h3v1h-3zM682 197h3v1h-3zM688 197h3v1h-3zM694 197h3v1h-3zM700 197h3v1h-3zM706 197h3v1h-3zM712 197h3v1h-3zM718 197h3v1h-3zM724 197h3v1h-3zM730 197h3v1h-3zM736 197h3v1h-3zM742 197h3v1h-3zM748 197h3v1h-3zM754 197h3v1h-3zM760 197h3v1h-3zM766 197h3v1h-3zM772 197h3v1h-3zM778 197h3v1h-3zM784 197h3v1h-3zM790 197h3v1h-3zM796 197h3v1h-3zM802 197h3v1h-3zM808 197h3v1h-3zM814 197h3v1h-3zM820 197h3v1h-3zM826 197h3v1h-3zM832 197h3v1h-3zM838 197h3v1h-3zM844 197h3v1h-3zM850 197h3v1h-3zM856 197h3v1h-3zM862 197h3v1h-3zM868 197h3v1h-3zM874 197h3v1h-3zM880 197h3v1h-3zM886 197h3v1h-3zM892 197h3v1h-3zM898 197h3v1h-3zM904 197h3v1h-3zM910 197h3v1h-3zM916 197h3v1h-3zM922 197h3v1h-3zM928 197h3v1h-3zM934 197h3v1h-3zM940 197h3v1h-3zM946 197h3v1h-3zM952 197h3v1h-3zM958 197h3v1h-3zM964 197h3v1h-3zM970 197h3v1h-3zM976 197h3v1h-3zM982 197h3v1h-3zM988 197h3v1h-3zM994 197h3v1h-3zM1000 197h3v1h-3zM1006 197h3v1h-3zM1012 197h3v1h-3zM1018 197h3v1h-3zM1024 197h3v1h-3zM1030 197h3v1h-3zM1036 197h3v1h-3zM1042 197h3v1h-3zM1048 197h3v1h-3zM1054 197h3v1h-3zM1060 197h3v1h-3zM1066 197h3v1h-3zM1072 197h3v1h-3zM1078 197h3v1h-3zM1084 197h3v1h-3zM1090 197h3v1h-3zM1096 197h3v1h-3zM1102 197h3v1h-3zM1108 197h3v1h-3zM1114 197h3v1h-3zM1120 197h3v1h-3zM1126 197h3v1h-3zM1132 197h3v1h-3zM1138 197h3v1h-3zM1144 197h3v1h-3zM1150 197h3v1h-3zM1156 197h3v1h-3zM1162 197h3v1h-3zM1168 197h3v1h-3zM1174 197h3v1h-3zM1180 197h3v1h-3zM1186 197h3v1h-3zM1192 197h3v1h-3zM1198 197h3v1h-3zM1204 197h3v1h-3zM1210 197h3v1h-3zM1216 197h3v1h-3zM1222 197h3v1h-3zM1228 197h3v1h-3z" fill="#778899"/>
<path d="M4 229h3v1h-3zM10 229h3v1h-3zM16 229h3v1h-3zM22 229h3v1h-3zM28 229h3v1h-3zM34 229h3v1h-3zM40 229h3v1h-3zM46 229h3v1h-3zM52 229h3v1h-3zM58 229h3v1h-3zM64 229h3v1h-3zM70 229h3v1h-3zM76 229h3v1h-3zM82 229h3v1h-3zM88 229h3v1h-3zM94 229h3v1h-3zM100 229h3v1h-3zM106 229h3v1h-3zM112 229h3v1h-3zM118 229h3v1h-3zM124 229h3v1h-3zM130 229h3v1h-3zM136 229h3v1h-3zM142 229h3v1h-3zM148 229h3v1h-3zM154 229h3v1h-3zM160 229h3v1h-3zM166 229h3v1h-3zM172 229h3v1h-3zM178 229h3v1h-3zM184 229h3v1h-3zM190 229h3v1h-3zM196 229h3v1h-3zM202 229h3v1h-3zM208 229h3v1h-3zM214 229h3v1h-3zM220 229h3v1h-3zM226 229h3v1h-3zM232 229h3v1h-3zM238 229h3v1h-3zM244 229h3v1h-3zM250 229h3v1h-3zM256 229h3v1h-3zM262 229h3v1h-3zM268 229h3v1h-3zM274 229h3v1h-3zM280 229h3v1h-3zM286 229h3v1h-3zM292 229h3v1h-3zM298 229h3v1h-3zM304 229h3v1h-3zM310 229h3v1h-3zM316 229h3v1h-3zM322 229h3v1h-3zM328 229h3v1h-3zM334 229h3v1h-3zM340 229h3v1h-3zM346 229h3v1h-3zM352 229h3v1h-3zM358 229h3v1h-3zM364 229h3v1h-3zM370 229h3v1h-3zM376 229h3v1h-3zM382 229h3v1h-3zM388 229h3v1h-3zM394 229h3v1h-3zM400 229h3v1h-3zM406 229h3v1h-3zM412 229h3v1h-3zM418 229h3v1h-3zM424 229h3v1h-3zM430 229h3v1h-3zM436 229h3v1h-3zM442 229h3v1h-3zM448 229h3v1h-3zM454 229h3v1h-3zM460 229h3v1h-3zM466 229h3v1h-3zM472 229h3v1h-3zM478 229h3v1h-3zM484 229h3v1h-3zM490 229h3v1h-3zM496 229h3v1h-3zM502 229h3v1h-3zM508 229h3v1h-3zM514 229h3v1h-3zM520 229h3v1h-3zM526 229h3v1h-3zM532 229h3v1h-3zM538 229h3v1h-3zM544 229h3v1h-3zM550 229h3v1h-3zM556 229h3v1h-3zM562 229h3v1h-3zM568 229h3v1h-3zM574 229h3v1h-3zM580 229h3v1h-3zM586 229h3v1h-3zM592 229h3v1h-3zM598 229h3v1h-3zM604 229h3v1h-3zM610 229h3v1h-3zM616 229h3v1h-3zM622 229h3v1h-3zM628 229h3v1h-3zM634 229h3v1h-3zM640 229h3v1h-3zM646 229h3v1h-3zM652 229h3v1h-3zM658 229h3v1h-3zM664 229h3v1h-3zM670 229h3v1h-3zM676 229h3v1h-3zM682 229h3v1h-3zM688 229h3v1h-3zM694 229h3v1h-3zM700 229h3v1h-3zM706 229h3v1h-3zM712 229h3v1h-3zM718 229h3v1h-3zM724 229h3v1h-3zM730 229h3v1h-3zM736 229h3v1h-3zM742 229h3v1h-3zM748 229h3v1h-3zM754 229h3v1h-3zM760 229h3v1h-3zM766 229h3v1h-3zM772 229h3v1h-3zM778 229h3v1h-3zM784 229h3v1h-3zM790 229h3v1h-3zM796 229h3v1h-3zM802 229h3v1h-3zM808 229h3v1h-3zM814 229h3v1h-3zM820 229h3v1h-3zM826 229h3v1h-3zM832 229h3v1h-3zM838 229h3v1h-3zM844 229h3v1h-3zM850 229h3v1h-3zM856 229h3v1h-3zM862 229h3v1h-3zM868 229h3v1h-3zM874 229h3v1h-3zM880 229h3v1h-3zM886 229h3v1h-3zM892 229h3v1h-3zM898 229h3v1h-3zM904 229h3v1h-3zM910 229h3v1h-3zM916 229h3v1h-3zM922 229h3v1h-3zM928 229h3v1h-3zM934 229h3v1h-3zM940 229h3v1h-3zM946 229h3v1h-3zM952 229h3v1h-3zM958 229h3v1h-3zM964 229h3v1h-3zM970 229h3v1h-3zM976 229h3v1h-3zM982 229h3v1h-3zM988 229h3v1h-3zM994 229h3v1h-3zM1000 229h3v1h-3zM1006 229h3v1h-3zM1012 229h3v1h-3zM1018 229h3v1h-3zM1024 229h3v1h-3zM1030 229h3v1h-3zM1036 229h3v1h-3zM1042 229h3v1h-3zM1048 229h3v1h-3zM1054 229h3v1h-3zM1060 229h3v1h-3zM1066 229h3v1h-3zM1072 229h3v1h-3zM1078 229h3v1h-3zM1084 229h3v1h-3zM1090 229h3v1h-3zM1096 229h3v1h-3zM1102 229h3v1h-3zM1108 229h3v1h-3zM1114 229h3v1h-3zM1120 229h3v1h-3zM1126 229h3v1h-3zM1132 229h3v1h-3zM1138 229h3v1h-3zM1144 229h3v1h-3zM1150 229h3v1h-3zM1156 229h3v1h-3zM1162 229h3v1h-3zM1168 229h3v1h-3zM1174 229h3v1h-3zM1180 229h3v1h-3zM1186 229h3v1h-3zM1192 229h3v1h-3zM1198 229h3v1h-3zM1204 229h3v1h-3zM1210 229h3v1h-3zM1216 229h3v1h-3zM1222 229h3v1h-3zM1228 229h3v1h-3z" fill="#778899"/>
<path d="M4 261h3v1h-3zM10 261h3v1h-3zM16 261h3v1h-3zM22 261h3v1h-3zM28 261h3v1h-3zM34 261h3v1h-3zM40 261h3v1h-3zM46 261h3v1h-3zM52 261h3v1h-3zM58 261h3v1h-3zM64 261h3v1h-3zM70 261h3v1h-3zM76 261h3v1h-3zM82 261h3v1h-3zM88 261h3v1h-3zM94 261h3v1h-3zM100 261h3v1h-3zM106 261h3v1h-3zM112 261h3v1h-3zM118 261h3v1h-3zM124 261h3v1h-3zM130 261h3v1h-3zM136 261h3v1h-3zM142 261h3v1h-3zM148 261h3v1h-3zM154 261h3v1h-3zM160 261h3v1h-3zM166 261h3v1h-3zM172 261h3v1h-3zM178 261h3v1h-3zM184 261h3v1h-3zM190 261h3v1h-3zM196 261h3v1h-3zM202 261h3v1h-3zM208 261h3v1h-3zM214 261h3v1h-3zM220 261h3v1h-3zM226 261h3v1h-3zM232 261h3v1h-3zM238 261h3v1h-3zM244 261h3v1h-3zM250 261h3v1h-3zM256 261h3v1h-3zM262 261h3v1h-3zM268 261h3v1h-3zM274 261h3v1h-3zM280 261h3v1h-3zM286 261h3v1h-3zM292 261h3v1h-3zM298 261h3v1h-3zM304 261h3v1h-3zM310 261h3v1h-3zM316 261h3v1h-3zM322 261h3v1h-3zM328 261h3v1h-3zM334 261h3v1h-3zM340 261h3v1h-3zM346 261h3v1h-3zM352 261h3v1h-3zM358 261h3v1h-3zM364 261h3v1h-3zM370 261h3v1h-3zM376 261h3v1h-3zM382 261h3v1h-3zM388 261h3v1h-3zM394 261h3v1h-3zM400 261h3v1h-3zM406 261h3v1h-3zM412 261h3v1h-3zM418 261h3v1h-3zM424 261h3v1h-3zM430 261h3v1h-3zM436 261h3v1h-3zM442 261h3v1h-3zM448 261h3v1h-3zM454 261h3v1h-3zM460 261h3v1h-3zM466 261h3v1h-3zM472 261h3v1h-3zM478 261h3v1h-3zM484 261h3v1h-3zM490 261h3v1h-3zM496 261h3v1h-3zM502 261h3v1h-3zM508 261h3v1h-3zM514 261h3v1h-3zM520 261h3v1h-3zM526 261h3v1h-3zM532 261h3v1h-3zM538 261h3v1h-3zM544 261h3v1h-3zM550 261h3v1h-3zM556 261h3v1h-3zM562 261h3v1h-3zM568 261h3v1h-3zM574 261h3v1h-3zM580 261h3v1h-3zM586 261h3v1h-3zM592 261h3v1h-3zM598 261h3v1h-3zM604 261h3v1h-3zM610 261h3v1h-3zM616 261h3v1h-3zM622 261h3v1h-3zM628 261h3v1h-3zM634 261h3v1h-3zM640 261h3v1h-3zM646 261h3v1h-3zM652 261h3v1h-3zM658 261h3v1h-3zM664 261h3v1h-3zM670 261h3v1h-3zM676 261h3v1h-3zM682 261h3v1h-3zM688 261h3v1h-3zM694 261h3v1h-3zM700 261h3v1h-3zM706 261h3v1h-3zM712 261h3v1h-3zM718 261h3v1h-3zM724 261h3v1h-3zM730 261h3v1h-3zM736 261h3v1h-3zM742 261h3v1h-3zM748 261h3v1h-3zM754 261h3v1h-3zM760 261h3v1h-3zM766 261h3v1h-3zM772 261h3v1h-3zM778 261h3v1h-3zM784 261h3v1h-3zM790 261h3v1h-3zM796 261h3v1h-3zM802 261h3v1h-3zM808 261h3v1h-3zM814 261h3v1h-3zM820 261h3v1h-3zM826 261h3v1h-3zM832 261h3v1h-3zM838 261h3v1h-3zM844 261h3v1h-3zM850 261h3v1h-3zM856 261h3v1h-3zM862 261h3v1h-3zM868 261h3v1h-3zM874 261h3v1h-3zM880 261h3v1h-3zM886 261h3v1h-3zM892 261h3v1h-3zM898 261h3v1h-3zM904 261h3v1h-3zM910 261h3v1h-3zM916 261h3v1h-3zM922 261h3v1h-3zM928 261h3v1h-3zM934 261h3v1h-3zM940 261h3v1h-3zM946 261h3v1h-3zM952 261h3v1h-3zM958 261h3v1h-3zM964 261h3v1h-3zM970 261h3v1h-3zM976 261h3v1h-3zM982 261h3v1h-3zM988 261h3v1h-3zM994 261h3v1h-3zM1000 261h3v1h-3zM1006 261h3v1h-3zM1012 261h3v1h-3zM1018 261h3v1h-3zM1024 261h3v1h-3zM1030 261h3v1h-3zM1036 261h3v1h-3zM1042 261h3v1h-3zM1048 261h3v1h-3zM1054 261h3v1h-3zM1060 261h3v1h-3zM1066 261h3v1h-3zM1072 261h3v1h-3zM1078 261h3v1h-3zM1084 261h3v1h-3zM1090 261h3v1h-3zM1096 261h3v1h-3zM1102 261h3v1h-3zM1108 261h3v1h-3zM1114 261h3v1h-3zM1120 261h3v1h-3zM1126 261h3v1h-3zM1132 261h3v1h-3zM1138 261h3v1h-3zM1144 261h3v1h-3zM1150 261h3v1h-3zM1156 261h3v1h-3zM1162 261h3v1h-3zM1168 261h3v1h-3zM1174 261h3v1h-3zM1180 261h3v1h-3zM1186 261h3v1h-3zM1192 261h3v1h-3zM1198 261h3v1h-3zM1204 261h3v1h-3zM1210 261h3v1h-3zM1216 261h3v1h-3zM1222 261h3v1h-3zM1228 261h3v1h-3z" fill="#778899"/>
<path d="M4 293h3v1h-3zM10 293h3v1h-3zM16 293h3v1h-3zM22 293h3v1h-3zM28 293h3v1h-3zM34 293h3v1h-3zM40 293h3v1h-3zM46 293h3v1h-3zM52 293h3v1h-3zM58 293h3v1h-3zM64 293h3v1h-3zM70 293h3v1h-3zM76 293h3v1h-3zM82 293h3v1h-3zM88 293h3v1h-3zM94 293h3v1h-3zM100 293h3v1h-3zM106 293h3v1h-3zM112 293h3v1h-3zM118 293h3v1h-3zM124 293h3v1h-3zM130 293h3v1h-3zM136 293h3v1h-3zM142 293h3v1h-3zM148 293h3v1h-3zM154 293h3v1h-3zM160 293h3v1h-3zM166 293h3v1h-3zM172 293h3v1h-3zM178 293h3v1h-3zM184 293h3v1h-3zM190 293h3v1h-3zM196 293h3v1h-3zM202 293h3v1h-3zM208 293h3v1h-3zM214 293h3v1h-3zM220 293h3v1h-3zM226 293h3v1h-3zM232 293h3v1h-3zM238 293h3v1h-3zM244 293h3v1h-3zM250 293h3v1h-3zM256 293h3v1h-3zM262 293h3v1h-3zM268 293h3v1h-3zM274 293h3v1h-3zM280 293h3v1h-3zM286 293h3v1h-3zM292 293h3v1h-3zM298 293h3v1h-3zM304 293h3v1h-3zM310 293h3v1h-3zM316 293h3v1h-3zM322 293h3v1h-3zM328 293h3v1h-3zM334 293h3v1h-3zM340 293h3v1h-3zM346 293h3v1h-3zM352 293h3v1h-3zM358 293h3v1h-3zM364 293h3v1h-3zM370 293h3v1h-3zM376 293h3v1h-3zM382 293h3v1h-3zM388 293h3v1h-3zM394 293h3v1h-3zM400 293h3v1h-3zM406 293h3v1h-3zM412 293h3v1h-3zM418 293h3v1h-3zM424 293h3v1h-3zM430 293h3v1h-3zM436 293h3v1h-3zM442 293h3v1h-3zM448 293h3v1h-3zM454 293h3v1h-3zM460 293h3v1h-3zM466 293h3v1h-3zM472 293h3v1h-3zM478 293h3v1h-3zM484 293h3v1h-3zM490 293h3v1h-3zM496 293h3v1h-3zM502 293h3v1h-3zM508 293h3v1h-3zM514 293h3v1h-3zM520 293h3v1h-3zM526 293h3v1h-3zM532 293h3v1h-3zM538 293h3v1h-3zM544 293h3v1h-3zM550 293h3v1h-3zM556 293h3v1h-3zM562 293h3v1h-3zM568 293h3v1h-3zM574 293h3v1h-3zM580 293h3v1h-3zM586 293h3v1h-3zM592 293h3v1h-3zM598 293h3v1h-3zM604 293h3v1h-3zM610 293h3v1h-3zM616 293h3v1h-3zM622 293h3v1h-3zM628 293h3v1h-3zM634 293h3v1h-3zM640 293h3v1h-3zM646 293h3v1h-3zM652 293h3v1h-3zM658 293h3v1h-3zM664 293h3v1h-3zM670 293h3v1h-3zM676 293h3v1h-3zM682 293h3v1h-3zM688 293h3v1h-3zM694 293h3v1h-3zM700 293h3v1h-3zM706 293h3v1h-3zM712 293h3v1h-3zM718 293h3v1h-3zM724 293h3v1h-3zM730 293h3v1h-3zM736 293h3v1h-3zM742 293h3v1h-3zM748 293h3v1h-3zM754 293h3v1h-3zM760 293h3v1h-3zM766 293h3v1h-3zM772 293h3v1h-3zM778 293h3v1h-3zM784 293h3v1h-3zM790 293h3v1h-3zM796 293h3v1h-3zM802 293h3v1h-3zM808 293h3v1h-3zM814 293h3v1h-3zM820 293h3v1h-3zM826 293h3v1h-3zM832 293h3v1h-3zM838 293h3v1h-3zM844 293h3v1h-3zM850 293h3v1h-3zM856 293h3v1h-3zM862 293h3v1h-3zM868 293h3v1h-3zM874 293h3v1h-3zM880 293h3v1h-3zM886 293h3v1h-3zM892 293h3v1h-3zM898 293h3v1h-3zM904 293h3v1h-3zM910 293h3v1h-3zM916 293h3v1h-3zM922 293h3v1h-3zM928 293h3v1h-3zM934 293h3v1h-3zM940 293h3v1h-3zM946 293h3v1h-3zM952 293h3v1h-3zM958 293h3v1h-3zM964 293h3v1h-3zM970 293h3v1h-3zM976 293h3v1h-3zM982 293h3v1h-3zM988 293h3v1h-3zM994 293h3v1h-3zM1000 293h3v1h-3zM1006 293h3v1h-3zM1012 293h3v1h-3zM1018 293h3v1h-3zM1024 293h3v1h-3zM1030 293h3v1h-3zM1036 293h3v1h-3zM1042 293h3v1h-3zM1048 293h3v1h-3zM1054 293h3v1h-3zM1060 293h3v1h-3zM1066 293h3v1h-3zM1072 293h3v1h-3zM1078 293h3v1h-3zM1084 293h3v1h-3zM1090 293h3v1h-3zM1096 293h3v1h-3zM1102 293h3v1h-3zM1108 293h3v1h-3zM1114 293h3v1h-3zM1120 293h3v1h-3zM1126 293h3v1h-3zM1132 293h3v1h-3zM1138 293h3v1h-3zM1144 293h3v1h-3zM1150 293h3v1h-3zM1156 293h3v1h-3zM1162 293h3v1h-3zM1168 293h3v1h-3zM1174 293h3v1h-3zM1180 293h3v1h-3zM1186 293h3v1h-3zM1192 293h3v1h-3zM1198 293h3v1h-3zM1204 293h3v1h-3zM1210 293h3v1h-3zM1216 293h3v1h-3zM1222 293h3v1h-3zM1228 293h3v1h-3z" fill="#778899"/>
<path d="M4 325h3v1h-3zM10 325h3v1h-3zM16 325h3v1h-3zM22 325h3v1h-3zM28 325h3v1h-3zM34 325h3v1h-3zM40 325h3v1h-3zM46 325h3v1h-3zM52 325h3v1h-3zM58 325h3v1h-3zM64 325h3v1h-3zM70 325h3v1h-3zM76 325h3v1h-3zM82 325h3v1h-3zM88 325h3v1h-3zM94 325h3v1h-3zM100 325h3v1h-3zM106 325h3v1h-3zM112 325h3v1h-3zM118 325h3v1h-3zM124 325h3v1h-3zM130 325h3v1h-3zM136 325h3v1h-3zM142 325h3v1h-3zM148 325h3v1h-3zM154 325h3v1h-3zM160 325h3v1h-3zM166 325h3v1h-3zM172 325h3v1h-3zM178 325h3v1h-3zM184 325h3v1h-3zM190 325h3v1h-3zM196 325h3v1h-3zM202 325h3v1h-3zM208 325h3v1h-3zM214 325h3v1h-3zM220 325h3v1h-3zM226 325h3v1h-3zM232 325h3v1h-3zM238 325h3v1h-3zM244 325h3v1h-3zM250 325h3v1h-3zM256 325h3v1h-3zM262 325h3v1h-3zM268 325h3v1h-3zM274 325h3v1h-3zM280 325h3v1h-3zM286 325h3v1h-3zM292 325h3v1h-3zM298 325h3v1h-3zM304 325h3v1h-3zM310 325h3v1h-3zM316 325h3v1h-3zM322 325h3v1h-3zM328 325h3v1h-3zM334 325h3v1h-3zM340 325h3v1h-3zM346 325h3v1h-3zM352 325h3v1h-3zM358 325h3v1h-3zM364 325h3v1h-3zM370 325h3v1h-3zM376 325h3v1h-3zM382 325h3v1h-3zM388 325h3v1h-3zM394 325h3v1h-3zM400 325h3v1h-3zM406 325h3v1h-3zM412 325h3v1h-3zM418 325h3v1h-3zM424 325h3v1h-3zM430 325h3v1h-3zM436 325h3v1h-3zM442 325h3v1h-3zM448 325h3v1h-3zM454 325h3v1h-3zM460 325h3v1h-3zM466 325h3v1h-3zM472 325h3v1h-3zM478 325h3v1h-3zM484 325h3v1h-3zM490 325h3v1h-3zM496 325h3v1h-3zM502 325h3v1h-3zM508 325h3v1h-3zM514 325h3v1h-3zM520 325h3v1h-3zM526 325h3v1h-3zM532 325h3v1h-3zM538 325h3v1h-3zM544 325h3v1h-3zM550 325h3v1h-3zM556 325h3v1h-3zM562 325h3v1h-3zM568 325h3v1h-3zM574 325h3v1h-3zM580 325h3v1h-3zM586 325h3v1h-3zM592 325h3v1h-3zM598 325h3v1h-3zM604 325h3v1h-3zM610 325h3v1h-3zM616 325h3v1h-3zM622 325h3v1h-3zM628 325h3v1h-3zM634 325h3v1h-3zM640 325h3v1h-3zM646 325h3v1h-3zM652 325h3v1h-3zM658 325h3v1h-3zM664 325h3v1h-3zM670 325h3v1h-3zM676 325h3v1h-3zM682 325h3v1h-3zM688 325h3v1h-3zM694 325h3v1h-3zM700 325h3v1h-3zM706 325h3v1h-3zM712 325h3v1h-3zM718 325h3v1h-3zM724 325h3v1h-3zM730 325h3v1h-3zM736 325h3v1h-3zM742 325h3v1h-3zM748 325h3v1h-3zM754 325h3v1h-3zM760 325h3v1h-3zM766 325h3v1h-3zM772 325h3v1h-3zM778 325h3v1h-3zM784 325h3v1h-3zM790 325h3v1h-3zM796 325h3v1h-3zM802 325h3v1h-3zM808 325h3v1h-3zM814 325h3v1h-3zM820 325h3v1h-3zM826 325h3v1h-3zM832 325h3v1h-3zM838 325h3v1h-3zM844 325h3v1h-3zM850 325h3v1h-3zM856 325h3v1h-3zM862 325h3v1h-3zM868 325h3v1h-3zM874 325h3v1h-3zM880 325h3v1h-3zM886 325h3v1h-3zM892 325h3v1h-3zM898 325h3v1h-3zM904 325h3v1h-3zM910 325h3v1h-3zM916 325h3v1h-3zM922 325h3v1h-3zM928 325h3v1h-3zM934 325h3v1h-3zM940 325h3v1h-3zM946 325h3v1h-3zM952 325h3v1h-3zM958 325h3v1h-3zM964 325h3v1h-3zM970 325h3v1h-3zM976 325h3v1h-3zM982 325h3v1h-3zM988 325h3v1h-3zM994 325h3v1h-3zM1000 325h3v1h-3zM1006 325h3v1h-3zM1012 325h3v1h-3zM1018 325h3v1h-3zM1024 325h3v1h-3zM1030 325h3v1h-3zM1036 325h3v1h-3zM1042 325h3v1h-3zM1048 325h3v1h-3zM1054 325h3v1h-3zM1060 325h3v1h-3zM1066 325h3v1h-3zM1072 325h3v1h-3zM1078 325h3v1h-3zM1084 325h3v1h-3zM1090 325h3v1h-3zM1096 325h3v1h-3zM1102 325h3v1h-3zM1108 325h3v1h-3zM1114 325h3v1h-3zM1120 325h3v1h-3zM1126 325h3v1h-3zM1132 325h3v1h-3zM1138 325h3v1h-3zM1144 325h3v1h-3zM1150 325h3v1h-3zM1156 325h3v1h-3zM1162 325h3v1h-3zM1168 325h3v1h-3zM1174 325h3v1h-3zM1180 325h3v1h-3zM1186 325h3v1h-3zM1192 325h3v1h-3zM1198 325h3v1h-3zM1204 325h3v1h-3zM1210 325h3v1h-3zM1216 325h3v1h-3zM1222 325h3v1h-3zM1228 325h3v1h-3z" fill="#778899"/>
<path d="M4 357h3v1h-3zM10 357h3v1h-3zM16 357h3v1h-3zM22 357h3v1h-3zM28 357h3v1h-3zM34 357h3v1h-3zM40 357h3v1h-3zM46 357h3v1h-3zM52 357h3v1h-3zM58 357h3v1h-3zM64 357h3v1h-3zM70 357h3v1h-3zM76 357h3v1h-3zM82 357h3v1h-3zM88 357h3v1h-3zM94 357h3v1h-3zM100 357h3v1h-3zM106 357h3v1h-3zM112 357h3v1h-3zM118 357h3v1h-3zM124 357h3v1h-3zM130 357h3v1h-3zM136 357h3v1h-3zM142 357h3v1h-3zM148 357h3v1h-3zM154 357h3v1h-3zM160 357h3v1h-3zM166 357h3v1h-3zM172 357h3v1h-3zM178 357h3v1h-3zM184 357h3v1h-3zM190 357h3v1h-3zM196 357h3v1h-3zM202 357h3v1h-3zM208 357h3v1h-3zM214 357h3v1h-3zM220 357h3v1h-3zM226 357h3v1h-3zM232 357h3v1h-3zM238 357h3v1h-3zM244 357h3v1h-3zM250 357h3v1h-3zM256 357h3v1h-3zM262 357h3v1h-3zM268 357h3v1h-3zM274 357h3v1h-3zM280 357h3v1h-3zM286 357h3v1h-3zM292 357h3v1h-3zM298 357h3v1h-3zM304 357h3v1h-3zM310 357h3v1h-3zM316 357h3v1h-3zM322 357h3v1h-3zM328 357h3v1h-3zM334 357h3v1h-3zM340 357h3v1h-3zM346 357h3v1h-3zM352 357h3v1h-3zM358 357h3v1h-3zM364 357h3v1h-3zM370 357h3v1h-3zM376 357h3v1h-3zM382 357h3v1h-3zM388 357h3v1h-3zM394 357h3v1h-3zM400 357h3v1h-3zM406 357h3v1h-3zM412 357h3v1h-3zM418 357h3v1h-3zM424 357h3v1h-3zM430 357h3v1h-3zM436 357h3v1h-3zM442 357h3v1h-3zM448 357h3v1h-3zM454 357h3v1h-3zM460 357h3v1h-3zM466 357h3v1h-3zM472 357h3v1h-3zM478 357h3v1h-3zM484 357h3v1h-3zM490 357h3v1h-3zM496 357h3v1h-3zM502 357h3v1h-3zM508 357h3v1h-3zM514 357h3v1h-3zM520 357h3v1h-3zM526 357h3v1h-3zM532 357h3v1h-3zM538 357h3v1h-3zM544 357h3v1h-3zM550 357h3v1h-3zM556 357h3v1h-3zM562 357h3v1h-3zM568 357h3v1h-3zM574 357h3v1h-3zM580 357h3v1h-3zM586 357h3v1h-3zM592 357h3v1h-3zM598 357h3v1h-3zM604 357h3v1h-3zM610 357h3v1h-3zM616 357h3v1h-3zM622 357h3v1h-3zM628 357h3v1h-3zM634 357h3v1h-3zM640 357h3v1h-3zM646 357h3v1h-3zM652 357h3v1h-3zM658 357h3v1h-3zM664 357h3v1h-3zM670 357h3v1h-3zM676 357h3v1h-3zM682 357h3v1h-3zM688 357h3v1h-3zM694 357h3v1h-3zM700 357h3v1h-3zM706 357h3v1h-3zM712 357h3v1h-3zM718 357h3v1h-3zM724 357h3v1h-3zM730 357h3v1h-3zM736 357h3v1h-3zM742 357h3v1h-3zM748 357h3v1h-3zM754 357h3v1h-3zM760 357h3v1h-3zM766 357h3v1h-3zM772 357h3v1h-3zM778 357h3v1h-3zM784 357h3v1h-3zM790 357h3v1h-3zM796 357h3v1h-3zM802 357h3v1h-3zM808 357h3v1h-3zM814 357h3v1h-3zM820 357h3v1h-3zM826 357h3v1h-3zM832 357h3v1h-3zM838 357h3v1h-3zM844 357h3v1h-3zM850 357h3v1h-3zM856 357h3v1h-3zM862 357h3v1h-3zM868 357h3v1h-3zM874 357h3v1h-3zM880 357h3v1h-3zM886 357h3v1h-3zM892 357h3v1h-3zM898 357h3v1h-3zM904 357h3v1h-3zM910 357h3v1h-3zM916 357h3v1h-3zM922 357h3v1h-3zM928 357h3v1h-3zM934 357h3v1h-3zM940 357h3v1h-3zM946 357h3v1h-3zM952 357h3v1h-3zM958 357h3v1h-3zM964 357h3v1h-3zM970 357h3v1h-3zM976 357h3v1h-3zM982 357h3v1h-3zM988 357h3v1h-3zM994 357h3v1h-3zM1000 357h3v1h-3zM1006 357h3v1h-3zM1012 357h3v1h-3zM1018 357h3v1h-3zM1024 357h3v1h-3zM1030 357h3v1h-3zM1036 357h3v1h-3zM1042 357h3v1h-3zM1048 357h3v1h-3zM1054 357h3v1h-3zM1060 357h3v1h-3zM1066 357h3v1h-3zM1072 357h3v1h-3zM1078 357h3v1h-3zM1084 357h3v1h-3zM1090 357h3v1h-3zM1096 357h3v1h-3zM1102 357h3v1h-3zM1108 357h3v1h-3zM1114 357h3v1h-3zM1120 357h3v1h-3zM1126 357h3v1h-3zM1132 357h3v1h-3zM1138 357h3v1h-3zM1144 357h3v1h-3zM1150 357h3v1h-3zM1156 357h3v1h-3zM1162 357h3v1h-3zM1168 357h3v1h-3zM1174 357h3v1h-3zM1180 357h3v1h-3zM1186 357h3v1h-3zM1192 357h3v1h-3zM1198 357h3v1h-3zM1204 357h3v1h-3zM1210 357h3v1h-3zM1216 357h3v1h-3zM1222 357h3v1h-3zM1228 357h3v1h-3z" fill="#778899"/>
<path d="M4 389h3v1h-3zM10 389h3v1h-3zM16 389h3v1h-3zM22 389h3v1h-3zM28 389h3v1h-3zM34 389h3v1h-3zM40 389h3v1h-3zM46 389h3v1h-3zM52 389h3v1h-3zM58 389h3v1h-3zM64 389h3v1h-3zM70 389h3v1h-3zM76 389h3v1h-3zM82 389h3v1h-3zM88 389h3v1h-3zM94 389h3v1h-3zM100 389h3v1h-3zM106 389h3v1h-3zM112 389h3v1h-3zM118 389h3v1h-3zM124 389h3v1h-3zM130 389h3v1h-3zM136 389h3v1h-3zM142 389h3v1h-3zM148 389h3v1h-3zM154 389h3v1h-3zM160 389h3v1h-3zM166 389h3v1h-3zM172 389h3v1h-3zM178 389h3v1h-3zM184 389h3v1h-3zM190 389h3v1h-3zM196 389h3v1h-3zM202 389h3v1h-3zM208 389h3v1h-3zM214 389h3v1h-3zM220 389h3v1h-3zM226 389h3v1h-3zM232 389h3v1h-3zM238 389h3v1h-3zM244 389h3v1h-3zM250 389h3v1h-3zM256 389h3v1h-3zM262 389h3v1h-3zM268 389h3v1h-3zM274 389h3v1h-3zM280 389h3v1h-3zM286 389h3v1h-3zM292 389h3v1h-3zM298 389h3v1h-3zM304 389h3v1h-3zM310 389h3v1h-3zM316 389h3v1h-3zM322 389h3v1h-3zM328 389h3v1h-3zM334 389h3v1h-3zM340 389h3v1h-3zM346 389h3v1h-3zM352 389h3v1h-3zM358 389h3v1h-3zM364 389h3v1h-3zM370 389h3v1h-3zM376 389h3v1h-3zM382 389h3v1h-3zM388 389h3v1h-3zM394 389h3v1h-3zM400 389h3v1h-3zM406 389h3v1h-3zM412 389h3v1h-3zM418 389h3v1h-3zM424 389h3v1h-3zM430 389h3v1h-3zM436 389h3v1h-3zM442 389h3v1h-3zM448 389h3v1h-3zM454 389h3v1h-3zM460 389h3v1h-3zM466 389h3v1h-3zM472 389h3v1h-3zM478 389h3v1h-3zM484 389h3v1h-3zM490 389h3v1h-3zM496 389h3v1h-3zM502 389h3v1h-3zM508 389h3v1h-3zM514 389h3v1h-3zM520 389h3v1h-3zM526 389h3v1h-3zM532 389h3v1h-3zM538 389h3v1h-3zM544 389h3v1h-3zM550 389h3v1h-3zM556 389h3v1h-3zM562 389h3v1h-3zM568 389h3v1h-3zM574 389h3v1h-3zM580 389h3v1h-3zM586 389h3v1h-3zM592 389h3v1h-3zM598 389h3v1h-3zM604 389h3v1h-3zM610 389h3v1h-3zM616 389h3v1h-3zM622 389h3v1h-3zM628 389h3v1h-3zM634 389h3v1h-3zM640 389h3v1h-3zM646 389h3v1h-3zM652 389h3v1h-3zM658 389h3v1h-3zM664 389h3v1h-3zM670 389h3v1h-3zM676 389h3v1h-3zM682 389h3v1h-3zM688 389h3v1h-3zM694 389h3v1h-3zM700 389h3v1h-3zM706 389h3v1h-3zM712 389h3v1h-3zM718 389h3v1h-3zM724 389h3v1h-3zM730 389h3v1h-3zM736 389h3v1h-3zM742 389h3v1h-3zM748 389h3v1h-3zM754 389h3v1h-3zM760 389h3v1h-3zM766 389h3v1h-3zM772 389h3v1h-3zM778 389h3v1h-3zM784 389h3v1h-3zM790 389h3v1h-3zM796 389h3v1h-3zM802 389h3v1h-3zM808 389h3v1h-3zM814 389h3v1h-3zM820 389h3v1h-3zM826 389h3v1h-3zM832 389h3v1h-3zM838 389h3v1h-3zM844 389h3v1h-3zM850 389h3v1h-3zM856 389h3v1h-3zM862 389h3v1h-3zM868 389h3v1h-3zM874 389h3v1h-3zM880 389h3v1h-3zM886 389h3v1h-3zM892 389h3v1h-3zM898 389h3v1h-3zM904 389h3v1h-3zM910 389h3v1h-3zM916 389h3v1h-3zM922 389h3v1h-3zM928 389h3v1h-3zM934 389h3v1h-3zM940 389h3v1h-3zM946 389h3v1h-3zM952 389h3v1h-3zM958 389h3v1h-3zM964 389h3v1h-3zM970 389h3v1h-3zM976 389h3v1h-3zM982 389h3v1h-3zM988 389h3v1h-3zM994 389h3v1h-3zM1000 389h3v1h-3zM1006 389h3v1h-3zM1012 389h3v1h-3zM1018 389h3v1h-3zM1024 389h3v1h-3zM1030 389h3v1h-3zM1036 389h3v1h-3zM1042 389h3v1h-3zM1048 389h3v1h-3zM1054 389h3v1h-3zM1060 389h3v1h-3zM1066 389h3v1h-3zM1072 389h3v1h-3zM1078 389h3v1h-3zM1084 389h3v1h-3zM1090 389h3v1h-3zM1096 389h3v1h-3zM1102 389h3v1h-3zM1108 389h3v1h-3zM1114 389h3v1h-3zM1120 389h3v1h-3zM1126 389h3v1h-3zM1132 389h3v1h-3zM1138 389h3v1h-3zM1144 389h3v1h-3zM1150 389h3v1h-3zM1156 389h3v1h-3zM1162 389h3v1h-3zM1168 389h3v1h-3zM1174 389h3v1h-3zM1180 389h3v1h-3zM1186 389h3v1h-3zM1192 389h3v1h-3zM1198 389h3v1h-3zM1204 389h3v1h-3zM1210 389h3v1h-3zM1216 389h3v1h-3zM1222 389h3v1h-3zM1228 389h3v1h-3z" fill="#778899"/>
<rect x="3" y="40" width="1231" height="1" fill="#778899"/>
</g>
<path d="M4 433h3v1h-3zM10 433h3v1h-3zM16 433h3v1h-3zM22 433h3v1h-3zM28 433h3v1h-3zM34 433h3v1h-3zM40 433h3v1h-3zM46 433h3v1h-3zM52 433h3v1h-3zM58 433h3v1h-3zM64 433h3v1h-3zM70 433h3v1h-3zM76 433h3v1h-3zM82 433h3v1h-3zM88 433h3v1h-3zM94 433h3v1h-3zM100 433h3v1h-3zM106 433h3v1h-3zM112 433h3v1h-3zM118 433h3v1h-3zM124 433h3v1h-3zM130 433h3v1h-3zM136 433h3v1h-3zM142 433h3v1h-3zM148 433h3v1h-3zM154 433h3v1h-3zM160 433h3v1h-3zM166 433h3v1h-3zM172 433h3v1h-3zM178 433h3v1h-3zM184 433h3v1h-3zM190 433h3v1h-3zM196 433h3v1h-3zM202 433h3v1h-3zM208 433h3v1h-3zM214 433h3v1h-3zM220 433h3v1h-3zM226 433h3v1h-3zM232 433h3v1h-3zM238 433h3v1h-3zM244 433h3v1h-3zM250 433h3v1h-3zM256 433h3v1h-3zM262 433h3v1h-3zM268 433h3v1h-3zM274 433h3v1h-3zM280 433h3v1h-3zM286 433h3v1h-3zM292 433h3v1h-3zM298 433h3v1h-3zM304 433h3v1h-3zM310 433h3v1h-3zM316 433h3v1h-3zM322 433h3v1h-3zM328 433h3v1h-3zM334 433h3v1h-3zM340 433h3v1h-3zM346 433h3v1h-3zM352 433h3v1h-3zM358 433h3v1h-3zM364 433h3v1h-3zM370 433h3v1h-3zM376 433h3v1h-3zM382 433h3v1h-3zM388 433h3v1h-3zM394 433h3v1h-3zM400 433h3v1h-3zM406 433h3v1h-3zM412 433h3v1h-3zM418 433h3v1h-3zM424 433h3v1h-3zM430 433h3v1h-3zM436 433h3v1h-3zM442 433h3v1h-3zM448 433h3v1h-3zM454 433h3v1h-3zM460 433h3v1h-3zM466 433h3v1h-3zM472 433h3v1h-3zM478 433h3v1h-3zM484 433h3v1h-3zM490 433h3v1h-3zM496 433h3v1h-3zM502 433h3v1h-3zM508 433h3v1h-3zM514 433h3v1h-3zM520 433h3v1h-3zM526 433h3v1h-3zM532 433h3v1h-3zM538 433h3v1h-3zM544 433h3v1h-3zM550 433h3v1h-3zM556 433h3v1h-3zM562 433h3v1h-3zM568 433h3v1h-3zM574 433h3v1h-3zM580 433h3v1h-3zM586 433h3v1h-3zM592 433h3v1h-3zM598 433h3v1h-3zM604 433h3v1h-3zM610 433h3v1h-3zM616 433h3v1h-3zM622 433h3v1h-3zM628 433h3v1h-3zM634 433h3v1h-3zM640 433h3v1h-3zM646 433h3v1h-3zM652 433h3v1h-3zM658 433h3v1h-3zM664 433h3v1h-3zM670 433h3v1h-3zM676 433h3v1h-3zM682 433h3v1h-3zM688 433h3v1h-3zM694 433h3v1h-3zM700 433h3v1h-3zM706 433h3v1h-3zM712 433h3v1h-3zM718 433h3v1h-3zM724 433h3v1h-3zM730 433h3v1h-3zM736 433h3v1h-3zM742 433h3v1h-3zM748 433h3v1h-3zM754 433h3v1h-3zM760 433h3v1h-3zM766 433h3v1h-3zM772 433h3v1h-3zM778 433h3v1h-3zM784 433h3v1h-3zM790 433h3v1h-3zM796 433h3v1h-3zM802 433h3v1h-3zM808 433h3v1h-3zM814 433h3v1h-3zM820 433h3v1h-3zM826 433h3v1h-3zM832 433h3v1h-3zM838 433h3v1h-3zM844 433h3v1h-3zM850 433h3v1h-3zM856 433h3v1h-3zM862 433h3v1h-3zM868 433h3v1h-3zM874 433h3v1h-3zM880 433h3v1h-3zM886 433h3v1h-3zM892 433h3v1h-3zM898 433h3v1h-3zM904 433h3v1h-3zM910 433h3v1h-3zM916 433h3v1h-3zM922 433h3v1h-3zM928 433h3v1h-3zM934 433h3v1h-3zM940 433h3v1h-3zM946 433h3v1h-3zM952 433h3v1h-3zM958 433h3v1h-3zM964 433h3v1h-3zM970 433h3v1h-3zM976 433h3v1h-3zM982 433h3v1h-3zM988 433h3v1h-3zM994 433h3v1h-3zM1000 433h3v1h-3zM1006 433h3v1h-3zM1012 433h3v1h-3zM1018 433h3v1h-3zM1024 433h3v1h-3zM1030 433h3v1h-3zM1036 433h3v1h-3zM1042 433h3v1h-3zM1048 433h3v1h-3zM1054 433h3v1h-3zM1060 433h3v1h-3zM1066 433h3v1h-3zM1072 433h3v1h-3zM1078 433h3v1h-3zM1084 433h3v1h-3zM1090 433h3v1h-3zM1096 433h3v1h-3zM1102 433h3v1h-3zM1108 433h3v1h-3zM1114 433h3v1h-3zM1120 433h3v1h-3zM1126 433h3v1h-3zM1132 433h3v1h-3zM1138 433h3v1h-3zM1144 433h3v1h-3zM1150 433h3v1h-3zM1156 433h3v1h-3zM1162 433h3v1h-3zM1168 433h3v1h-3zM1174 433h3v1h-3zM1180 433h3v1h-3zM1186 433h3v1h-3zM1192 433h3v1h-3zM1198 433h3v1h-3zM1204 433h3v1h-3zM1210 433h3v1h-3zM1216 433h3v1h-3zM1222 433h3v1h-3zM1228 433h3v1h-3z" fill="#c0c0c0"/>
<path d="M4 547h3v1h-3zM10 547h3v1h-3zM16 547h3v1h-3zM22 547h3v1h-3zM28 547h3v1h-3zM34 547h3v1h-3zM40 547h3v1h-3zM46 547h3v1h-3zM52 547h3v1h-3zM58 547h3v1h-3zM64 547h3v1h-3zM70 547h3v1h-3zM76 547h3v1h-3zM82 547h3v1h-3zM88 547h3v1h-3zM94 547h3v1h-3zM100 547h3v1h-3zM106 547h3v1h-3zM112 547h3v1h-3zM118 547h3v1h-3zM124 547h3v1h-3zM130 547h3v1h-3zM136 547h3v1h-3zM142 547h3v1h-3zM148 547h3v1h-3zM154 547h3v1h-3zM160 547h3v1h-3zM166 547h3v1h-3zM172 547h3v1h-3zM178 547h3v1h-3zM184 547h3v1h-3zM190 547h3v1h-3zM196 547h3v1h-3zM202 547h3v1h-3zM208 547h3v1h-3zM214 547h3v1h-3zM220 547h3v1h-3zM226 547h3v1h-3zM232 547h3v1h-3zM238 547h3v1h-3zM244 547h3v1h-3zM250 547h3v1h-3zM256 547h3v1h-3zM262 547h3v1h-3zM268 547h3v1h-3zM274 547h3v1h-3zM280 547h3v1h-3zM286 547h3v1h-3zM292 547h3v1h-3zM298 547h3v1h-3zM304 547h3v1h-3zM310 547h3v1h-3zM316 547h3v1h-3zM322 547h3v1h-3zM328 547h3v1h-3zM334 547h3v1h-3zM340 547h3v1h-3zM346 547h3v1h-3zM352 547h3v1h-3zM358 547h3v1h-3zM364 547h3v1h-3zM370 547h3v1h-3zM376 547h3v1h-3zM382 547h3v1h-3zM388 547h3v1h-3zM394 547h3v1h-3zM400 547h3v1h-3zM406 547h3v1h-3zM412 547h3v1h-3zM418 547h3v1h-3zM424 547h3v1h-3zM430 547h3v1h-3zM436 547h3v1h-3zM442 547h3v1h-3zM448 547h3v1h-3zM454 547h3v1h-3zM460 547h3v1h-3zM466 547h3v1h-3zM472 547h3v1h-3zM478 547h3v1h-3zM484 547h3v1h-3zM490 547h3v1h-3zM496 547h3v1h-3zM502 547h3v1h-3zM508 547h3v1h-3zM514 547h3v1h-3zM520 547h3v1h-3zM526 547h3v1h-3zM532 547h3v1h-3zM538 547h3v1h-3zM544 547h3v1h-3zM550 547h3v1h-3zM556 547h3v1h-3zM562 547h3v1h-3zM568 547h3v1h-3zM574 547h3v1h-3zM580 547h3v1h-3zM586 547h3v1h-3zM592 547h3v1h-3zM598 547h3v1h-3zM604 547h3v1h-3zM610 547h3v1h-3zM616 547h3v1h-3zM622 547h3v1h-3zM628 547h3v1h-3zM634 547h3v1h-3zM640 547h3v1h-3zM646 547h3v1h-3zM652 547h3v1h-3zM658 547h3v1h-3zM664 547h3v1h-3zM670 547h3v1h-3zM676 547h3v1h-3zM682 547h3v1h-3zM688 547h3v1h-3zM694 547h3v1h-3zM700 547h3v1h-3zM706 547h3v1h-3zM712 547h3v1h-3zM718 547h3v1h-3zM724 547h3v1h-3zM730 547h3v1h-3zM736 547h3v1h-3zM742 547h3v1h-3zM748 547h3v1h-3zM754 547h3v1h-3zM760 547h3v1h-3zM766 547h3v1h-3zM772 547h3v1h-3zM778 547h3v1h-3zM784 547h3v1h-3zM790 547h3v1h-3zM796 547h3v1h-3zM802 547h3v1h-3zM808 547h3v1h-3zM814 547h3v1h-3zM820 547h3v1h-3zM826 547h3v1h-3zM832 547h3v1h-3zM838 547h3v1h-3zM844 547h3v1h-3zM850 547h3v1h-3zM856 547h3v1h-3zM862 547h3v1h-3zM868 547h3v1h-3zM874 547h3v1h-3zM880 547h3v1h-3zM886 547h3v1h-3zM892 547h3v1h-3zM898 547h3v1h-3zM904 547h3v1h-3zM910 547h3v1h-3zM916 547h3v1h-3zM922 547h3v1h-3zM928 547h3v1h-3zM934 547h3v1h-3zM940 547h3v1h-3zM946 547h3v1h-3zM952 547h3v1h-3zM958 547h3v1h-3zM964 547h3v1h-3zM970 547h3v1h-3zM976 547h3v1h-3zM982 547h3v1h-3zM988 547h3v1h-3zM994 547h3v1h-3zM1000 547h3v1h-3zM1006 547h3v1h-3zM1012 547h3v1h-3zM1018 547h3v1h-3zM1024 547h3v1h-3zM1030 547h3v1h-3zM1036 547h3v1h-3zM1042 547h3v1h-3zM1048 547h3v1h-3zM1054 547h3v1h-3zM1060 547h3v1h-3zM1066 547h3v1h-3zM1072 547h3v1h-3zM1078 547h3v1h-3zM1084 547h3v1h-3zM1090 547h3v1h-3zM1096 547h3v1h-3zM1102 547h3v1h-3zM1108 547h3v1h-3zM1114 547h3v1h-3zM1120 547h3v1h-3zM1126 547h3v1h-3zM1132 547h3v1h-3zM1138 547h3v1h-3zM1144 547h3v1h-3zM1150 547h3v1h-3zM1156 547h3v1h-3zM1162 547h3v1h-3zM1168 547h3v1h-3zM1174 547h3v1h-3zM1180 547h3v1h-3zM1186 547h3v1h-3zM1192 547h3v1h-3zM1198 547h3v1h-3zM1204 547h3v1h-3zM1210 547h3v1h-3zM1216 547h3v1h-3zM1222 547h3v1h-3zM1228 547h3v1h-3z" fill="#c0c0c0"/>
<path d="M4 585h3v1h-3zM10 585h3v1h-3zM16 585h3v1h-3zM22 585h3v1h-3zM28 585h3v1h-3zM34 585h3v1h-3zM40 585h3v1h-3zM46 585h3v1h-3zM52 585h3v1h-3zM58 585h3v1h-3zM64 585h3v1h-3zM70 585h3v1h-3zM76 585h3v1h-3zM82 585h3v1h-3zM88 585h3v1h-3zM94 585h3v1h-3zM100 585h3v1h-3zM106 585h3v1h-3zM112 585h3v1h-3zM118 585h3v1h-3zM124 585h3v1h-3zM130 585h3v1h-3zM136 585h3v1h-3zM142 585h3v1h-3zM148 585h3v1h-3zM154 585h3v1h-3zM160 585h3v1h-3zM166 585h3v1h-3zM172 585h3v1h-3zM178 585h3v1h-3zM184 585h3v1h-3zM190 585h3v1h-3zM196 585h3v1h-3zM202 585h3v1h-3zM208 585h3v1h-3zM214 585h3v1h-3zM220 585h3v1h-3zM226 585h3v1h-3zM232 585h3v1h-3zM238 585h3v1h-3zM244 585h3v1h-3zM250 585h3v1h-3zM256 585h3v1h-3zM262 585h3v1h-3zM268 585h3v1h-3zM274 585h3v1h-3zM280 585h3v1h-3zM286 585h3v1h-3zM292 585h3v1h-3zM298 585h3v1h-3zM304 585h3v1h-3zM310 585h3v1h-3zM316 585h3v1h-3zM322 585h3v1h-3zM328 585h3v1h-3zM334 585h3v1h-3zM340 585h3v1h-3zM346 585h3v1h-3zM352 585h3v1h-3zM358 585h3v1h-3zM364 585h3v1h-3zM370 585h3v1h-3zM376 585h3v1h-3zM382 585h3v1h-3zM388 585h3v1h-3zM394 585h3v1h-3zM400 585h3v1h-3zM406 585h3v1h-3zM412 585h3v1h-3zM418 585h3v1h-3zM424 585h3v1h-3zM430 585h3v1h-3zM436 585h3v1h-3zM442 585h3v1h-3zM448 585h3v1h-3zM454 585h3v1h-3zM460 585h3v1h-3zM466 585h3v1h-3zM472 585h3v1h-3zM478 585h3v1h-3zM484 585h3v1h-3zM490 585h3v1h-3zM496 585h3v1h-3zM502 585h3v1h-3zM508 585h3v1h-3zM514 585h3v1h-3zM520 585h3v1h-3zM526 585h3v1h-3zM532 585h3v1h-3zM538 585h3v1h-3zM544 585h3v1h-3zM550 585h3v1h-3zM556 585h3v1h-3zM562 585h3v1h-3zM568 585h3v1h-3zM574 585h3v1h-3zM580 585h3v1h-3zM586 585h3v1h-3zM592 585h3v1h-3zM598 585h3v1h-3zM604 585h3v1h-3zM610 585h3v1h-3zM616 585h3v1h-3zM622 585h3v1h-3zM628 585h3v1h-3zM634 585h3v1h-3zM640 585h3v1h-3zM646 585h3v1h-3zM652 585h3v1h-3zM658 585h3v1h-3zM664 585h3v1h-3zM670 585h3v1h-3zM676 585h3v1h-3zM682 585h3v1h-3zM688 585h3v1h-3zM694 585h3v1h-3zM700 585h3v1h-3zM706 585h3v1h-3zM712 585h3v1h-3zM718 585h3v1h-3zM724 585h3v1h-3zM730 585h3v1h-3zM736 585h3v1h-3zM742 585h3v1h-3zM748 585h3v1h-3zM754 585h3v1h-3zM760 585h3v1h-3zM766 585h3v1h-3zM772 585h3v1h-3zM778 585h3v1h-3zM784 585h3v1h-3zM790 585h3v1h-3zM796 585h3v1h-3zM802 585h3v1h-3zM808 585h3v1h-3zM814 585h3v1h-3zM820 585h3v1h-3zM826 585h3v1h-3zM832 585h3v1h-3zM838 585h3v1h-3zM844 585h3v1h-3zM850 585h3v1h-3zM856 585h3v1h-3zM862 585h3v1h-3zM868 585h3v1h-3zM874 585h3v1h-3zM880 585h3v1h-3zM886 585h3v1h-3zM892 585h3v1h-3zM898 585h3v1h-3zM904 585h3v1h-3zM910 585h3v1h-3zM916 585h3v1h-3zM922 585h3v1h-3zM928 585h3v1h-3zM934 585h3v1h-3zM940 585h3v1h-3zM946 585h3v1h-3zM952 585h3v1h-3zM958 585h3v1h-3zM964 585h3v1h-3zM970 585h3v1h-3zM976 585h3v1h-3zM982 585h3v1h-3zM988 585h3v1h-3zM994 585h3v1h-3zM1000 585h3v1h-3zM1006 585h3v1h-3zM1012 585h3v1h-3zM1018 585h3v1h-3zM1024 585h3v1h-3zM1030 585h3v1h-3zM1036 585h3v1h-3zM1042 585h3v1h-3zM1048 585h3v1h-3zM1054 585h3v1h-3zM1060 585h3v1h-3zM1066 585h3v1h-3zM1072 585h3v1h-3zM1078 585h3v1h-3zM1084 585h3v1h-3zM1090 585h3v1h-3zM1096 585h3v1h-3zM1102 585h3v1h-3zM1108 585h3v1h-3zM1114 585h3v1h-3zM1120 585h3v1h-3zM1126 585h3v1h-3zM1132 585h3v1h-3zM1138 585h3v1h-3zM1144 585h3v1h-3zM1150 585h3v1h-3zM1156 585h3v1h-3zM1162 585h3v1h-3zM1168 585h3v1h-3zM1174 585h3v1h-3zM1180 585h3v1h-3zM1186 585h3v1h-3zM1192 585h3v1h-3zM1198 585h3v1h-3zM1204 585h3v1h-3zM1210 585h3v1h-3zM1216 585h3v1h-3zM1222 585h3v1h-3zM1228 585h3v1h-3z" fill="#c0c0c0"/>
<g clip-path="url(#mc)">
<rect x="3" y="288" width="1" height="51" fill="#00ff00"/>
<rect x="1" y="319" width="5" height="4" fill="#00ff00"/>
<rect x="2" y="320" width="3" height="2" fill="#000"/>
<rect x="11" y="303" width="1" height="28" fill="#00ff00"/>
<rect x="9" y="316" width="5" height="4" fill="#00ff00"/>
<rect x="10" y="317" width="3" height="2" fill="#000"/>
<rect x="19" y="300" width="1" height="38" fill="#00ff00"/>
<rect x="17" y="315" width="5" height="18" fill="#00ff00"/>
<rect x="18" y="316" width="3" height="16" fill="#fff"/>
<rect x="27" y="319" width="1" height="41" fill="#00ff00"/>
<rect x="25" y="328" width="5" height="5" fill="#00ff00"/>
<rect x="26" y="329" width="3" height="3" fill="#000"/>
<rect x="35" y="306" width="1" height="40" fill="#00ff00"/>
<rect x="33" y="324" width="5" height="6" fill="#00ff00"/>
<rect x="34" y="325" width="3" height="4" fill="#000"/>
<rect x="43" y="306" width="1" height="30" fill="#00ff00"/>
<rect x="41" y="312" width="5" height="24" fill="#00ff00"/>
<rect x="42" y="313" width="3" height="22" fill="#000"/>
<rect x="51" y="298" width="1" height="24" fill="#00ff00"/>
<rect x="49" y="312" width="5" height="1" fill="#00ff00"/>
<rect x="59" y="263" width="1" height="52" fill="#00ff00"/>
<rect x="57" y="267" width="5" height="46" fill="#00ff00"/>
<rect x="58" y="268" width="3" height="44" fill="#000"/>
<rect x="67" y="238" width="1" height="31" fill="#00ff00"/>
<rect x="65" y="256" width="5" height="12" fill="#00ff00"/>
<rect x="66" y="257" width="3" height="10" fill="#000"/>
<rect x="75" y="238" width="1" height="45" fill="#00ff00"/>
<rect x="73" y="256" width="5" height="1" fill="#00ff00"/>
<rect x="83" y="248" width="1" height="32" fill="#00ff00"/>
<rect x="81" y="256" width="5" height="7" fill="#00ff00"/>
<rect x="82" y="257" width="3" height="5" fill="#fff"/>
<rect x="91" y="222" width="1" height="44" fill="#00ff00"/>
<rect x="89" y="232" width="5" height="31" fill="#00ff00"/>
<rect x="90" y="233" width="3" height="29" fill="#000"/>
<rect x="99" y="229" width="1" height="28" fill="#00ff00"/>
<rect x="97" y="231" width="5" height="2" fill="#00ff00"/>
<rect x="107" y="208" width="1" height="37" fill="#00ff00"/>
<rect x="105" y="232" width="5" height="9" fill="#00ff00"/>
<rect x="106" y="233" width="3" height="7" fill="#fff"/>
<rect x="115" y="219" width="1" height="67" fill="#00ff00"/>
<rect x="113" y="240" width="5" height="37" fill="#00ff00"/>
<rect x="114" y="241" width="3" height="35" fill="#fff"/>
<rect x="123" y="257" width="1" height="93" fill="#00ff00"/>
<rect x="121" y="276" width="5" height="56" fill="#00ff00"/>
<rect x="122" y="277" width="3" height="54" fill="#fff"/>
<rect x="131" y="314" width="1" height="69" fill="#00ff00"/>
<rect x="129" y="331" width="5" height="1" fill="#00ff00"/>
<rect x="139" y="309" width="1" height="29" fill="#00ff00"/>
<rect x="137" y="309" width="5" height="23" fill="#00ff00"/>
<rect x="138" y="310" width="3" height="21" fill="#000"/>
<rect x="147" y="300" width="1" height="36" fill="#00ff00"/>
<rect x="145" y="309" width="5" height="4" fill="#00ff00"/>
<rect x="146" y="310" width="3" height="2" fill="#fff"/>
<rect x="155" y="308" width="1" height="21" fill="#00ff00"/>
<rect x="153" y="321" width="5" height="5" fill="#00ff00"/>
<rect x="154" y="322" width="3" height="3" fill="#fff"/>
<rect x="163" y="320" width="1" height="59" fill="#00ff00"/>
<rect x="161" y="325" width="5" height="17" fill="#00ff00"/>
<rect x="162" y="326" width="3" height="15" fill="#fff"/>
<rect x="171" y="313" width="1" height="45" fill="#00ff00"/>
<rect x="169" y="320" width="5" height="22" fill="#00ff00"/>
<rect x="170" y="321" width="3" height="20" fill="#000"/>
<rect x="179" y="275" width="1" height="47" fill="#00ff00"/>
<rect x="177" y="293" width="5" height="27" fill="#00ff00"/>
<rect x="178" y="294" width="3" height="25" fill="#000"/>
<rect x="187" y="280" width="1" height="16" fill="#00ff00"/>
<rect x="185" y="293" width="5" height="3" fill="#00ff00"/>
<rect x="186" y="294" width="3" height="1" fill="#fff"/>
<rect x="195" y="272" width="1" height="29" fill="#00ff00"/>
<rect x="193" y="276" width="5" height="20" fill="#00ff00"/>
<rect x="194" y="277" width="3" height="18" fill="#000"/>
<rect x="203" y="268" width="1" height="23" fill="#00ff00"/>
<rect x="201" y="276" width="5" height="4" fill="#00ff00"/>
<rect x="202" y="277" width="3" height="2" fill="#fff"/>
<rect x="211" y="258" width="1" height="28" fill="#00ff00"/>
<rect x="209" y="278" width="5" height="1" fill="#00ff00"/>
<rect x="219" y="267" width="1" height="40" fill="#00ff00"/>
<rect x="217" y="279" width="5" height="5" fill="#00ff00"/>
<rect x="218" y="280" width="3" height="3" fill="#fff"/>
<rect x="227" y="256" width="1" height="37" fill="#00ff00"/>
<rect x="225" y="269" width="5" height="15" fill="#00ff00"/>
<rect x="226" y="270" width="3" height="13" fill="#000"/>
<rect x="235" y="262" width="1" height="12" fill="#00ff00"/>
<rect x="233" y="264" width="5" height="6" fill="#00ff00"/>
<rect x="234" y="265" width="3" height="4" fill="#000"/>
<rect x="243" y="234" width="1" height="36" fill="#00ff00"/>
<rect x="241" y="241" width="5" height="24" fill="#00ff00"/>
<rect x="242" y="242" width="3" height="22" fill="#000"/>
<rect x="251" y="239" width="1" height="20" fill="#00ff00"/>
<rect x="249" y="241" width="5" height="9" fill="#00ff00"/>
<rect x="250" y="242" width="3" height="7" fill="#fff"/>
<rect x="259" y="246" width="1" height="31" fill="#00ff00"/>
<rect x="257" y="249" width="5" height="19" fill="#00ff00"/>
<rect x="258" y="250" width="3" height="17" fill="#fff"/>
<rect x="267" y="238" width="1" height="39" fill="#00ff00"/>
<rect x="265" y="263" width="5" height="5" fill="#00ff00"/>
<rect x="266" y="264" width="3" height="3" fill="#000"/>
<rect x="275" y="263" width="1" height="57" fill="#00ff00"/>
<rect x="273" y="263" width="5" height="36" fill="#00ff00"/>
<rect x="274" y="264" width="3" height="34" fill="#fff"/>
<rect x="283" y="277" width="1" height="17" fill="#00ff00"/>
<rect x="281" y="280" width="5" height="11" fill="#00ff00"/>
<rect x="282" y="281" width="3" height="9" fill="#000"/>
<rect x="291" y="260" width="1" height="21" fill="#00ff00"/>
<rect x="289" y="266" width="5" height="14" fill="#00ff00"/>
<rect x="290" y="267" width="3" height="12" fill="#000"/>
<rect x="299" y="246" width="1" height="27" fill="#00ff00"/>
<rect x="297" y="250" width="5" height="18" fill="#00ff00"/>
<rect x="298" y="251" width="3" height="16" fill="#000"/>
<rect x="307" y="232" width="1" height="22" fill="#00ff00"/>
<rect x="305" y="242" width="5" height="9" fill="#00ff00"/>
<rect x="306" y="243" width="3" height="7" fill="#000"/>
<rect x="315" y="216" width="1" height="39" fill="#00ff00"/>
<rect x="313" y="216" width="5" height="27" fill="#00ff00"/>
<rect x="314" y="217" width="3" height="25" fill="#000"/>
<rect x="323" y="210" width="1" height="24" fill="#00ff00"/>
<rect x="321" y="211" width="5" height="6" fill="#00ff00"/>
<rect x="322" y="212" width="3" height="4" fill="#000"/>
<rect x="331" y="198" width="1" height="21" fill="#00ff00"/>
<rect x="329" y="211" width="5" height="8" fill="#00ff00"/>
<rect x="330" y="212" width="3" height="6" fill="#fff"/>
<rect x="339" y="196" width="1" height="29" fill="#00ff00"/>
<rect x="337" y="203" width="5" height="16" fill="#00ff00"/>
<rect x="338" y="204" width="3" height="14" fill="#000"/>
<rect x="347" y="201" width="1" height="25" fill="#00ff00"/>
<rect x="345" y="203" width="5" height="16" fill="#00ff00"/>
<rect x="346" y="204" width="3" height="14" fill="#fff"/>
<rect x="355" y="218" width="1" height="44" fill="#00ff00"/>
<rect x="353" y="219" width="5" height="24" fill="#00ff00"/>
<rect x="354" y="220" width="3" height="22" fill="#fff"/>
<rect x="363" y="227" width="1" height="29" fill="#00ff00"/>
<rect x="361" y="237" width="5" height="6" fill="#00ff00"/>
<rect x="362" y="238" width="3" height="4" fill="#000"/>
<rect x="371" y="229" width="1" height="27" fill="#00ff00"/>
<rect x="369" y="235" width="5" height="3" fill="#00ff00"/>
<rect x="370" y="236" width="3" height="1" fill="#000"/>
<rect x="379" y="234" width="1" height="13" fill="#00ff00"/>
<rect x="377" y="234" width="5" height="9" fill="#00ff00"/>
<rect x="378" y="235" width="3" height="7" fill="#fff"/>
<rect x="387" y="226" width="1" height="19" fill="#00ff00"/>
<rect x="385" y="234" width="5" height="8" fill="#00ff00"/>
<rect x="386" y="235" width="3" height="6" fill="#000"/>
<rect x="395" y="209" width="1" height="29" fill="#00ff00"/>
<rect x="393" y="211" width="5" height="24" fill="#00ff00"/>
<rect x="394" y="212" width="3" height="22" fill="#000"/>
<rect x="403" y="189" width="1" height="27" fill="#00ff00"/>
<rect x="401" y="200" width="5" height="12" fill="#00ff00"/>
<rect x="402" y="201" width="3" height="10" fill="#000"/>
<rect x="411" y="180" width="1" height="37" fill="#00ff00"/>
<rect x="409" y="200" width="5" height="14" fill="#00ff00"/>
<rect x="410" y="201" width="3" height="12" fill="#fff"/>
<rect x="419" y="200" width="1" height="26" fill="#00ff00"/>
<rect x="417" y="212" width="5" height="2" fill="#00ff00"/>
<rect x="427" y="207" width="1" height="12" fill="#00ff00"/>
<rect x="425" y="209" width="5" height="4" fill="#00ff00"/>
<rect x="426" y="210" width="3" height="2" fill="#000"/>
<rect x="435" y="197" width="1" height="19" fill="#00ff00"/>
<rect x="433" y="202" width="5" height="7" fill="#00ff00"/>
<rect x="434" y="203" width="3" height="5" fill="#000"/>
<rect x="443" y="202" width="1" height="28" fill="#00ff00"/>
<rect x="441" y="202" width="5" height="8" fill="#00ff00"/>
<rect x="442" y="203" width="3" height="6" fill="#fff"/>
<rect x="451" y="209" width="1" height="28" fill="#00ff00"/>
<rect x="449" y="209" width="5" height="16" fill="#00ff00"/>
<rect x="450" y="210" width="3" height="14" fill="#fff"/>
<rect x="459" y="224" width="1" height="39" fill="#00ff00"/>
<rect x="457" y="224" width="5" height="20" fill="#00ff00"/>
<rect x="458" y="225" width="3" height="18" fill="#fff"/>
<rect x="467" y="227" width="1" height="26" fill="#00ff00"/>
<rect x="465" y="232" width="5" height="12" fill="#00ff00"/>
<rect x="466" y="233" width="3" height="10" fill="#000"/>
<rect x="475" y="229" width="1" height="10" fill="#00ff00"/>
<rect x="473" y="229" width="5" height="4" fill="#00ff00"/>
<rect x="474" y="230" width="3" height="2" fill="#000"/>
<rect x="483" y="229" width="1" height="17" fill="#00ff00"/>
<rect x="481" y="229" width="5" height="8" fill="#00ff00"/>
<rect x="482" y="230" width="3" height="6" fill="#fff"/>
<rect x="491" y="211" width="1" height="28" fill="#00ff00"/>
<rect x="489" y="212" width="5" height="25" fill="#00ff00"/>
<rect x="490" y="213" width="3" height="23" fill="#000"/>
<rect x="499" y="207" width="1" height="17" fill="#00ff00"/>
<rect x="497" y="212" width="5" height="3" fill="#00ff00"/>
<rect x="498" y="213" width="3" height="1" fill="#fff"/>
<rect x="507" y="198" width="1" height="35" fill="#00ff00"/>
<rect x="505" y="214" width="5" height="10" fill="#00ff00"/>
<rect x="506" y="215" width="3" height="8" fill="#fff"/>
<rect x="515" y="198" width="1" height="28" fill="#00ff00"/>
<rect x="513" y="207" width="5" height="18" fill="#00ff00"/>
<rect x="514" y="208" width="3" height="16" fill="#000"/>
<rect x="523" y="197" width="1" height="17" fill="#00ff00"/>
<rect x="521" y="200" width="5" height="4" fill="#00ff00"/>
<rect x="522" y="201" width="3" height="2" fill="#fff"/>
<rect x="531" y="199" width="1" height="15" fill="#00ff00"/>
<rect x="529" y="203" width="5" height="4" fill="#00ff00"/>
<rect x="530" y="204" width="3" height="2" fill="#fff"/>
<rect x="539" y="182" width="1" height="31" fill="#00ff00"/>
<rect x="537" y="186" width="5" height="21" fill="#00ff00"/>
<rect x="538" y="187" width="3" height="19" fill="#000"/>
<rect x="547" y="174" width="1" height="31" fill="#00ff00"/>
<rect x="545" y="186" width="5" height="12" fill="#00ff00"/>
<rect x="546" y="187" width="3" height="10" fill="#fff"/>
<rect x="555" y="190" width="1" height="21" fill="#00ff00"/>
<rect x="553" y="198" width="5" height="10" fill="#00ff00"/>
<rect x="554" y="199" width="3" height="8" fill="#fff"/>
<rect x="563" y="208" width="1" height="30" fill="#00ff00"/>
<rect x="561" y="208" width="5" height="17" fill="#00ff00"/>
<rect x="562" y="209" width="3" height="15" fill="#fff"/>
<rect x="571" y="217" width="1" height="11" fill="#00ff00"/>
<rect x="569" y="218" width="5" height="7" fill="#00ff00"/>
<rect x="570" y="219" width="3" height="5" fill="#000"/>
<rect x="579" y="212" width="1" height="17" fill="#00ff00"/>
<rect x="577" y="218" width="5" height="1" fill="#00ff00"/>
<rect x="587" y="216" width="1" height="29" fill="#00ff00"/>
<rect x="585" y="219" width="5" height="25" fill="#00ff00"/>
<rect x="586" y="220" width="3" height="23" fill="#fff"/>
<rect x="595" y="239" width="1" height="56" fill="#00ff00"/>
<rect x="593" y="243" width="5" height="50" fill="#00ff00"/>
<rect x="594" y="244" width="3" height="48" fill="#fff"/>
<rect x="603" y="270" width="1" height="48" fill="#00ff00"/>
<rect x="601" y="274" width="5" height="19" fill="#00ff00"/>
<rect x="602" y="275" width="3" height="17" fill="#000"/>
<rect x="611" y="236" width="1" height="45" fill="#00ff00"/>
<rect x="609" y="240" width="5" height="35" fill="#00ff00"/>
<rect x="610" y="241" width="3" height="33" fill="#000"/>
<rect x="619" y="240" width="1" height="25" fill="#00ff00"/>
<rect x="617" y="240" width="5" height="15" fill="#00ff00"/>
<rect x="618" y="241" width="3" height="13" fill="#fff"/>
<rect x="627" y="236" width="1" height="22" fill="#00ff00"/>
<rect x="625" y="247" width="5" height="8" fill="#00ff00"/>
<rect x="626" y="248" width="3" height="6" fill="#000"/>
<rect x="635" y="241" width="1" height="35" fill="#00ff00"/>
<rect x="633" y="247" width="5" height="21" fill="#00ff00"/>
<rect x="634" y="248" width="3" height="19" fill="#fff"/>
<rect x="643" y="253" width="1" height="29" fill="#00ff00"/>
<rect x="641" y="267" width="5" height="8" fill="#00ff00"/>
<rect x="642" y="268" width="3" height="6" fill="#fff"/>
<rect x="651" y="245" width="1" height="40" fill="#00ff00"/>
<rect x="649" y="274" width="5" height="10" fill="#00ff00"/>
<rect x="650" y="275" width="3" height="8" fill="#fff"/>
<rect x="659" y="269" width="1" height="22" fill="#00ff00"/>
<rect x="657" y="283" width="5" height="3" fill="#00ff00"/>
<rect x="658" y="284" width="3" height="1" fill="#fff"/>
<rect x="667" y="280" width="1" height="10" fill="#00ff00"/>
<rect x="665" y="285" width="5" height="2" fill="#00ff00"/>
<rect x="675" y="279" width="1" height="57" fill="#00ff00"/>
<rect x="673" y="286" width="5" height="41" fill="#00ff00"/>
<rect x="674" y="287" width="3" height="39" fill="#fff"/>
<rect x="683" y="316" width="1" height="42" fill="#00ff00"/>
<rect x="681" y="326" width="5" height="10" fill="#00ff00"/>
<rect x="682" y="327" width="3" height="8" fill="#fff"/>
<rect x="691" y="310" width="1" height="30" fill="#00ff00"/>
<rect x="689" y="328" width="5" height="9" fill="#00ff00"/>
<rect x="690" y="329" width="3" height="7" fill="#000"/>
<rect x="699" y="315" width="1" height="47" fill="#00ff00"/>
<rect x="697" y="328" width="5" height="23" fill="#00ff00"/>
<rect x="698" y="329" width="3" height="21" fill="#fff"/>
<rect x="707" y="326" width="1" height="40" fill="#00ff00"/>
<rect x="705" y="330" width="5" height="21" fill="#00ff00"/>
<rect x="706" y="331" width="3" height="19" fill="#000"/>
<rect x="715" y="326" width="1" height="24" fill="#00ff00"/>
<rect x="713" y="330" width="5" height="9" fill="#00ff00"/>
<rect x="714" y="331" width="3" height="7" fill="#fff"/>
<rect x="723" y="311" width="1" height="38" fill="#00ff00"/>
<rect x="721" y="321" width="5" height="17" fill="#00ff00"/>
<rect x="722" y="322" width="3" height="15" fill="#000"/>
<rect x="731" y="310" width="1" height="16" fill="#00ff00"/>
<rect x="729" y="321" width="5" height="1" fill="#00ff00"/>
<rect x="739" y="294" width="1" height="41" fill="#00ff00"/>
<rect x="737" y="298" width="5" height="25" fill="#00ff00"/>
<rect x="738" y="299" width="3" height="23" fill="#000"/>
<rect x="747" y="272" width="1" height="31" fill="#00ff00"/>
<rect x="745" y="292" width="5" height="7" fill="#00ff00"/>
<rect x="746" y="293" width="3" height="5" fill="#000"/>
<rect x="755" y="288" width="1" height="16" fill="#00ff00"/>
<rect x="753" y="291" width="5" height="2" fill="#00ff00"/>
<rect x="763" y="280" width="1" height="17" fill="#00ff00"/>
<rect x="761" y="283" width="5" height="3" fill="#00ff00"/>
<rect x="762" y="284" width="3" height="1" fill="#000"/>
<rect x="771" y="277" width="1" height="23" fill="#00ff00"/>
<rect x="769" y="279" width="5" height="5" fill="#00ff00"/>
<rect x="770" y="280" width="3" height="3" fill="#000"/>
<rect x="779" y="253" width="1" height="29" fill="#00ff00"/>
<rect x="777" y="270" width="5" height="10" fill="#00ff00"/>
<rect x="778" y="271" width="3" height="8" fill="#000"/>
<rect x="787" y="250" width="1" height="27" fill="#00ff00"/>
<rect x="785" y="254" width="5" height="17" fill="#00ff00"/>
<rect x="786" y="255" width="3" height="15" fill="#000"/>
<rect x="795" y="243" width="1" height="26" fill="#00ff00"/>
<rect x="793" y="254" width="5" height="9" fill="#00ff00"/>
<rect x="794" y="255" width="3" height="7" fill="#fff"/>
<rect x="803" y="254" width="1" height="22" fill="#00ff00"/>
<rect x="801" y="260" width="5" height="3" fill="#00ff00"/>
<rect x="802" y="261" width="3" height="1" fill="#000"/>
<rect x="811" y="256" width="1" height="26" fill="#00ff00"/>
<rect x="809" y="260" width="5" height="8" fill="#00ff00"/>
<rect x="810" y="261" width="3" height="6" fill="#fff"/>
<rect x="819" y="252" width="1" height="22" fill="#00ff00"/>
<rect x="817" y="256" width="5" height="12" fill="#00ff00"/>
<rect x="818" y="257" width="3" height="10" fill="#000"/>
<rect x="827" y="240" width="1" height="22" fill="#00ff00"/>
<rect x="825" y="247" width="5" height="9" fill="#00ff00"/>
<rect x="826" y="248" width="3" height="7" fill="#000"/>
<rect x="835" y="239" width="1" height="18" fill="#00ff00"/>
<rect x="833" y="247" width="5" height="5" fill="#00ff00"/>
<rect x="834" y="248" width="3" height="3" fill="#fff"/>
<rect x="843" y="165" width="1" height="107" fill="#00ff00"/>
<rect x="841" y="172" width="5" height="80" fill="#00ff00"/>
<rect x="842" y="173" width="3" height="78" fill="#000"/>
<rect x="851" y="144" width="1" height="35" fill="#00ff00"/>
<rect x="849" y="159" width="5" height="14" fill="#00ff00"/>
<rect x="850" y="160" width="3" height="12" fill="#000"/>
<rect x="859" y="150" width="1" height="24" fill="#00ff00"/>
<rect x="857" y="160" width="5" height="1" fill="#00ff00"/>
<rect x="867" y="130" width="1" height="36" fill="#00ff00"/>
<rect x="865" y="138" width="5" height="23" fill="#00ff00"/>
<rect x="866" y="139" width="3" height="21" fill="#000"/>
<rect x="875" y="122" width="1" height="24" fill="#00ff00"/>
<rect x="873" y="132" width="5" height="7" fill="#00ff00"/>
<rect x="874" y="133" width="3" height="5" fill="#000"/>
<rect x="883" y="127" width="1" height="28" fill="#00ff00"/>
<rect x="881" y="132" width="5" height="22" fill="#00ff00"/>
<rect x="882" y="133" width="3" height="20" fill="#fff"/>
<rect x="891" y="113" width="1" height="47" fill="#00ff00"/>
<rect x="889" y="125" width="5" height="29" fill="#00ff00"/>
<rect x="890" y="126" width="3" height="27" fill="#000"/>
<rect x="899" y="104" width="1" height="26" fill="#00ff00"/>
<rect x="897" y="121" width="5" height="5" fill="#00ff00"/>
<rect x="898" y="122" width="3" height="3" fill="#000"/>
<rect x="907" y="109" width="1" height="20" fill="#00ff00"/>
<rect x="905" y="114" width="5" height="8" fill="#00ff00"/>
<rect x="906" y="115" width="3" height="6" fill="#000"/>
<rect x="915" y="103" width="1" height="16" fill="#00ff00"/>
<rect x="913" y="111" width="5" height="3" fill="#00ff00"/>
<rect x="914" y="112" width="3" height="1" fill="#000"/>
<rect x="923" y="111" width="1" height="23" fill="#00ff00"/>
<rect x="921" y="111" width="5" height="21" fill="#00ff00"/>
<rect x="922" y="112" width="3" height="19" fill="#fff"/>
<rect x="931" y="109" width="1" height="44" fill="#00ff00"/>
<rect x="929" y="112" width="5" height="20" fill="#00ff00"/>
<rect x="930" y="113" width="3" height="18" fill="#000"/>
<rect x="939" y="86" width="1" height="49" fill="#00ff00"/>
<rect x="937" y="88" width="5" height="25" fill="#00ff00"/>
<rect x="938" y="89" width="3" height="23" fill="#000"/>
<rect x="947" y="60" width="1" height="29" fill="#00ff00"/>
<rect x="945" y="74" width="5" height="15" fill="#00ff00"/>
<rect x="946" y="75" width="3" height="13" fill="#000"/>
<rect x="955" y="65" width="1" height="14" fill="#00ff00"/>
<rect x="953" y="66" width="5" height="9" fill="#00ff00"/>
<rect x="954" y="67" width="3" height="7" fill="#000"/>
<rect x="963" y="53" width="1" height="27" fill="#00ff00"/>
<rect x="961" y="66" width="5" height="14" fill="#00ff00"/>
<rect x="962" y="67" width="3" height="12" fill="#fff"/>
<rect x="971" y="64" width="1" height="26" fill="#00ff00"/>
<rect x="969" y="78" width="5" height="4" fill="#00ff00"/>
<rect x="970" y="79" width="3" height="2" fill="#fff"/>
<rect x="979" y="77" width="1" height="19" fill="#00ff00"/>
<rect x="977" y="81" width="5" height="5" fill="#00ff00"/>
<rect x="978" y="82" width="3" height="3" fill="#fff"/>
<rect x="987" y="67" width="1" height="29" fill="#00ff00"/>
<rect x="985" y="85" width="5" height="4" fill="#00ff00"/>
<rect x="986" y="86" width="3" height="2" fill="#fff"/>
<rect x="995" y="66" width="1" height="25" fill="#00ff00"/>
<rect x="993" y="72" width="5" height="17" fill="#00ff00"/>
<rect x="994" y="73" width="3" height="15" fill="#000"/>
<rect x="1003" y="68" width="1" height="10" fill="#00ff00"/>
<rect x="1001" y="74" width="5" height="3" fill="#00ff00"/>
<rect x="1002" y="75" width="3" height="1" fill="#000"/>
<rect x="1011" y="69" width="1" height="81" fill="#00ff00"/>
<rect x="1009" y="74" width="5" height="65" fill="#00ff00"/>
<rect x="1010" y="75" width="3" height="63" fill="#fff"/>
<rect x="1019" y="119" width="1" height="35" fill="#00ff00"/>
<rect x="1017" y="134" width="5" height="5" fill="#00ff00"/>
<rect x="1018" y="135" width="3" height="3" fill="#000"/>
<rect x="1027" y="110" width="1" height="28" fill="#00ff00"/>
<rect x="1025" y="112" width="5" height="23" fill="#00ff00"/>
<rect x="1026" y="113" width="3" height="21" fill="#000"/>
<rect x="1035" y="106" width="1" height="26" fill="#00ff00"/>
<rect x="1033" y="111" width="5" height="2" fill="#00ff00"/>
<rect x="1043" y="106" width="1" height="20" fill="#00ff00"/>
<rect x="1041" y="111" width="5" height="14" fill="#00ff00"/>
<rect x="1042" y="112" width="3" height="12" fill="#fff"/>
<rect x="1051" y="122" width="1" height="21" fill="#00ff00"/>
<rect x="1049" y="123" width="5" height="12" fill="#00ff00"/>
<rect x="1050" y="124" width="3" height="10" fill="#fff"/>
<rect x="1059" y="112" width="1" height="31" fill="#00ff00"/>
<rect x="1057" y="126" width="5" height="8" fill="#00ff00"/>
<rect x="1058" y="127" width="3" height="6" fill="#000"/>
<rect x="1067" y="122" width="1" height="17" fill="#00ff00"/>
<rect x="1065" y="126" width="5" height="11" fill="#00ff00"/>
<rect x="1066" y="127" width="3" height="9" fill="#fff"/>
<rect x="1075" y="135" width="1" height="36" fill="#00ff00"/>
<rect x="1073" y="136" width="5" height="32" fill="#00ff00"/>
<rect x="1074" y="137" width="3" height="30" fill="#fff"/>
<rect x="1083" y="138" width="1" height="66" fill="#00ff00"/>
<rect x="1081" y="163" width="5" height="5" fill="#00ff00"/>
<rect x="1082" y="164" width="3" height="3" fill="#000"/>
<rect x="1091" y="121" width="1" height="59" fill="#00ff00"/>
<rect x="1089" y="121" width="5" height="44" fill="#00ff00"/>
<rect x="1090" y="122" width="3" height="42" fill="#000"/>
<rect x="1099" y="121" width="1" height="13" fill="#00ff00"/>
<rect x="1097" y="122" width="5" height="10" fill="#00ff00"/>
<rect x="1098" y="123" width="3" height="8" fill="#fff"/>
<rect x="1107" y="105" width="1" height="27" fill="#00ff00"/>
<rect x="1105" y="117" width="5" height="15" fill="#00ff00"/>
<rect x="1106" y="118" width="3" height="13" fill="#000"/>
<rect x="1115" y="96" width="1" height="24" fill="#00ff00"/>
<rect x="1113" y="96" width="5" height="22" fill="#00ff00"/>
<rect x="1114" y="97" width="3" height="20" fill="#000"/>
<rect x="1123" y="87" width="1" height="27" fill="#00ff00"/>
<rect x="1121" y="96" width="5" height="4" fill="#00ff00"/>
<rect x="1122" y="97" width="3" height="2" fill="#fff"/>
<rect x="1131" y="71" width="1" height="41" fill="#00ff00"/>
<rect x="1129" y="84" width="5" height="15" fill="#00ff00"/>
<rect x="1130" y="85" width="3" height="13" fill="#000"/>
<rect x="1139" y="74" width="1" height="49" fill="#00ff00"/>
<rect x="1137" y="84" width="5" height="3" fill="#00ff00"/>
<rect x="1138" y="85" width="3" height="1" fill="#fff"/>
<rect x="1147" y="80" width="1" height="12" fill="#00ff00"/>
<rect x="1145" y="86" width="5" height="4" fill="#00ff00"/>
<rect x="1146" y="87" width="3" height="2" fill="#fff"/>
<rect x="1155" y="85" width="1" height="31" fill="#00ff00"/>
<rect x="1153" y="89" width="5" height="11" fill="#00ff00"/>
<rect x="1154" y="90" width="3" height="9" fill="#fff"/>
<rect x="1163" y="90" width="1" height="27" fill="#00ff00"/>
<rect x="1161" y="99" width="5" height="11" fill="#00ff00"/>
<rect x="1162" y="100" width="3" height="9" fill="#fff"/>
<rect x="1171" y="42" width="1" height="70" fill="#00ff00"/>
<rect x="1169" y="48" width="5" height="62" fill="#00ff00"/>
<rect x="1170" y="49" width="3" height="60" fill="#000"/>
<rect x="1179" y="24" width="1" height="43" fill="#00ff00"/>
<rect x="1177" y="44" width="5" height="4" fill="#00ff00"/>
<rect x="1178" y="45" width="3" height="2" fill="#000"/>
<rect x="1187" y="22" width="1" height="25" fill="#00ff00"/>
<rect x="1185" y="28" width="5" height="17" fill="#00ff00"/>
<rect x="1186" y="29" width="3" height="15" fill="#000"/>
<rect x="1195" y="27" width="1" height="18" fill="#00ff00"/>
<rect x="1193" y="28" width="5" height="14" fill="#00ff00"/>
<rect x="1194" y="29" width="3" height="12" fill="#fff"/>
<rect x="1203" y="35" width="1" height="10" fill="#00ff00"/>
<rect x="1201" y="39" width="5" height="2" fill="#00ff00"/>
<rect x="1211" y="37" width="1" height="6" fill="#00ff00"/>
<rect x="1209" y="39" width="5" height="2" fill="#00ff00"/>
</g>
<rect x="6" y="5" width="207" height="11" fill="#000"/>
<text x="6.6" y="14" fill="#fff" stroke="#fff" stroke-width="0.2" font-size="10" textLength="56.2" lengthAdjust="spacingAndGlyphs">SPT_GLD,H4</text>
<text x="68.9" y="14" fill="#fff" stroke="#fff" stroke-width="0.2" font-size="10" textLength="33.6" lengthAdjust="spacingAndGlyphs">1759.20</text>
<text x="104.9" y="14" fill="#fff" stroke="#fff" stroke-width="0.2" font-size="10" textLength="33.6" lengthAdjust="spacingAndGlyphs">1760.15</text>
<text x="140.9" y="14" fill="#fff" stroke="#fff" stroke-width="0.2" font-size="10" textLength="33.6" lengthAdjust="spacingAndGlyphs">1758.15</text>
<text x="176.9" y="14" fill="#fff" stroke="#fff" stroke-width="0.2" font-size="10" textLength="33.6" lengthAdjust="spacingAndGlyphs">1758.70</text>
<g clip-path="url(#mc)">
<rect x="3" y="9" width="1231" height="1" fill="#ffff00"/>
<text x="1233.4" y="7" fill="#ffff00" stroke="#ffff00" stroke-width="0.2" font-size="10" textLength="18.6" lengthAdjust="spacingAndGlyphs" text-anchor="end">61.8</text>
<rect x="3" y="103" width="1231" height="1" fill="#ffff00"/>
<text x="1233.4" y="101" fill="#ffff00" stroke="#ffff00" stroke-width="0.2" font-size="10" textLength="18.6" lengthAdjust="spacingAndGlyphs" text-anchor="end">50.0</text>
<rect x="3" y="198" width="1231" height="1" fill="#ffff00"/>
<text x="1233.4" y="196" fill="#ffff00" stroke="#ffff00" stroke-width="0.2" font-size="10" textLength="18.6" lengthAdjust="spacingAndGlyphs" text-anchor="end">38.2</text>
<rect x="3" y="316" width="1231" height="1" fill="#ffff00"/>
<text x="1233.4" y="314" fill="#ffff00" stroke="#ffff00" stroke-width="0.2" font-size="10" textLength="18.6" lengthAdjust="spacingAndGlyphs" text-anchor="end">23.6</text>
</g>
<g stroke="#ff00ff" stroke-width="1" shape-rendering="crispEdges" clip-path="url(#mc)">
<line x1="547" y1="174.65" x2="1140.6" y2="3.66"/>
<line x1="707" y1="365.65" x2="1234" y2="137.8"/>
</g>
<rect x="2" y="2" width="1233" height="1" fill="#fff"/>
<rect x="2" y="391" width="1233" height="1" fill="#fff"/>
<rect x="2" y="2" width="1" height="390" fill="#fff"/>
<rect x="1234" y="2" width="1" height="390" fill="#fff"/>
<rect x="2" y="393" width="1233" height="1" fill="#fff"/>
<rect x="2" y="586" width="1233" height="1" fill="#fff"/>
<rect x="2" y="393" width="1" height="194" fill="#fff"/>
<rect x="1234" y="393" width="1" height="194" fill="#fff"/>
<rect x="1235" y="5" width="2" height="1" fill="#fff"/>
<text x="1239.9" y="8" fill="#fff" stroke="#fff" stroke-width="0.2" font-size="10" textLength="32.6" lengthAdjust="spacingAndGlyphs">1775.55</text>
<rect x="1235" y="37" width="2" height="1" fill="#fff"/>
<text x="1239.9" y="40" fill="#fff" stroke="#fff" stroke-width="0.2" font-size="10" textLength="32.6" lengthAdjust="spacingAndGlyphs">1760.25</text>
<rect x="1235" y="69" width="2" height="1" fill="#fff"/>
<text x="1239.9" y="72" fill="#fff" stroke="#fff" stroke-width="0.2" font-size="10" textLength="32.6" lengthAdjust="spacingAndGlyphs">1744.95</text>
<rect x="1235" y="101" width="2" height="1" fill="#fff"/>
<text x="1239.9" y="104" fill="#fff" stroke="#fff" stroke-width="0.2" font-size="10" textLength="32.6" lengthAdjust="spacingAndGlyphs">1729.65</text>
<rect x="1235" y="133" width="2" height="1" fill="#fff"/>
<text x="1239.9" y="136" fill="#fff" stroke="#fff" stroke-width="0.2" font-size="10" textLength="32.6" lengthAdjust="spacingAndGlyphs">1714.35</text>
<rect x="1235" y="165" width="2" height="1" fill="#fff"/>
<text x="1239.9" y="168" fill="#fff" stroke="#fff" stroke-width="0.2" font-size="10" textLength="32.6" lengthAdjust="spacingAndGlyphs">1699.05</text>
<rect x="1235" y="197" width="2" height="1" fill="#fff"/>
<text x="1239.9" y="200" fill="#fff" stroke="#fff" stroke-width="0.2" font-size="10" textLength="32.6" lengthAdjust="spacingAndGlyphs">1683.75</text>
<rect x="1235" y="229" width="2" height="1" fill="#fff"/>
<text x="1239.9" y="232" fill="#fff" stroke="#fff" stroke-width="0.2" font-size="10" textLength="32.6" lengthAdjust="spacingAndGlyphs">1668.45</text>
<rect x="1235" y="261" width="2" height="1" fill="#fff"/>
<text x="1239.9" y="264" fill="#fff" stroke="#fff" stroke-width="0.2" font-size="10" textLength="32.6" lengthAdjust="spacingAndGlyphs">1653.15</text>
<rect x="1235" y="293" width="2" height="1" fill="#fff"/>
<text x="1239.9" y="296" fill="#fff" stroke="#fff" stroke-width="0.2" font-size="10" textLength="32.6" lengthAdjust="spacingAndGlyphs">1637.85</text>
<rect x="1235" y="325" width="2" height="1" fill="#fff"/>
<text x="1239.9" y="328" fill="#fff" stroke="#fff" stroke-width="0.2" font-size="10" textLength="32.6" lengthAdjust="spacingAndGlyphs">1622.55</text>
<rect x="1235" y="357" width="2" height="1" fill="#fff"/>
<text x="1239.9" y="360" fill="#fff" stroke="#fff" stroke-width="0.2" font-size="10" textLength="32.6" lengthAdjust="spacingAndGlyphs">1607.70</text>
<rect x="1235" y="389" width="2" height="1" fill="#fff"/>
<text x="1239.9" y="392" fill="#fff" stroke="#fff" stroke-width="0.2" font-size="10" textLength="32.6" lengthAdjust="spacingAndGlyphs">1592.40</text>
<rect x="1236" y="34" width="36" height="11" fill="#fff"/>
<text x="1239.9" y="43" fill="#000" stroke="#000" stroke-width="0.2" font-size="10" textLength="32.6" lengthAdjust="spacingAndGlyphs">1758.70</text>
<rect x="1235" y="395" width="1" height="1" fill="#fff"/>
<text x="1238" y="404" fill="#fff" stroke="#fff" stroke-width="0.2" font-size="10" textLength="16" lengthAdjust="spacingAndGlyphs">100</text>
<text x="1236.6" y="436" fill="#fff" stroke="#fff" stroke-width="0.2" font-size="10" textLength="11.6" lengthAdjust="spacingAndGlyphs">80</text>
<text x="1236.6" y="550" fill="#fff" stroke="#fff" stroke-width="0.2" font-size="10" textLength="11.6" lengthAdjust="spacingAndGlyphs">20</text>
<text x="1238" y="583" fill="#fff" stroke="#fff" stroke-width="0.2" font-size="10">0</text>
<rect x="1235" y="585" width="1" height="1" fill="#fff"/>
<g fill="none" stroke-width="1" shape-rendering="crispEdges" clip-path="url(#ic)">
<polyline points="3.5,455.5 11.5,456.3 19.5,469.0 27.5,481.5 35.5,495.7 43.5,493.8 51.5,481.3 59.5,452.6 67.5,433.3 75.5,420.7 83.5,424.9 91.5,428.5 99.5,431.5 107.5,433.0 115.5,453.7 123.5,490.6 131.5,526.8 139.5,538.4 147.5,529.3 155.5,514.5 163.5,504.8 171.5,495.1 179.5,477.9 187.5,456.3 195.5,435.4 203.5,424.1 211.5,420.1 219.5,428.8 227.5,443.9 235.5,453.2 243.5,445.0 251.5,431.7 259.5,432.0 267.5,452.9 275.5,487.8 283.5,510.7 291.5,515.6 299.5,493.0 307.5,464.5 315.5,435.2 323.5,416.2 331.5,409.0 339.5,412.1 347.5,425.5 355.5,445.8 363.5,473.9 371.5,499.6 379.5,514.7 387.5,514.7 395.5,495.7 403.5,466.6 411.5,446.5 419.5,448.7 427.5,468.4 435.5,483.8 443.5,492.8 451.5,499.7 459.5,510.3 467.5,516.9 475.5,514.2 483.5,502.6 491.5,483.0 499.5,461.6 507.5,445.2 515.5,443.3 523.5,447.9 531.5,445.4 539.5,435.5 547.5,432.5 555.5,446.8 563.5,482.0 571.5,515.2 579.5,535.5 587.5,541.7 595.5,549.8 603.5,554.9 611.5,540.8 619.5,508.3 627.5,473.2 635.5,455.8 643.5,454.4 651.5,480.2 659.5,519.0 667.5,554.9 675.5,569.6 683.5,566.2 691.5,557.2 699.5,549.8 707.5,539.8 715.5,531.7 723.5,512.2 731.5,485.8 739.5,453.0 747.5,433.6 755.5,427.8 763.5,433.4 771.5,434.7 779.5,435.4 787.5,431.5 795.5,435.0 803.5,437.1 811.5,450.8 819.5,460.2 827.5,468.3 835.5,459.7 843.5,442.4 851.5,426.6 859.5,416.8 867.5,414.8 875.5,412.5 883.5,415.1 891.5,422.1 899.5,437.7 907.5,440.8 915.5,438.4 923.5,433.4 931.5,438.1 939.5,441.5 947.5,433.5 955.5,423.1 963.5,419.8 971.5,426.5 979.5,443.7 987.5,468.6 995.5,497.0 1003.5,508.6 1011.5,514.1 1019.5,518.5 1027.5,528.8 1035.5,526.0 1043.5,514.3 1051.5,505.4 1059.5,506.0 1067.5,512.2 1075.5,527.2 1083.5,535.7 1091.5,524.5 1099.5,489.9 1107.5,449.7 1115.5,423.9 1123.5,412.0 1131.5,411.2 1139.5,418.4 1147.5,430.7 1155.5,447.8 1163.5,470.7 1171.5,478.1 1179.5,473.4 1187.5,446.4 1195.5,432.0 1203.5,423.2 1211.5,430.5" stroke="#ff0000" stroke-dasharray="3 3"/>
<polyline points="3.5,458.0 11.5,465.2 19.5,483.8 27.5,495.5 35.5,507.8 43.5,478.0 51.5,458.0 59.5,421.7 67.5,420.2 75.5,420.2 83.5,434.2 91.5,431.0 99.5,429.3 107.5,438.8 115.5,493.0 123.5,540.0 131.5,547.3 139.5,527.8 147.5,512.8 155.5,502.8 163.5,498.7 171.5,483.8 179.5,451.3 187.5,433.8 195.5,421.0 203.5,417.5 211.5,421.7 219.5,447.2 227.5,462.7 235.5,449.7 243.5,422.7 251.5,422.7 259.5,450.5 267.5,485.5 275.5,527.5 283.5,519.2 291.5,500.0 299.5,459.7 307.5,433.8 315.5,412.2 323.5,402.7 331.5,412.2 339.5,421.3 347.5,443.0 355.5,473.0 363.5,505.8 371.5,520.0 379.5,518.3 387.5,505.8 395.5,463.0 403.5,431.0 411.5,445.5 419.5,469.7 427.5,490.0 435.5,491.7 443.5,496.7 451.5,510.8 459.5,523.3 467.5,516.7 475.5,502.5 483.5,488.5 491.5,458.0 499.5,438.3 507.5,439.3 515.5,452.2 523.5,452.2 531.5,431.7 539.5,422.7 547.5,443.0 555.5,474.8 563.5,528.3 571.5,542.5 579.5,535.8 587.5,546.7 595.5,567.0 603.5,551.0 611.5,504.3 619.5,469.7 627.5,445.5 635.5,452.2 643.5,465.5 651.5,522.8 659.5,568.7 667.5,573.3 675.5,566.7 683.5,558.7 691.5,546.2 699.5,544.5 707.5,528.7 715.5,522.0 723.5,485.8 731.5,449.7 739.5,423.5 747.5,427.7 755.5,432.2 763.5,440.2 771.5,431.7 779.5,434.3 787.5,428.5 795.5,442.2 803.5,440.5 811.5,469.7 819.5,470.5 827.5,464.7 835.5,443.8 843.5,418.8 851.5,417.2 859.5,414.3 867.5,413.0 875.5,410.2 883.5,422.2 891.5,433.8 899.5,457.2 907.5,431.3 915.5,426.8 923.5,442.2 931.5,445.2 939.5,437.2 947.5,418.0 955.5,414.2 963.5,427.2 971.5,438.0 979.5,466.0 987.5,501.7 995.5,523.3 1003.5,500.8 1011.5,518.3 1019.5,536.3 1027.5,531.7 1035.5,510.0 1043.5,501.3 1051.5,505.0 1059.5,511.7 1067.5,520.0 1075.5,550.0 1083.5,537.0 1091.5,486.5 1099.5,446.3 1107.5,416.3 1115.5,409.2 1123.5,410.5 1131.5,413.8 1139.5,431.0 1147.5,447.2 1155.5,465.3 1163.5,499.5 1171.5,469.4 1179.5,451.3 1187.5,418.5 1195.5,426.3 1203.5,424.7 1211.5,440.5" stroke="#20b2aa"/>
</g>
<text x="6.6" y="407" fill="#fff" stroke="#fff" stroke-width="0.2" font-size="10" textLength="50" lengthAdjust="spacingAndGlyphs">Stoch(5,3,3)</text>
<text x="60" y="407" fill="#fff" stroke="#fff" stroke-width="0.2" font-size="10" textLength="33.8" lengthAdjust="spacingAndGlyphs">75.6534</text>
<text x="95.6" y="407" fill="#fff" stroke="#fff" stroke-width="0.2" font-size="10" textLength="33.8" lengthAdjust="spacingAndGlyphs">81.1622</text>
<text x="6.4" y="581" fill="#fff" stroke="#fff" stroke-width="0.2" font-size="10" textLength="14.6" lengthAdjust="spacingAndGlyphs">HY</text>
<text x="23.4" y="581" fill="#fff" stroke="#fff" stroke-width="0.2" font-size="10" textLength="31" lengthAdjust="spacingAndGlyphs">Trader,</text>
<text x="58.6" y="581" fill="#fff" stroke="#fff" stroke-width="0.2" font-size="10" textLength="5.2" lengthAdjust="spacingAndGlyphs">?</text>
<text x="66.4" y="581" fill="#fff" stroke="#fff" stroke-width="0.2" font-size="10" textLength="43" lengthAdjust="spacingAndGlyphs">2001-2011</text>
<text x="113.6" y="581" fill="#fff" stroke="#fff" stroke-width="0.2" font-size="10" textLength="52.8" lengthAdjust="spacingAndGlyphs">MetaQuotes</text>
<text x="169" y="581" fill="#fff" stroke="#fff" stroke-width="0.2" font-size="10" textLength="39.8" lengthAdjust="spacingAndGlyphs">Software</text>
<text x="211.8" y="581" fill="#fff" stroke="#fff" stroke-width="0.2" font-size="10" textLength="26.4" lengthAdjust="spacingAndGlyphs">Corp.</text>
<rect x="3" y="587" width="1" height="3" fill="#fff"/>
<text x="1.8" y="599" fill="#fff" stroke="#fff" stroke-width="0.2" font-size="10" textLength="53.5" lengthAdjust="spacingAndGlyphs">30 Sep 2011</text>
<rect x="67" y="587" width="1" height="3" fill="#fff"/>
<text x="66.4" y="599" fill="#fff" stroke="#fff" stroke-width="0.2" font-size="10" textLength="49" lengthAdjust="spacingAndGlyphs">3 Oct 08:00</text>
<rect x="131" y="587" width="1" height="3" fill="#fff"/>
<text x="130.4" y="599" fill="#fff" stroke="#fff" stroke-width="0.2" font-size="10" textLength="49" lengthAdjust="spacingAndGlyphs">4 Oct 16:00</text>
<rect x="195" y="587" width="1" height="3" fill="#fff"/>
<text x="194.4" y="599" fill="#fff" stroke="#fff" stroke-width="0.2" font-size="10" textLength="49" lengthAdjust="spacingAndGlyphs">6 Oct 00:00</text>
<rect x="259" y="587" width="1" height="3" fill="#fff"/>
<text x="258.4" y="599" fill="#fff" stroke="#fff" stroke-width="0.2" font-size="10" textLength="49" lengthAdjust="spacingAndGlyphs">7 Oct 08:00</text>
<rect x="323" y="587" width="1" height="3" fill="#fff"/>
<text x="322.4" y="599" fill="#fff" stroke="#fff" stroke-width="0.2" font-size="10" textLength="54" lengthAdjust="spacingAndGlyphs">10 Oct 16:00</text>
<rect x="387" y="587" width="1" height="3" fill="#fff"/>
<text x="386.4" y="599" fill="#fff" stroke="#fff" stroke-width="0.2" font-size="10" textLength="54" lengthAdjust="spacingAndGlyphs">12 Oct 00:00</text>
<rect x="451" y="587" width="1" height="3" fill="#fff"/>
<text x="450.4" y="599" fill="#fff" stroke="#fff" stroke-width="0.2" font-size="10" textLength="54" lengthAdjust="spacingAndGlyphs">13 Oct 08:00</text>
<rect x="515" y="587" width="1" height="3" fill="#fff"/>
<text x="514.4" y="599" fill="#fff" stroke="#fff" stroke-width="0.2" font-size="10" textLength="54" lengthAdjust="spacingAndGlyphs">14 Oct 16:00</text>
<rect x="579" y="587" width="1" height="3" fill="#fff"/>
<text x="578.4" y="599" fill="#fff" stroke="#fff" stroke-width="0.2" font-size="10" textLength="54" lengthAdjust="spacingAndGlyphs">18 Oct 00:00</text>
<rect x="643" y="587" width="1" height="3" fill="#fff"/>
<text x="642.4" y="599" fill="#fff" stroke="#fff" stroke-width="0.2" font-size="10" textLength="54" lengthAdjust="spacingAndGlyphs">19 Oct 08:00</text>
<rect x="707" y="587" width="1" height="3" fill="#fff"/>
<text x="706.4" y="599" fill="#fff" stroke="#fff" stroke-width="0.2" font-size="10" textLength="54" lengthAdjust="spacingAndGlyphs">20 Oct 16:00</text>
<rect x="771" y="587" width="1" height="3" fill="#fff"/>
<text x="770.4" y="599" fill="#fff" stroke="#fff" stroke-width="0.2" font-size="10" textLength="54" lengthAdjust="spacingAndGlyphs">24 Oct 00:00</text>
<rect x="835" y="587" width="1" height="3" fill="#fff"/>
<text x="834.4" y="599" fill="#fff" stroke="#fff" stroke-width="0.2" font-size="10" textLength="54" lengthAdjust="spacingAndGlyphs">25 Oct 08:00</text>
<rect x="899" y="587" width="1" height="3" fill="#fff"/>
<text x="898.4" y="599" fill="#fff" stroke="#fff" stroke-width="0.2" font-size="10" textLength="54" lengthAdjust="spacingAndGlyphs">26 Oct 16:00</text>
<rect x="963" y="587" width="1" height="3" fill="#fff"/>
<text x="962.4" y="599" fill="#fff" stroke="#fff" stroke-width="0.2" font-size="10" textLength="54" lengthAdjust="spacingAndGlyphs">28 Oct 00:00</text>
<rect x="1027" y="587" width="1" height="3" fill="#fff"/>
<text x="1026.4" y="599" fill="#fff" stroke="#fff" stroke-width="0.2" font-size="10" textLength="54" lengthAdjust="spacingAndGlyphs">31 Oct 08:00</text>
<rect x="1091" y="587" width="1" height="3" fill="#fff"/>
<text x="1090.4" y="599" fill="#fff" stroke="#fff" stroke-width="0.2" font-size="10" textLength="52" lengthAdjust="spacingAndGlyphs">1 Nov 16:00</text>
<rect x="1155" y="587" width="1" height="3" fill="#fff"/>
<text x="1154.4" y="599" fill="#fff" stroke="#fff" stroke-width="0.2" font-size="10" textLength="52" lengthAdjust="spacingAndGlyphs">3 Nov 00:00</text>
</svg>
</body></html>
